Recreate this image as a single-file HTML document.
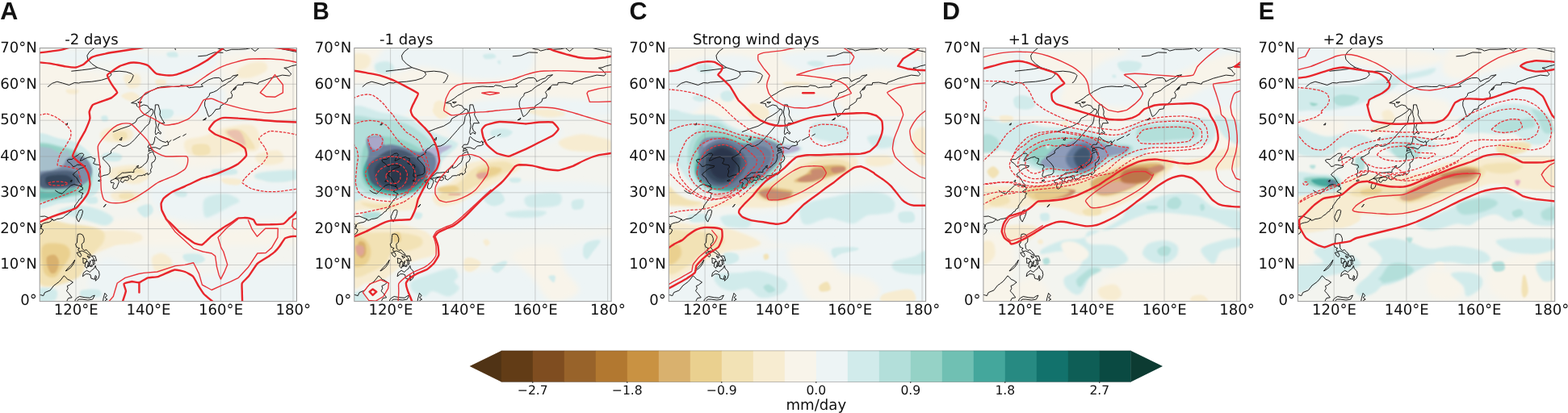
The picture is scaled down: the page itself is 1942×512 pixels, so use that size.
<!DOCTYPE html>
<html lang="en"><head><meta charset="utf-8"><title>Precipitation anomaly composites</title>
<style>html,body{margin:0;padding:0;background:#fff}body{width:1942px;height:512px;overflow:hidden}svg{display:block}text{text-rendering:geometricPrecision}.t{font-family:"DejaVu Sans","Liberation Sans",sans-serif;font-size:18.1px;fill:#111}.c{font-family:"DejaVu Sans","Liberation Sans",sans-serif;font-size:15.6px;fill:#111}.L{font-family:"Liberation Sans",Arial,Helvetica,sans-serif;font-weight:700;font-size:30.5px;fill:#111}.g{stroke:#8f8f8f;stroke-width:.7;stroke-opacity:.55;fill:none}.k{stroke:#111;stroke-width:.95;fill:none;stroke-linejoin:round;stroke-linecap:round}.z{stroke:#e8262c;stroke-width:2.4;fill:none;stroke-linejoin:round;stroke-linecap:round}.p{stroke:#e8343a;stroke-width:1.4;fill:none;stroke-linejoin:round}.n{stroke:#e8343a;stroke-width:1.3;fill:none;stroke-dasharray:3.5 1.6;stroke-linejoin:round}</style></head><body>
<svg width="1942" height="512" viewBox="0 0 1942 512" role="img" aria-label="Composite precipitation anomaly maps">
<defs>
<clipPath id="cp0"><rect x="49.2" y="59.5" width="318.3" height="314.1"/></clipPath>
<clipPath id="cp1"><rect x="438.8" y="59.5" width="318.3" height="314.1"/></clipPath>
<clipPath id="cp2"><rect x="828.3" y="59.5" width="318.3" height="314.1"/></clipPath>
<clipPath id="cp3"><rect x="1217.9" y="59.5" width="318.3" height="314.1"/></clipPath>
<clipPath id="cp4"><rect x="1607.4" y="59.5" width="318.3" height="314.1"/></clipPath>
<filter id="b1" x="-30%" y="-30%" width="160%" height="160%"><feGaussianBlur stdDeviation="0.8"/></filter>
<filter id="b2" x="-30%" y="-30%" width="160%" height="160%"><feGaussianBlur stdDeviation="1.6"/></filter>
<filter id="b3" x="-30%" y="-30%" width="160%" height="160%"><feGaussianBlur stdDeviation="3.2"/></filter>
<filter id="b5" x="-40%" y="-40%" width="180%" height="180%"><feGaussianBlur stdDeviation="5"/></filter>
</defs>
<rect width="1942" height="512" fill="#fff"/>
<g id="panel-A">
<rect x="49.2" y="59.5" width="318.3" height="314.1" fill="#f3f4ef"/>
<g clip-path="url(#cp0)">
<path d="M48,81.1C56.2,71.5 83.2,83.5 97.4,86C111.7,88.5 125.4,91.2 133.7,95.9C141.9,100.6 149.6,108.5 146.9,114C144.1,119.5 123.2,123.9 117.2,128.9C111.2,133.8 122.1,141.2 110.6,143.7C99.1,146.2 58.4,154.1 48,143.7C37.6,133.2 39.8,90.7 48,81.1Z" fill="#f8f4ea" filter="url(#b3)"/>
<path d="M64.5,64.6C74.9,62.4 108.4,60.7 130.4,61.3C152.4,61.8 174.3,67.3 196.3,67.9C218.3,68.4 249.8,62.9 262.2,64.6C274.6,66.2 275.9,72.3 270.4,77.8C264.9,83.3 244.4,95.9 229.2,97.5C214.1,99.2 193.5,91.2 179.8,87.7C166.1,84.1 160.6,77.8 146.9,76.1C133.1,74.5 110.6,78 97.4,77.8C84.2,77.5 73.3,76.7 67.8,74.5C62.3,72.3 54,66.8 64.5,64.6Z" fill="#edf4f5" filter="url(#b3)"/>
<path d="M275.4,71.2C290.3,66 352.6,55.8 368,67.9C383.4,80 380.1,131 368,143.7C355.8,156.3 312.8,147.5 295.2,143.7C277.5,139.8 264.9,128 262.2,120.6C259.5,113.2 276.5,107.4 278.7,99.2C280.9,91 260.5,76.4 275.4,71.2Z" fill="#f8f4ea" filter="url(#b3)"/>
<path d="M179.8,112.4C188.1,106.3 221,107.4 237.5,107.4C254,107.4 274.6,106.3 278.7,112.4C282.8,118.4 277.3,138.5 262.2,143.7C247.1,148.9 201.8,148.9 188.1,143.7C174.3,138.5 171.6,118.4 179.8,112.4Z" fill="#edf4f5" filter="url(#b3)"/>
<path d="M212.8,146.9C225.1,142.5 252.8,150.2 278.7,151.8C304.5,153.5 353.1,147.7 368,156.8C382.9,165.8 380.1,198.5 368,206.2C355.8,213.9 318.3,202.9 295.2,202.9C272,202.9 244.4,210.3 229.2,206.2C214.1,202.1 207.3,188.1 204.5,178.2C201.8,168.3 200.4,151.3 212.8,146.9Z" fill="#f8f4ea" filter="url(#b3)"/>
<path d="M188.1,232.5C199,225.1 248.7,226.4 278.7,225.9C308.7,225.3 353.1,222.6 368,229.2C382.9,235.8 380.1,258.6 368,265.4C355.8,272.3 321,269.6 295.2,270.4C269.3,271.2 230.6,276.7 212.8,270.4C194.9,264.1 177.1,239.9 188.1,232.5Z" fill="#edf4f5" filter="url(#b3)"/>
<path d="M105.7,278.6C120.8,273.4 170.2,269.3 196.3,270.4C222.4,271.5 233.6,283.8 262.2,285.2C290.8,286.6 350.4,275.9 368,278.6C385.6,281.4 411.7,297.8 368,301.7C324.3,305.5 149.4,305.5 105.7,301.7C62,297.8 90.6,283.8 105.7,278.6Z" fill="#f8f4ea" filter="url(#b3)"/>
<path d="M130.4,319.7C144.1,314.8 173.2,343.1 212.8,344.4C252.4,345.8 342.1,323 368,328C393.9,332.9 407.6,366.4 368,374.1C328.4,381.8 170,383.2 130.4,374.1C90.8,365 116.7,324.7 130.4,319.7Z" fill="#edf4f5" filter="url(#b3)"/>
<path d="M127.1,161.7C130.7,159.2 140.8,156.8 146.9,156.8C152.9,156.8 160.9,159 163.3,161.7C165.8,164.5 165.5,170.8 161.7,173.2C157.8,175.7 146.3,176.8 140.3,176.5C134.2,176.3 127.6,174.1 125.4,171.6C123.2,169.1 123.5,164.2 127.1,161.7Z" fill="#f7ecd1" filter="url(#b2)"/>
<path d="M140.3,165C142.2,163.2 152.4,162.3 155.1,163.4C157.8,164.5 158.7,169.8 156.7,171.6C154.8,173.4 146.3,175.2 143.6,174.1C140.8,173 138.3,166.8 140.3,165Z" fill="#f2e2b5" filter="url(#b1)"/>
<path d="M229.2,174.9C232.5,171.1 245.7,171.1 254,168.3C262.2,165.6 269.1,160.6 278.7,158.4C288.3,156.2 304.5,153.2 311.6,155.1C318.8,157 320.4,164.7 321.5,170C322.6,175.2 322.6,183.4 318.2,186.4C313.8,189.5 304.5,186.7 295.2,188.1C285.8,189.5 272.4,194.1 262.2,194.7C252,195.2 239.7,194.7 234.2,191.4C228.7,188.1 226,178.7 229.2,174.9Z" fill="#f7ecd1" filter="url(#b2)"/>
<path d="M240.8,181.5C243,179.8 252.9,179.3 255.6,180.7C258.4,182 259.5,188.1 257.3,189.7C255.1,191.4 245.2,191.9 242.4,190.6C239.7,189.2 238.6,183.1 240.8,181.5Z" fill="#f2e2b5" filter="url(#b1)"/>
<path d="M278.7,161.7C280.9,159.9 293,158.7 298.5,160.9C303.9,163.1 308.9,170.9 311.6,174.9C314.4,178.9 317.1,183.7 314.9,184.8C312.7,185.9 303.4,183.7 298.5,181.5C293.5,179.3 288.6,174.9 285.3,171.6C282,168.3 276.5,163.5 278.7,161.7Z" fill="#f2e2b5" filter="url(#b1)"/>
<path d="M281.2,163.4C282,161.4 293,159.8 296.8,162.5C300.7,165.3 305,177.9 304.2,179.8C303.4,181.8 295.7,176.8 291.9,174.1C288,171.3 280.3,165.3 281.2,163.4Z" fill="#e9b9ad" fill-opacity="0.8" filter="url(#b1)"/>
<path d="M318.2,191.4C322.3,188.9 339.1,185.1 344.6,186.4C350.1,187.8 352.8,196.6 351.2,199.6C349.5,202.6 339.9,204.3 334.7,204.6C329.5,204.8 322.6,203.5 319.9,201.3C317.1,199.1 314.1,193.8 318.2,191.4Z" fill="#f7ecd1" filter="url(#b2)"/>
<path d="M137,209.5C140.8,206.5 156.2,204.6 163.3,204.6C170.5,204.6 176.8,206.5 179.8,209.5C182.8,212.5 188.1,220.5 181.5,222.7C174.9,224.9 147.7,224.9 140.3,222.7C132.9,220.5 133.1,212.5 137,209.5Z" fill="#f7ecd1" filter="url(#b2)"/>
<path d="M146.9,212.8C150.2,210.7 168,208.4 173.2,209.5C178.4,210.6 181.5,217.3 178.2,219.4C174.9,221.4 158.7,223 153.5,221.9C148.2,220.8 143.6,214.9 146.9,212.8Z" fill="#f2e2b5" filter="url(#b2)"/>
<path d="M137,240.7C138.6,238.4 150.7,236.6 156.7,236.6C162.8,236.6 171.3,238.7 173.2,240.7C175.1,242.8 172.7,247.3 168.3,249C163.9,250.6 152.1,252 146.9,250.6C141.6,249.2 135.3,243.1 137,240.7Z" fill="#f7ecd1" filter="url(#b2)"/>
<path d="M148.5,240.7C150.7,239.6 160.6,239.1 163.3,239.9C166.1,240.7 167.2,244.6 165,245.7C162.8,246.8 152.9,247.3 150.2,246.5C147.4,245.7 146.3,241.8 148.5,240.7Z" fill="#f2e2b5" filter="url(#b1)"/>
<path d="M150.2,216C154.3,214.4 176,214.1 179.8,216C183.7,217.9 177.3,225.9 173.2,227.5C169.1,229.2 158.9,227.8 155.1,225.9C151.3,224 146,217.6 150.2,216Z" fill="#f7ecd1" filter="url(#b2)"/>
<path d="M113.9,288.5C118.9,286 137,284.9 146.9,285.2C156.7,285.5 169.4,287.7 173.2,290.1C177.1,292.6 179.3,298.4 169.9,300C160.6,301.7 126.5,302 117.2,300C107.9,298.1 109,291 113.9,288.5Z" fill="#f7ecd1" filter="url(#b2)"/>
<path d="M275.4,220.9C278.7,220.1 295.2,221.2 298.5,222.6C301.7,224 298.5,228.4 295.2,229.2C291.9,230 282,228.9 278.7,227.5C275.4,226.2 272.1,221.8 275.4,220.9Z" fill="#f7ecd1" filter="url(#b1)"/>
<path d="M153.5,94.2C155.4,91.5 168.3,90.7 171.6,92.6C174.9,94.5 175.1,103 173.2,105.8C171.3,108.5 163.3,111 160,109.1C156.7,107.2 151.5,97 153.5,94.2Z" fill="#f7ecd1" filter="url(#b2)"/>
<path d="M295.2,86C297.9,83 306.1,79.1 311.6,77.8C317.1,76.4 325.1,76.1 328.1,77.8C331.1,79.4 332.5,84.6 329.8,87.7C327,90.7 317.4,94.5 311.6,95.9C305.9,97.3 297.9,97.5 295.2,95.9C292.4,94.2 292.4,89 295.2,86Z" fill="#f7ecd1" filter="url(#b2)"/>
<path d="M150.2,119C150.2,117 159.5,113.7 163.3,114C167.2,114.3 173.2,118.7 173.2,120.6C173.2,122.5 167.2,125.8 163.3,125.6C159.5,125.3 150.2,120.9 150.2,119Z" fill="#f7ecd1" filter="url(#b1)"/>
<path d="M193,99.2C194.6,98.1 202.6,98.1 204.5,99.2C206.5,100.3 206.2,104.7 204.5,105.8C202.9,106.9 196.6,106.9 194.6,105.8C192.7,104.7 191.4,100.3 193,99.2Z" fill="#f7ecd1" filter="url(#b1)"/>
<path d="M82.6,110.7C84.8,110 95.5,110.6 97.4,111.6C99.4,112.5 96.3,115.8 94.1,116.5C91.9,117.2 86.2,116.6 84.2,115.7C82.3,114.7 80.4,111.4 82.6,110.7Z" fill="#f7ecd1" filter="url(#b1)"/>
<path d="M188.1,319.7C189.4,316 197.1,313.4 201.2,313.9C205.4,314.5 211.4,319.3 212.8,323C214.1,326.7 212.8,334 209.5,336.2C206.2,338.4 196.6,338.9 193,336.2C189.4,333.4 186.7,323.4 188.1,319.7Z" fill="#f7ecd1" filter="url(#b2)"/>
<path d="M48,281.9C52.1,278.3 63.7,279.7 72.7,280.3C81.8,280.8 92.8,283 102.4,285.2C112,287.4 120.2,290.7 130.4,293.4C140.5,296.2 177.1,300.3 163.3,301.7C149.6,303.1 67.2,305 48,301.7C28.8,298.4 43.9,285.5 48,281.9Z" fill="#f7ecd1" filter="url(#b2)"/>
<path d="M48,291.7C61.7,281.8 111.2,291.2 130.4,291.7C149.6,292.3 161.7,292.8 163.3,295C165,297.2 148,301.6 140.3,304.9C132.6,308.2 124.9,310.9 117.2,314.8C109.5,318.6 99.6,323.3 94.1,328C88.6,332.6 88.6,338.7 84.2,342.8C79.9,346.9 73.8,351.3 67.8,352.7C61.7,354 51.3,361.2 48,351C44.7,340.9 34.3,301.6 48,291.7Z" fill="#f7ecd1" filter="url(#b2)"/>
<path d="M48,295C55.1,286.2 83.8,290.6 90.8,293.4C97.8,296.1 90.8,306 90,311.5C89.2,317 88,321.6 85.9,326.3C83.8,331 81.2,335.9 77.7,339.5C74.1,343.1 69.4,346.6 64.5,347.7C59.5,348.8 50.7,354.9 48,346.1C45.3,337.3 40.9,303.8 48,295Z" fill="#f2e2b5" filter="url(#b2)"/>
<path d="M48,288.5C51.3,285.8 60.6,284.9 67.8,285.2C74.9,285.5 85.1,287.4 90.8,290.1C96.6,292.9 109.5,299.8 102.4,301.7C95.2,303.6 57.1,303.9 48,301.7C38.9,299.5 44.7,291.2 48,288.5Z" fill="#f2e2b5" filter="url(#b2)"/>
<path d="M52.9,304.9C55.6,301 62.8,301.6 67.8,301.6C72.7,301.6 79.4,302.4 82.6,304.9C85.8,307.4 87.8,311.6 86.7,316.4C85.6,321.2 79.2,329.2 76,333.7C72.9,338.3 71.1,342.5 67.8,343.6C64.5,344.7 58.8,343.5 56.2,340.3C53.6,337.2 52.7,330.6 52.1,324.7C51.6,318.8 50.3,308.7 52.9,304.9Z" fill="#ead08f" filter="url(#b2)"/>
<path d="M58.7,318.1C60.3,316.1 65.4,315 67.8,316.1C70.2,317.2 72.8,321.2 73,324.7C73.3,328.1 71.1,334.8 69.4,337C67.7,339.3 64.7,339.7 62.8,338.2C61,336.7 58.9,331.3 58.2,328C57.5,324.6 57.1,320 58.7,318.1Z" fill="#d9b16e" filter="url(#b1)"/>
<path d="M64.5,331.6C65.3,330.8 69.5,330.7 70.2,331.6C71,332.5 69.9,336.2 69.1,337C68.3,337.8 66.1,337.4 65.3,336.5C64.5,335.6 63.7,332.4 64.5,331.6Z" fill="#d99a8c" fill-opacity="0.8" filter="url(#b1)"/>
<path d="M127.1,191.4C128.7,189.7 136.3,188.6 140.3,188.9C144.3,189.2 149.9,191.2 151,193C152.1,194.8 150.3,198.7 146.9,199.6C143.4,200.6 133.7,200.2 130.4,198.8C127.1,197.4 125.4,193 127.1,191.4Z" fill="#d1ebeb" filter="url(#b1)"/>
<path d="M72.7,260.5C75.5,258.6 89.2,254.9 97.4,254.7C105.7,254.6 115,257.1 122.1,259.7C129.3,262.3 138.9,267.1 140.3,270.4C141.6,273.7 136.2,279 130.4,279.4C124.6,279.8 113.9,275 105.7,272.8C97.4,270.6 86.4,268.3 81,266.3C75.5,264.2 70,262.4 72.7,260.5Z" fill="#d1ebeb" filter="url(#b2)"/>
<path d="M105.7,245.7C107.3,244.3 116.4,243.1 118.9,244C121.3,245 122.1,250.1 120.5,251.4C118.9,252.8 111.4,253.2 109,252.2C106.5,251.3 104,247 105.7,245.7Z" fill="#d1ebeb" filter="url(#b1)"/>
<path d="M169.9,258.8C170.8,256.1 181.5,252.5 184.8,253.1C188.1,253.6 190.5,259.4 189.7,262.1C188.9,264.9 183.1,270.1 179.8,269.6C176.5,269 169.1,261.6 169.9,258.8Z" fill="#d1ebeb" filter="url(#b1)"/>
<path d="M252.3,249C253.7,244.6 257.3,243.7 262.2,242.4C267.1,241 276.2,239.6 282,240.7C287.7,241.8 296.3,246.5 296.8,249C297.4,251.4 290.2,252.8 285.3,255.5C280.3,258.3 272.4,263.2 267.1,265.4C261.9,267.6 256.4,271.5 254,268.7C251.5,266 250.9,253.3 252.3,249Z" fill="#d1ebeb" filter="url(#b2)"/>
<path d="M216.1,237.4C218,236.6 228.7,237.1 230.9,238.2C233.1,239.3 231.2,243.2 229.2,244C227.3,244.8 221.6,244.3 219.4,243.2C217.2,242.1 214.1,238.2 216.1,237.4Z" fill="#d1ebeb" filter="url(#b1)"/>
<path d="M324.8,216C329.8,214.5 355.6,214.6 361.1,216C366.6,217.4 362.7,222.7 357.8,224.2C352.8,225.7 336.9,226.4 331.4,225.1C325.9,223.7 319.9,217.5 324.8,216Z" fill="#d1ebeb" filter="url(#b2)"/>
<path d="M227.6,315.6C230.3,314.2 241.3,313.7 245.7,314.8C250.1,315.9 254.5,320.1 254,322.2C253.4,324.2 246.6,327 242.4,327.1C238.3,327.3 231.7,324.9 229.2,323C226.8,321.1 224.9,317 227.6,315.6Z" fill="#d1ebeb" filter="url(#b1)"/>
<path d="M100.7,360.1C104,358.6 118.3,358 122.1,359.3C126,360.5 127.1,366 123.8,367.5C120.5,369 106.2,369.6 102.4,368.3C98.5,367.1 97.4,361.6 100.7,360.1Z" fill="#d1ebeb" filter="url(#b1)"/>
<path d="M48,357.6C51.6,355.3 66.1,356.8 69.4,359.3C72.7,361.7 71.3,370.1 67.8,372.4C64.2,374.8 51.3,375.7 48,373.3C44.7,370.8 44.4,359.9 48,357.6Z" fill="#d1ebeb" filter="url(#b2)"/>
<path d="M263.9,210.3C268,209.1 285.5,208.5 290.2,209.5C294.9,210.5 296,214.9 291.9,216.1C287.7,217.3 270.2,217.9 265.5,216.9C260.8,216 259.7,211.6 263.9,210.3Z" fill="#d1ebeb" filter="url(#b1)"/>
<path d="M319.9,214.4C327.6,212.5 360,209.8 368,211.1C376,212.5 375.7,220.8 368,222.7C360.2,224.6 329.5,224.1 321.5,222.7C313.5,221.3 312.1,216.4 319.9,214.4Z" fill="#d1ebeb" filter="url(#b2)"/>
<path d="M196.3,137C198.5,135.4 210.3,135.5 212.8,137C215.2,138.5 213.3,144.4 211.1,146.1C208.9,147.7 202.1,148.4 199.6,146.9C197.1,145.4 194.1,138.6 196.3,137Z" fill="#d1ebeb" filter="url(#b1)"/>
<path d="M207,65.4C208.5,64.5 215.5,63.8 217.7,64.6C219.9,65.4 221.7,69.4 220.2,70.4C218.7,71.3 210.8,71.2 208.7,70.4C206.5,69.5 205.5,66.4 207,65.4Z" fill="#d1ebeb" filter="url(#b1)"/>
<path d="M199.6,136.8C201.6,135.7 210.4,135.3 212.8,136.3C215.1,137.3 215.7,141.8 213.6,142.9C211.5,144 202.7,143.9 200.4,142.9C198.1,141.8 197.5,137.9 199.6,136.8Z" fill="#d1ebeb" filter="url(#b1)"/>
<path d="M125.4,144.4C126.3,143.3 130.7,142.8 132,143.6C133.4,144.4 134.5,148.3 133.7,149.4C132.9,150.5 128.5,151 127.1,150.2C125.7,149.4 124.6,145.5 125.4,144.4Z" fill="#d1ebeb" filter="url(#b1)"/>
<path d="M40,171C45.8,157.5 65,170.5 75,172C85,173.5 92.8,175.3 100,180C107.2,184.7 114,192.5 118,200C122,207.5 123.8,218.3 124,225C124.2,231.7 123,236 119,240C115,244 107.3,247 100,249C92.7,251 85,251.3 75,252C65,252.7 45.8,266.5 40,253C34.2,239.5 34.2,184.5 40,171Z" fill="#d1ebeb" filter="url(#b1)"/>
<path d="M40,182C46.7,171.5 69.5,181 80,183C90.5,185 97.3,188.8 103,194C108.7,199.2 113,207 114,214C115,221 114,231 109,236C104,241 95.5,242.3 84,244C72.5,245.7 47.3,256.3 40,246C32.7,235.7 33.3,192.5 40,182Z" fill="#95d2c6" filter="url(#b2)"/>
<path d="M40,236C43.3,234.7 53.3,238 60,238C66.7,238 74.2,237.3 80,236C85.8,234.7 94.2,229 95,230C95.8,231 90.8,239.3 85,242C79.2,244.7 67.5,245.3 60,246C52.5,246.7 43.3,247.7 40,246C36.7,244.3 36.7,237.3 40,236Z" fill="#44a79c" fill-opacity="0.6" filter="url(#b2)"/>
<path d="M40,185C43.3,179.5 54.2,182.2 60,183C65.8,183.8 71,189.5 75,190C79,190.5 82.2,184.3 84,186C85.8,187.7 86.7,195.7 86,200C85.3,204.3 84.3,209.3 80,212C75.7,214.7 66.7,215.3 60,216C53.3,216.7 43.3,221.2 40,216C36.7,210.8 36.7,190.5 40,185Z" fill="#b4aed0" fill-opacity="0.55" filter="url(#b1)"/>
<path d="M83,197C85.8,194.8 90.8,191.8 95,192C99.2,192.2 104.8,195 108,198C111.2,201 113.5,206 114,210C114.5,214 113.3,218.7 111,222C108.7,225.3 104.3,228.2 100,230C95.7,231.8 90,232.5 85,233C80,233.5 75,233.3 70,233C65,232.7 59.2,232 55,231C50.8,230 46.7,229.8 45,227C43.3,224.2 41.7,216.7 45,214C48.3,211.3 59.5,212.5 65,211C70.5,209.5 75,207.3 78,205C81,202.7 80.2,199.2 83,197Z" fill="#7d8fa8" filter="url(#b1)"/>
<path d="M50,217C53.3,213.7 63.7,212.8 70,212C76.3,211.2 83.2,210.8 88,212C92.8,213.2 97.7,216.3 99,219C100.3,221.7 98.3,225.8 96,228C93.7,230.2 89.7,231 85,232C80.3,233 73.8,234 68,234C62.2,234 53,234.8 50,232C47,229.2 46.7,220.3 50,217Z" fill="#4d6078" filter="url(#b2)"/>
<path d="M57,220C59,218 65.5,217.3 70,217C74.5,216.7 80.7,216.8 84,218C87.3,219.2 90,222.2 90,224C90,225.8 87.7,227.8 84,229C80.3,230.2 72.3,231 68,231C63.7,231 59.8,230.8 58,229C56.2,227.2 55,222 57,220Z" fill="#34465c" filter="url(#b1)"/>
<path d="M49,279C55.8,267 77.3,277 90,278C102.7,279 118.7,281.3 125,285C131.3,288.7 130.5,294.2 128,300C125.5,305.8 115.5,312.5 110,320C104.5,327.5 105.2,340 95,345C84.8,350 56.7,361 49,350C41.3,339 42.2,291 49,279Z" fill="#f2e2b5" filter="url(#b2)"/>
<path d="M52.9,304.9C55.6,301 62.8,301.6 67.8,301.6C72.7,301.6 79.4,302.4 82.6,304.9C85.8,307.4 87.8,311.6 86.7,316.4C85.6,321.2 79.2,329.2 76,333.7C72.9,338.3 71.1,342.5 67.8,343.6C64.5,344.7 58.8,343.5 56.2,340.3C53.6,337.2 52.7,330.6 52.1,324.7C51.6,318.8 50.3,308.7 52.9,304.9Z" fill="#ead08f" filter="url(#b2)"/>
<path d="M58.7,318.1C60.3,316.1 65.4,315 67.8,316.1C70.2,317.2 72.8,321.2 73,324.7C73.3,328.1 71.1,334.8 69.4,337C67.7,339.3 64.7,339.7 62.8,338.2C61,336.7 58.9,331.3 58.2,328C57.5,324.6 57.1,320 58.7,318.1Z" fill="#d9b16e" filter="url(#b1)"/>
<path d="M239.1,180.2C241.9,178.2 254,177.8 257.3,179.5C260.6,181.2 261.7,188.6 258.9,190.6C256.2,192.5 244.1,193.1 240.8,191.4C237.5,189.6 236.4,182.1 239.1,180.2Z" fill="#f2e2b5" filter="url(#b1)"/>
<path class="g" d="M94,59.5 V373.6M183.7,59.5 V373.6M273.3,59.5 V373.6M363,59.5 V373.6M49.2,328.5 H367.5M49.2,283.6 H367.5M49.2,238.8 H367.5M49.2,194 H367.5M49.2,149.2 H367.5M49.2,104.3 H367.5"/>
<path class="k" transform="translate(0 0)" d="M47,276.9 49.6,277.4 51,279.2 50.1,282.3 51.4,281.9 51.9,278.3 54.1,276.9 57.3,276 60.4,275.6 63.1,274.2 64.9,271.5 65.8,273.3 68,272.9 70.7,271.5 74.3,271.1 78.3,269.8 80.6,267.5 84.2,265.3 86,263 88.7,261.7 89.5,259.4 92.2,258.1 92.7,255 94.5,252.7 96.7,249.6 98.5,246.9 101.2,245.1 101.2,242.4 103,239.7 100.8,238.8 97.6,237.5 99.9,235.7 102.5,234.8 102.1,232.1 99.4,230.8 101.7,229.9 98.5,226.7 96.7,223.6 94.5,220 91.3,217.7 90.4,216 93.1,213.7 95.4,211.9 97.6,209.7 100.8,208.3 104.8,207.4 105.7,205.6 102.1,205.2 98.5,204.3 95.4,204.3 93.1,206.1 90.4,206.5 89.1,204.7 87.3,202.5 84.2,200.7 83.3,198.5 85.1,197.6 89.1,197.6 91.3,195.8 93.6,194 96.7,192.2 98.5,190.4 102.1,190 103.9,191.7 101.7,194.9 99.9,197.6 99.4,199.4 102.1,198.5 105.2,196.7 108.8,195.3 112.9,194.4 114.7,195.8 117.8,196.7 117.3,199.8 115.5,202.5 118.7,203.9 121.4,204.3 123.6,204.7 124.5,207.4 122.3,209.2 123.6,211.9 123.2,214.2 122.3,216.4 122.3,218.6 124.1,219.5 126.8,218.2 129,217.3 131.7,216.9 134.4,216 136.2,213.7 136.2,211 136.2,207.4 134.8,204.7 132.6,202.1 129.9,199.4 127.7,197.1 127.7,194.9 130.8,194 134.4,191.7 137.5,190 137.5,187.3 140.2,184.1 142,183.7 143.3,181.9 146.9,179.2 149.2,179.6 151.9,181.4 155.9,181 160.4,178.7 163.5,176.1 167.1,172.5 170.2,168.9 173.8,164.9 177,161.3 180.6,156.8 184.6,153.6 185.9,149.2 186.4,144.7 189.1,141.1 190,138.8 189.1,135.7 185,134.8 182.8,131.2 177.9,129.9 173.8,131.7 171.6,133 169.3,131.2 169.3,128.5 162.6,127.6 166.7,125.8 172.5,122.3 177,118.7 182.8,115.5 185.9,113.3 190.4,111.1 194.9,108.8 201.6,107.5 208.3,107 215.1,107.5 221.8,107.5 224,105.7 230.8,106.6 234.3,108.8 237.5,108.4 242,107.9 247.8,107.9 251.4,107 249.1,104.8 258.1,99 264.4,96.7 271.1,96.3 274.2,98.5 275.1,101.2 280.1,98.5 285.9,96.7 288.1,94 294.9,92.7 289.5,96.7 286.8,99.8 282.3,102.1 280.1,104.3 275.6,106.6 272.5,108.8 268.9,112 264.4,114.2 259.9,115.5 259,118.7 255.4,122.3 253.6,126.7 253.6,131.2 255.4,135.7 256.8,140.2 258.6,144.7 262.1,142.4 265.7,138 267.1,135.7 272.5,134.8 273.3,131.2 277.8,128.5 281.4,125.8 282.3,122.3 286.8,121.4 287.7,117.8 285.9,114.2 288.1,112 290.4,108.8 294.9,105.2 301.1,105.2 301.6,102.5 309.2,102.1 319.5,104.3 320.4,102.1 327.1,99.8 333.9,97.2 340.6,95.4 349.6,93.1 358.5,94 360.8,91.8 358.5,89.5 356.3,86.4 351.8,84.2 356.3,83.7 360.8,81.9 368.4,80.1M266.6,58.6 272.5,60.8 276.9,61.3 280.1,63.1 286.8,61.3 295.8,61.3 304.7,60.8 310.6,59.5 315.9,63.5 320.4,59.9 322.7,58.6M342.8,59.1 349.6,60.8 358.5,62.6 365.3,64 368.8,64.9M47,284.1 51,283.2 53.7,285 51.9,289 49.2,290.8 47,291.7M98.5,260.8 101.2,259.9 102.5,261.2 102.1,264.4 100.8,268.4 98.5,272.9 97.6,275.1 95.4,272 94.5,268.9 96.3,264.8ZM121.8,224 123.6,222.9 125.2,223.4 123.6,224.5ZM139.8,222.7 142.9,221.3 146.5,222.7 147.4,225.4 145.6,229.9 144.7,232.5 142,234.3 139.8,233 140.2,229.4 141.5,227.2 139.8,226.3 137.5,226.7 137.1,224.5ZM149.6,223.1 151,220.9 155,219.5 159.5,220 159.9,221.8 157.7,224 154.6,223.1 152.3,226.3 150.1,225.4ZM142.9,220.9 145.1,219.1 148.7,216.4 151.4,214.2 154.6,214.2 159,213.7 162.6,213.3 165.8,213.7 165.8,210.6 168.9,208.3 169.3,206.1 171.6,205.2 170.2,207.9 172.5,208.3 176.1,206.5 178.3,203.9 181.4,201.6 182.8,198.5 183.7,194.9 183.2,191.7 185,189.5 187.7,188.6 189.5,187.7 190.4,191.3 192.2,194 192.7,196.7 190.9,200.3 188.2,201.6 187.7,203.9 188.2,207.4 186.8,209.7 186.4,211.9 187.3,213.3 185,215.5 183.2,216.9 182.8,214.6 181.9,215.1 180.1,215.5 179.2,217.7 178.3,216.4 176.1,217.7 173.4,217.7 170.2,218.2 169.8,219.5 167.1,221.3 164.9,223.1 162.2,221.8 161.7,219.5 162.6,218.2 159.5,217.7 156.3,219.1 152.3,219.5 148.7,220.9 146.9,220.9ZM184.1,187.3 185,183.7 182.8,182.3 185,179.2 189.5,179.2 191.3,174.7 191.8,170.2 192.7,169.3 196.7,172.9 200.7,175.2 205.2,176.5 207.4,174.7 208.8,179.2 206.1,180.5 201.6,181 198.5,184.1 198,185 192.7,182.8 188.2,182.8 185.5,183.7 189.1,185.9 186.4,186.4ZM192.7,129.9 196.2,129.9 197.1,133.5 198.5,138 198,142.4 200.7,147.8 203.9,152.7 197.1,152.7 195.3,158.1 197.1,162.6 199.4,164 198.9,166.2 195.8,164 193.1,167.1 192.2,164.4 192.7,160.4 193.6,155.9 192.7,151.4 193.1,146.9 191.8,142.4 191.3,138.8 192.2,134.4ZM208.3,177 211.9,173.8M214.6,173.8 219.6,171.1 223.1,169.3M226.7,168.4 230.3,166.2M251.8,148.7 255.4,146 254.5,148.3 251.8,148.7M289,111.1 292.6,107.9 291.3,110.6ZM171.1,126.7 175.6,126.3 173.8,128.1ZM128.5,256.3 131.2,253.2 129.9,255.4ZM96.7,290.4 99.4,289.9 102.5,291.3 104.3,295.8 103.9,300.2 101.2,302.5 101.7,307.9 104.3,310.5 107,309.7 108.8,311.4 112,315 112.4,316.8 108.8,315 105.7,312.8 101.7,311 98.1,311.9 96.7,309.2 98.5,307.9 96.7,307 94.9,306.5 93.6,302.5 95.4,301.1 95.8,294.9ZM95.4,313.2 99,312.8 100.8,316.4 99.4,318.6 97.6,317.3ZM81.5,335.7 84.6,332.1 88.2,328.5 90.9,324.9 92.7,322.2 91.3,326.7 87.8,331.6 83.7,334.8ZM103,320 107,321.3 107.9,323.1 105.7,326.2 103,326.2 103,323.1ZM107,324 109.7,324.9 108.8,328.9 107.5,332.5 105.2,330.3 105.7,326.7ZM109.3,330.7 111.1,327.1 112,323.1 110.6,327.6ZM111.1,329.4 114.2,328.5 114.2,330.3 112,330.3ZM113.8,322.2 116.4,322.7 117.3,327.1 115.5,328.5 115.1,324.4ZM113.3,317.3 117.8,317.3 119.6,323.1 116.4,323.1 116,320.4ZM108.4,317.3 112,318.6 110.2,320ZM102.5,342.4 103.4,338.3 107.5,335.2 111.1,337.4 113.8,334.8 116.4,333 118.2,329.4 119.1,333 122.3,336.1 123.2,340.6 121.8,345.1 118.2,348.2 119.6,342.8 118.2,341.5 117.3,346.4 112.9,345.1 112,340.6 109.3,339.7 106.6,339.7ZM47,364.8 50.5,365.7 53.7,366.6 55.5,362.6 62.2,359.9 66.7,354 69.8,351.8 73.4,349.1 76.1,346 79.2,341.9 81.5,343.7 83.7,346.4 86.4,347.3 90.4,350 86.4,353.1 83.3,354.5 84.2,357.6 82.4,360.8 85.1,363.4 89.1,368.8 84.6,369.7 82.8,373.3 82.4,376M92.7,375.6 93.1,371.5 95.4,369.3 98.5,367.5 105.2,368.8 111.5,369.3 114.7,367 117.3,366.1 114.7,371.1 108.8,372 102.1,371.1 97.2,371.1 94.5,374.7 94,376M127.2,375.6 128.1,369.7 129.4,365.2 129.9,363.4 132.6,366.6 129.9,368.8 133,371.1 130.8,372 129.4,375.6M118.2,58.2 116.4,59.9 111.1,64 107.9,68.9 108.8,73.8 113.8,79.2 120.5,83.7 130.3,86.8 136.6,89.1 138,92.7 133.9,96.7 125.4,99.4 113.8,101.2 100.3,102.1 97.6,103 92.2,102.5 85.5,105.5 77.4,103 70.7,101.2 64.4,103.4 59.5,107.5M136.6,89.1 147.8,88.2 156.3,89.1 163.1,91.3 165.3,93.6 163.5,98.1 161.3,101.6 159.5,102.5M88.7,88.2 101.7,86.8 112,85.5 120.5,83.7M245.6,69.8 255.4,68.9 260.8,66.7 265.7,64.9 276,65.3M216.4,58.2 217.3,61.7M140.2,163.5 150.1,159.5 159.9,156.3 168,151.4 170.2,146.9 177,143.3 183.7,138.8 187.3,135.3M47,268 50.5,268.4 55.5,268 60,269.8 64.4,271.5M68.5,236.1 72.5,238.8 77,240.2 80.6,236.6 84.2,233.4 87.8,229.9 91.8,228.5 96.3,229.9 99.4,230.8M148.3,172.9 151,170.2 150.5,173.4ZM81.5,154.5 83.7,152.7 83.3,154.5ZM87.3,224.5 89.1,223.1 88.7,224.9Z"/>
<path class="z" d="M48,65.6C49.2,65.4 62.3,63.8 64.5,63.4C66.7,63.1 75.8,61.7 77.7,61.3C79.5,60.9 88.3,58.2 89.2,58"/>
<path class="z" d="M48,77.3C49.2,77.4 62.1,78.7 64.5,79.1C66.9,79.5 78.8,82.1 81,82.4C83.1,82.7 92.4,83.8 94.1,83.5C95.8,83.3 102.6,80.4 104,79.4C105.5,78.5 112,71.8 113.9,70.9C115.8,69.9 127.7,67.1 130.4,66.6C133,66 147.3,63.7 150.2,63.3C153.1,62.8 167.6,60.7 169.9,60.3C172.2,59.9 180.6,58.2 181.5,58"/>
<path class="z" d="M278.7,58C278,58.5 270.5,64.1 268.8,65.4C267.1,66.7 258,73.8 255.6,75.3C253.2,76.8 238.6,84.7 235.8,86C233.1,87.3 219.9,92.1 217.7,92.6C215.5,93.1 207.9,93.5 206.2,93.4C204.4,93.3 195.2,92 193.8,91.4C192.5,90.9 188.8,86.8 188.1,86C187.3,85.2 184.2,81.6 183.1,81.1C182,80.5 174.8,78.3 173.2,78.1C171.7,77.9 163.5,77.5 161.7,77.8C159.9,78.1 150.3,81.1 148.5,81.9C146.8,82.7 138.9,88.2 137.8,89C136.7,89.8 133,92.2 132.9,92.9C132.7,93.7 134.8,98.1 135.3,99.2C135.9,100.3 139.5,106.3 140.3,107.4C141,108.6 145.4,113.8 145.2,114.8C145,115.9 139.3,120.6 137.8,121.4C136.4,122.2 127.1,125.2 125.4,125.9C123.8,126.5 115.8,129.2 114.7,130.2C113.6,131.1 110.9,137.5 110.6,138.7C110.4,140 111.8,145.2 111.4,146.9C111.1,148.6 106.7,159.5 105.7,161.7C104.6,163.9 98.6,174.2 97.4,176.5C96.3,178.8 90.1,191.3 90,193C89.9,194.7 94.8,198.6 95.8,199.6C96.8,200.6 103.1,205.1 104,206.2C105,207.3 108.5,213.4 109,214.4C109.4,215.5 110.4,219.9 110.6,220.9C110.8,222 111.6,227.9 111.4,229.2C111.3,230.5 109.6,237.6 109,239.1C108.3,240.5 103.5,247.6 102.4,249C101.3,250.3 95.7,257 94.1,258C92.6,259 83.1,262.2 81,263C78.8,263.7 66.9,267.8 64.5,268.7C62.1,269.7 49.2,275.1 48,275.6"/>
<path class="z" d="M331.4,58C333,58.2 350,60.1 352.8,60.5C355.6,60.8 368.1,62.8 369.3,62.9"/>
<path class="z" d="M369.3,151.5C367.5,151.4 348.2,150.7 344.6,150.5C341,150.3 323.5,148.8 319.9,148.5C316.2,148.2 298.4,146.7 295.2,146.6C291.9,146.4 277.6,145.7 275.4,146.1C273.2,146.4 266.7,150 265.5,151C264.3,152 258.8,158.9 258.9,160.1C259,161.2 265.5,165.8 267.1,166.7C268.8,167.6 279.9,171.6 282,172.4C284,173.3 293.6,177.3 295.2,178.2C296.7,179 302.7,182.9 303.4,184C304.1,185 305.6,191.6 305,193C304.4,194.4 297.1,201.6 295.2,202.9C293.2,204.2 281.1,210.1 278.7,211.1C276.3,212.2 264.3,217 262.2,217.7C260.1,218.5 253.1,220 250.7,220.9C248.3,221.9 232,229.6 229.2,230.8C226.5,232.1 214.7,237.2 212.8,238.2C210.8,239.3 203.9,244.6 202.9,245.7C201.9,246.7 199.8,251.2 199.6,252.2C199.4,253.3 199.9,259 200.4,260.5C200.9,261.9 205.5,270.9 206.2,272C206.9,273.1 209.1,274.7 210.3,275.8C211.5,277 220.5,286.2 222,287.6C223.5,288.9 229.5,293.4 230.8,294.4C232.2,295.4 239.2,300.6 240.6,301.3C242.1,301.9 248.9,304 250.4,303.4C251.9,302.8 259.3,295 261.2,293.4C263,291.9 274.1,283.9 275.8,282.7C277.6,281.5 284.2,277.7 285.6,276.8C287.1,275.9 293.8,270.9 295.4,270.4C297,270 305.8,270 307.2,270.2C308.5,270.3 313.2,271.8 314,272.4C314.8,273 316.4,277.8 317.9,278.3C319.4,278.7 332.1,278.3 334.6,278.3C337,278.2 349.4,277.9 351.2,277.3C353,276.7 358.2,270.6 359,270C359.8,269.3 361.2,268.7 362,268C362.7,267.3 368.8,260.7 369.3,260.2"/>
<path class="z" d="M369.8,293C369.2,293 363.2,292.8 362,293C360.7,293.1 354.3,294.5 353.1,295.4C352,296.3 347.2,304 346.3,305.2C345.4,306.4 341.4,311.1 340.4,312C339.4,313 334.2,316.8 332.6,317.9C331,318.9 320.7,324.9 318.9,326.7C317.1,328.5 309.5,340.5 308.1,342.3C306.7,344.1 300.4,349.7 299.8,351.1C299.2,352.6 299.8,360.2 299.8,361.9C299.8,363.6 300.1,373.2 300.1,374.1"/>
<path class="z" d="M151.8,374.1C152.1,373.1 155.8,362.5 155.9,360.9C156,359.3 152.9,352.7 153.5,351.8C154,351 162,349.2 163.3,349C164.7,348.9 171,350.5 172.4,350.2C173.9,349.9 181.4,345 183.1,344.4C184.9,343.9 193.9,343.5 196.3,342.8C198.7,342.1 213.7,335 216.1,334.5C218.5,334.1 227.6,336.4 229.2,337C230.9,337.6 237.9,341.5 239.1,342.8C240.3,344.1 244.8,352.7 245.7,354.3C246.7,355.9 251,362.8 252.3,364.2C253.6,365.7 263,373.4 263.9,374.1"/>
<path class="z" d="M172.4,350.2 172.4,362.6"/>
<path class="p" d="M369.3,77.8C368.1,77.5 355.8,74.8 352.8,74.5C349.8,74.1 331.6,72.9 328.1,72.8C324.6,72.8 308.7,73 305,73.7C301.4,74.3 281.8,79.9 278.7,81.1C275.5,82.2 264.6,87.9 262.2,89.3C259.8,90.8 247.5,99.6 245.7,100.8C243.9,102 239.9,105.3 237.5,105.8C235.1,106.3 215.8,107.2 212.8,107.4C209.8,107.7 198.7,108.5 196.3,109.1C193.9,109.7 181.5,114.5 179.8,115.7C178.1,116.9 173.7,124.1 173.2,125.6C172.7,127 172.9,134.3 173.2,135.4C173.6,136.6 177,140.4 178.2,141.2C179.4,142 187.8,145.9 189.7,146.9C191.6,147.9 202.2,154.7 204.5,155.1C206.8,155.5 218.8,153.3 221,152.7C223.2,152 232.5,148 234.2,146.9C235.9,145.8 243.1,138.9 244.1,137.8C245,136.7 246.8,133.2 247.4,132.1C248,131.1 251.2,124.6 252.3,123.9C253.4,123.2 260.3,121.9 262.2,122.3C264.1,122.6 275.7,127.9 278.7,128.9C281.7,129.8 299.8,134.7 303.4,135.4C307,136.2 325.1,139.3 328.1,139.6C331.1,139.8 341.6,139.2 344.6,138.7C347.6,138.3 367.5,134.2 369.3,133.8"/>
<path class="p" d="M340.5,92.6 350.4,105 350.4,114.8 340.5,120.3 329.8,119.8 322.3,114.8 331.4,104.1Z"/>
<path class="p" d="M150.2,153.5C152.3,153 159.4,152.4 161.7,153.5C164,154.5 171.1,162 173.2,164.2C175.4,166.3 181.5,172.7 183.1,174.9C184.8,177.1 187.6,184.5 189.7,186.4C191.8,188.3 200.4,193.1 204.5,193.8C208.7,194.6 228.1,193.1 230.9,193.8C233.7,194.6 232.7,199.7 232.5,201.3C232.4,202.8 230.9,207.9 229.2,209.5C227.6,211.1 219.4,216.1 216.1,217.7C212.8,219.4 199.9,223.9 196.3,225.9C192.7,227.9 183.1,235.3 179.8,237.4C176.5,239.6 166.3,245.9 163.3,247.3C160.4,248.7 152.8,251 150.2,251.4C147.5,251.8 139.1,251.8 137,251.4C134.8,251 129.9,248.9 128.7,247.3C127.6,245.7 125.9,238.6 125.4,235.8C125,233 124.8,222.3 124.6,219.3C124.5,216.3 124.1,210 123.8,206.2C123.5,202.4 120.7,185.3 121.3,181.5C122,177.7 128.5,170.6 130.4,168.3C132.3,166 138.3,159.9 140.3,158.4C142.2,156.9 148,154 150.2,153.5Z"/>
<path class="p" d="M204.4,270 217.1,287.6 239.6,308.1 251.4,312 262.1,314 266.6,317.4 268.5,330.6 271,340.4 273.4,346.1 277.8,337.4 281.7,328.1 276.8,312 273.9,307.1 270,294.4 280.7,282.7 294.4,271.9"/>
<path class="p" d="M307.2,272.4 312.1,284.1 318.4,293.2 328.7,283.2 344.3,283.2 343.9,294.4 336.5,307.1 329.2,313.5 318.9,314 307.2,331.6 295.4,344.3 285.6,349.2 273.9,354.1 262.1,359.5 250.4,353.1 246.5,339.4 239.6,325.7 228.9,328.4 217.1,329.6 194.6,337 178,338.4 171.6,339.5 155.1,344.4 145.2,351 140.3,367.5 134.5,374.1"/>
<path class="p" d="M369.3,270.4 362.7,272 361.9,280.3 364.4,283.6 369.3,285.2"/>
<path class="n" d="M48,142.8C48.7,142.6 56.4,141 57.9,141.1C59.3,141.2 66.1,143.5 67.8,144.4C69.5,145.3 79.5,152.2 81,153.5C82.4,154.7 87.1,160.5 87.5,161.7C88,162.9 88,168.5 87.5,170C87.1,171.4 81.9,179.9 81,181.5C80,183.1 75.1,189.7 74.4,191.4C73.6,193.1 70.6,203.5 71.1,204.6C71.6,205.6 79.1,205.8 81,206.2C82.8,206.6 94.5,208.7 95.8,209.5C97.1,210.3 97.9,215.6 98.3,216.8C98.6,218 101,224.5 100.7,225.9C100.4,227.3 95.8,234.6 94.1,235.8C92.4,237 79.8,241.5 77.7,242.4C75.5,243.2 66.7,246.5 64.5,247.3C62.3,248.1 49.2,253.1 48,253.6"/>
<ellipse class="n" cx="71.6" cy="227.5" rx="12" ry="2.4"/>
<path class="n" d="M369.3,167.5C368.1,167.2 355.4,164.5 352.8,164.2C350.3,163.8 336.8,162.3 334.7,162.5C332.6,162.8 325.8,166.8 324.8,167.5C323.8,168.2 320.5,171.3 320.7,172.4C320.9,173.6 327.3,181.6 328.1,183.1C328.9,184.6 331.6,191.6 331.4,193C331.2,194.5 326.3,201.5 324.8,202.9C323.4,204.4 313.2,211.5 311.6,212.8C310.1,214.1 304.2,220 303.4,221C302.6,222.1 299.5,225.8 300.1,226.7C300.7,227.7 309.6,233.3 311.6,234.1C313.7,234.9 325.7,237.2 328.1,237.4C330.5,237.7 341.6,237.7 344.6,237.4C347.6,237.2 367.5,234.4 369.3,234.1"/>
</g>
<rect x="49.2" y="59.5" width="318.3" height="314.1" fill="none" stroke="#9a9a9a" stroke-width="1"/>
<text class="L" transform="translate(0.2 24.4) scale(1 1)">A</text>
<text class="t" x="80.2" y="55.4">-2 days</text>
<text class="t" text-anchor="end" x="45.8" y="378">0°</text>
<text class="t" text-anchor="end" x="45.8" y="333.2">10°N</text>
<text class="t" text-anchor="end" x="45.8" y="288.5">20°N</text>
<text class="t" text-anchor="end" x="45.8" y="243.8">30°N</text>
<text class="t" text-anchor="end" x="45.8" y="199">40°N</text>
<text class="t" text-anchor="end" x="45.8" y="154.3">50°N</text>
<text class="t" text-anchor="end" x="45.8" y="109.5">60°N</text>
<text class="t" text-anchor="end" x="45.8" y="64.8">70°N</text>
<text class="t" text-anchor="middle" x="94.3" y="390.2">120°E</text>
<text class="t" text-anchor="middle" x="184" y="390.2">140°E</text>
<text class="t" text-anchor="middle" x="273.6" y="390.2">160°E</text>
<text class="t" text-anchor="middle" x="363.3" y="390.2">180°</text>
</g>
<g id="panel-B">
<rect x="438.8" y="59.5" width="318.3" height="314.1" fill="#f3f4ef"/>
<g clip-path="url(#cp1)">
<path d="M437,54.7 757,54.7 757,143.7 437,143.7Z" fill="#f8f4ea"/>
<path d="M486.4,58C502.9,56.4 541.4,57.7 568.8,58C596.3,58.3 636.1,55.5 651.2,59.6C666.3,63.8 662.2,76.7 659.4,82.7C656.7,88.8 647.1,93.4 634.7,95.9C622.4,98.4 599,98.9 585.3,97.5C571.6,96.2 563.3,90.1 552.3,87.7C541.4,85.2 530.4,82.2 519.4,82.7C508.4,83.3 496,91 486.4,91C476.8,91 464.5,86.6 461.7,82.7C459,78.9 465.8,72 470,67.9C474.1,63.8 470,59.6 486.4,58Z" fill="#edf4f5" filter="url(#b3)"/>
<path d="M437,107.4C445.2,100.8 474.1,103.6 486.4,104.1C498.8,104.7 508.4,104.1 511.1,110.7C513.9,117.3 515.3,138.2 502.9,143.7C490.6,149.2 448,149.7 437,143.7C426,137.6 428.8,114 437,107.4Z" fill="#edf4f5" filter="url(#b3)"/>
<path d="M585.3,127.2C596.3,123.4 622.6,120.6 651.2,120.6C679.8,120.6 739.4,123.4 757,127.2C774.6,131 785.6,140.9 757,143.7C728.4,146.4 613.9,146.4 585.3,143.7C556.7,140.9 574.3,131 585.3,127.2Z" fill="#edf4f5" filter="url(#b3)"/>
<path d="M552.3,146.9C557.8,141.1 579.8,142.5 601.8,143.6C623.7,144.7 669.1,149.1 684.2,153.5C699.3,157.9 697.9,164.5 692.4,170C686.9,175.4 666.3,183.1 651.2,186.4C636.1,189.7 615.5,191.1 601.8,189.7C588,188.4 577.1,185.3 568.8,178.2C560.6,171.1 546.8,152.7 552.3,146.9Z" fill="#edf4f5" filter="url(#b3)"/>
<path d="M585.3,235.8C599,227 622.6,226.4 651.2,225.9C679.8,225.3 739.4,223.7 757,232.5C774.6,241.3 769.1,270.4 757,278.6C744.8,286.9 707.3,280.8 684.2,281.9C661,283 637.5,285.8 618.2,285.2C599,284.7 574.3,286.9 568.8,278.6C563.3,270.4 571.6,244.6 585.3,235.8Z" fill="#edf4f5" filter="url(#b3)"/>
<path d="M511.1,328C523.5,321.9 559.2,339.2 585.3,337.8C611.4,336.5 639.1,326.9 667.7,319.7C696.3,312.6 742.1,285.9 757,295C771.9,304.1 798,360.9 757,374.1C716,387.3 552.1,381.8 511.1,374.1C470.2,366.4 498.8,334 511.1,328Z" fill="#edf4f5" filter="url(#b3)"/>
<path d="M634.7,314.8C638.8,308.2 673.2,301.3 684.2,304.9C695.1,308.5 695.1,326.9 700.6,336.2C706.1,345.5 719.9,354.6 717.1,360.9C714.4,367.2 693.8,376.8 684.2,374.1C674.5,371.3 667.7,354.3 659.4,344.4C651.2,334.5 630.6,321.4 634.7,314.8Z" fill="#f8f4ea" filter="url(#b3)"/>
<path d="M437,67.9C439.7,64.7 449.8,66 453.5,67.1C457.2,68.2 459.2,71.6 459.2,74.5C459.2,77.4 457.2,82.4 453.5,84.4C449.8,86.3 439.7,88.8 437,86C434.3,83.3 434.3,71 437,67.9Z" fill="#f7ecd1" filter="url(#b2)"/>
<path d="M465,79.4C467.2,77.2 476,75.3 479.8,76.1C483.7,76.9 488.1,81.8 488.1,84.4C488.1,87 483.4,91 479.8,91.8C476.3,92.6 469.1,91.4 466.7,89.3C464.2,87.2 462.8,81.6 465,79.4Z" fill="#d1ebeb" filter="url(#b2)"/>
<path d="M598.5,67.9C599.8,66.8 607.4,66 610,66.6C612.6,67.1 615.5,70.1 614.1,71.2C612.8,72.3 604.4,73.7 601.8,73.2C599.2,72.6 597.1,69 598.5,67.9Z" fill="#d1ebeb" filter="url(#b1)"/>
<path d="M615.8,76.1C615.9,75.3 619.3,74.6 619.9,75.3C620.4,76 619.8,80.1 619.1,80.2C618.4,80.4 615.6,76.9 615.8,76.1Z" fill="#d1ebeb" filter="url(#b1)"/>
<path d="M537.5,128.9C538.6,126 543,124.2 545.7,124.7C548.5,125.3 552.9,129.3 554,132.1C555.1,135 554.8,140.4 552.3,142C549.9,143.7 541.6,144.2 539.2,142C536.7,139.8 536.4,131.7 537.5,128.9Z" fill="#f7ecd1" filter="url(#b1)"/>
<path d="M437,135.4C439.2,133.8 447.4,132.4 450.2,133.8C452.9,135.2 455.7,142 453.5,143.7C451.3,145.3 439.7,145.1 437,143.7C434.3,142.3 434.8,137.1 437,135.4Z" fill="#d1ebeb" filter="url(#b2)"/>
<path d="M535.9,135.4C537.2,133.4 549,134 552.3,135.4C555.6,136.7 557,141.7 555.6,143.6C554.3,145.5 547.4,148.3 544.1,146.9C540.8,145.5 534.5,137.3 535.9,135.4Z" fill="#f7ecd1" filter="url(#b1)"/>
<path d="M608.4,161.7C610.6,160.1 618.8,159 623.2,159.2C627.6,159.5 634.2,161.6 634.7,163.4C635.3,165.1 630.6,169 626.5,170C622.4,170.9 613,170.5 610,169.1C607,167.8 606.2,163.4 608.4,161.7Z" fill="#d1ebeb" filter="url(#b1)"/>
<path d="M692.4,174.9C695.1,171.9 708.9,167.5 717.1,166.7C725.4,165.8 735.2,168.6 741.8,170C748.5,171.3 754.5,172.2 757,174.9C759.5,177.6 762.3,184.2 757,186.4C751.7,188.6 734.7,188.4 725.4,188.1C716,187.8 706.1,187 700.6,184.8C695.1,182.6 689.7,177.9 692.4,174.9Z" fill="#f7ecd1" filter="url(#b2)"/>
<path d="M651.2,137C652.6,135.4 675.9,134.5 684.2,135.4C692.4,136.2 702,140.3 700.6,141.9C699.3,143.6 684.2,146.1 675.9,145.2C667.7,144.4 649.8,138.6 651.2,137Z" fill="#f7ecd1" filter="url(#b2)"/>
<path d="M573.8,206.2C579,202.4 584.7,201.5 593.5,199.6C602.3,197.7 618,194.7 626.5,194.7C635,194.7 641.9,197.1 644.6,199.6C647.4,202.1 646,206.2 643,209.5C639.9,212.8 632,216.1 626.5,219.4C621,222.7 616.9,225.4 610,229.3C603.1,233.1 592.7,238.6 585.3,242.5C577.9,246.3 572.4,250.1 565.5,252.3C558.7,254.5 549,256.7 544.1,255.6C539.2,254.5 536.1,249 535.9,245.7C535.6,242.5 538.1,239.7 542.5,235.9C546.8,232 557,227.6 562.2,222.7C567.4,217.7 568.5,210 573.8,206.2Z" fill="#f7ecd1" filter="url(#b2)"/>
<path d="M583.6,211.1C589.1,207.3 594.6,204.7 601.8,202.9C608.9,201.1 620.7,199.6 626.5,200.4C632.3,201.3 637.5,205.1 636.4,207.9C635.3,210.6 625.7,214.2 619.9,216.9C614.1,219.7 607.5,221.7 601.8,224.3C596,226.9 591.3,229.3 585.3,232.6C579.3,235.9 571.6,241.4 565.5,244.1C559.5,246.8 552.9,249 549,249C545.2,249 541.9,246.3 542.5,244.1C543,241.9 547.9,238.9 552.3,235.9C556.7,232.8 563.6,230.1 568.8,226C574,221.9 578.2,215 583.6,211.1Z" fill="#f2e2b5" filter="url(#b2)"/>
<path d="M593.5,211.1C596.6,209.4 605.3,207.3 610,207C614.7,206.8 620.7,208 621.5,209.5C622.4,211 618.2,214.4 615,216.1C611.7,217.7 605.6,219.1 601.8,219.4C597.9,219.7 593.3,219.1 591.9,217.7C590.5,216.4 590.5,212.9 593.5,211.1Z" fill="#ead08f" filter="url(#b2)"/>
<path d="M590.2,216.1C591.6,214.7 599.6,213.1 601.8,213.6C604,214.2 604.8,218 603.4,219.4C602,220.8 595.7,222.4 593.5,221.9C591.3,221.3 588.9,217.5 590.2,216.1Z" fill="#dfa596" filter="url(#b1)"/>
<path d="M555.6,239.9 570.5,239.9 570.5,242 555.6,242Z" fill="#dfa596" filter="url(#b1)"/>
<path d="M542.5,232.5C545.5,231.2 557.8,229.5 562.2,230C566.6,230.6 569.9,234.3 568.8,235.8C567.7,237.3 559.8,238.8 555.6,239.1C551.5,239.3 546.3,238.5 544.1,237.4C541.9,236.3 539.4,233.7 542.5,232.5Z" fill="#ead08f" filter="url(#b2)"/>
<path d="M437,244C441.1,242.1 453.5,247.7 461.7,249C470,250.2 479,252.2 486.4,251.4C493.8,250.6 500.7,245 506.2,244C511.7,243.1 518,243.2 519.4,245.7C520.8,248.1 519.9,256.2 514.4,258.8C509,261.4 496.6,261.2 486.4,261.3C476.3,261.4 461.7,259.8 453.5,259.7C445.2,259.5 439.7,263.1 437,260.5C434.3,257.9 432.9,245.9 437,244Z" fill="#f7ecd1" filter="url(#b2)"/>
<path d="M446.9,251.4C448.3,250.6 462.5,253.1 470,253.1C477.4,253.1 488.6,250.7 491.4,251.4C494.1,252.1 491.4,256.1 486.4,257.2C481.5,258.3 468.3,259 461.7,258C455.1,257.1 445.5,252.2 446.9,251.4Z" fill="#f2e2b5" filter="url(#b2)"/>
<path d="M437,278.6C439.7,266.8 445.2,282 453.5,281.9C461.7,281.8 476.8,277.8 486.4,277.8C496,277.8 504,280.1 511.1,281.9C518.3,283.7 524.6,285.2 529.3,288.5C533.9,291.8 537.5,297.3 539.2,301.7C540.8,306.1 542.5,311.6 539.2,314.9C535.9,318.2 526,319.3 519.4,321.5C512.8,323.7 505.1,325.3 499.6,328C494.1,330.8 490.8,334.6 486.4,337.9C482,341.2 478.7,345.6 473.2,347.8C467.8,350 459.5,350.3 453.5,351.1C447.4,351.9 439.7,364.8 437,352.8C434.3,340.7 434.3,290.4 437,278.6Z" fill="#f7ecd1" filter="url(#b2)"/>
<path d="M437,292.6C441.1,283.8 452.1,289.2 461.7,288.5C471.3,287.8 485.1,287.7 494.7,288.5C504.3,289.3 514.7,291 519.4,293.4C524.1,295.9 524.3,300.6 522.7,303.3C521,306.1 515.5,308.3 509.5,309.9C503.5,311.6 491.6,310.7 486.4,313.2C481.2,315.7 482.3,320.9 478.2,324.7C474.1,328.6 468.6,333.5 461.7,336.3C454.9,339 441.1,348.5 437,341.2C432.9,333.9 432.9,301.4 437,292.6Z" fill="#f2e2b5" filter="url(#b2)"/>
<path d="M437,296.6C439.5,291.3 448.1,294.2 451.8,296.6C455.5,299.1 459,306.4 459.2,311.5C459.5,316.6 457.2,324.2 453.5,327.1C449.8,330 439.7,333.9 437,328.8C434.3,323.7 434.5,302 437,296.6Z" fill="#ead08f" filter="url(#b2)"/>
<path d="M444.4,299.9C445.8,298.3 450.4,299.1 451.8,301.6C453.3,304.1 453.9,311.7 453.1,314.8C452.4,317.8 448.9,320.6 447.2,320C445.6,319.5 443.7,314.8 443.3,311.5C442.8,308.1 443,301.6 444.4,299.9Z" fill="#d9b16e" filter="url(#b1)"/>
<path d="M440.3,304.9C441.4,303 448.5,304.1 450.2,305.7C451.8,307.4 451.3,312.9 450.2,314.8C449.1,316.6 445.2,318.4 443.6,316.7C441.9,315.1 439.2,306.7 440.3,304.9Z" fill="#dfa596" filter="url(#b1)"/>
<path d="M486.4,290.1C487.5,288.2 493,287.1 494.7,288.5C496.3,289.9 497.4,296.5 496.3,298.4C495.2,300.3 489.7,301.4 488.1,300C486.4,298.7 485.3,292.1 486.4,290.1Z" fill="#ead08f" filter="url(#b1)"/>
<path d="M575.4,321.4C577,318.9 581.9,318.9 585.3,319.7C588.6,320.5 595.5,323.6 595.5,326.3C595.5,329.1 588.6,334.8 585.3,336.2C582,337.6 577.4,337 575.7,334.5C574.1,332.1 573.8,323.8 575.4,321.4Z" fill="#f7ecd1" filter="url(#b1)"/>
<path d="M598.5,298.3C598.8,296.9 602,296.1 603.4,296.6C604.8,297.2 607,300.2 606.7,301.6C606.4,303 603.1,305.4 601.8,304.9C600.4,304.3 598.2,299.7 598.5,298.3Z" fill="#f7ecd1" filter="url(#b1)"/>
<path d="M601.8,238.2C604.8,236.3 614.4,235.6 618.2,237.4C622.1,239.2 625.9,245.9 624.8,249C623.7,252 615.8,255.5 611.7,255.5C607.5,255.5 601.8,251.8 600.1,249C598.5,246.1 598.8,240.2 601.8,238.2Z" fill="#d1ebeb" filter="url(#b1)"/>
<path d="M651.2,244C655,241.3 668.8,239.6 675.9,239.1C683.1,238.5 691.3,238.2 694,240.7C696.8,243.2 696.8,251.2 692.4,253.9C688,256.6 674.3,256.9 667.7,257.2C661.1,257.5 655.6,257.7 652.9,255.5C650.1,253.3 647.4,246.8 651.2,244Z" fill="#d1ebeb" filter="url(#b2)"/>
<path d="M708.9,249C710.9,247 720,245.8 722.1,247.3C724.1,248.8 723.3,256 721.2,258C719.2,260 711.8,260.7 709.7,259.2C707.6,257.7 706.8,250.9 708.9,249Z" fill="#d1ebeb" filter="url(#b1)"/>
<path d="M626.5,263.8C629.2,262.3 643,260.8 651.2,260.5C659.4,260.2 673.2,260.8 675.9,262.1C678.7,263.5 674.5,267.5 667.7,268.7C660.8,270 641.6,270.4 634.7,269.6C627.9,268.7 623.7,265.3 626.5,263.8Z" fill="#d1ebeb" filter="url(#b2)"/>
<path d="M631.4,220.9C633.4,220.1 642.7,220.1 644.6,220.9C646.5,221.8 644.9,225.1 643,225.9C641,226.7 635,226.7 633.1,225.9C631.2,225.1 629.5,221.8 631.4,220.9Z" fill="#d1ebeb" filter="url(#b1)"/>
<path d="M512.8,263.8C514.3,262.8 521.3,263.4 522.7,264.6C524.1,265.8 522.5,270.2 521,271.2C519.5,272.2 515,271.6 513.6,270.4C512.2,269.1 511.3,264.7 512.8,263.8Z" fill="#d1ebeb" filter="url(#b1)"/>
<path d="M450.2,263.8C453.2,262.4 466.9,261.9 470,263C473,264.1 471.3,269 468.3,270.4C465.3,271.7 454.9,272.3 451.8,271.2C448.8,270.1 447.2,265.2 450.2,263.8Z" fill="#b3dfda" filter="url(#b2)"/>
<path d="M529.3,341.1C535.9,338.7 543.6,335.9 549,334.5C554.5,333.2 559.2,331.5 562.2,332.9C565.3,334.3 567.4,340 567.5,342.8C567.6,345.5 562.3,346.9 562.6,349.4C562.8,351.8 570,354.6 568.8,357.6C567.7,360.6 561.1,367 555.6,367.5C550.1,368 540.8,360.9 535.9,360.9C530.9,360.9 530.1,367.5 526,367.5C521.9,367.5 513.9,363.9 511.1,360.9C508.4,357.9 506.5,352.7 509.5,349.4C512.5,346.1 522.7,343.6 529.3,341.1Z" fill="#d1ebeb" filter="url(#b2)"/>
<path d="M608.4,331.2C609.5,328.9 619.9,324.7 623.2,323.8C626.5,323 629.2,323.9 628.1,326.3C627,328.7 619.9,337.3 616.6,338.2C613.3,339 607.3,333.6 608.4,331.2Z" fill="#d1ebeb" filter="url(#b1)"/>
<path d="M679.2,342.8C679.5,341.4 686.4,340.7 687.5,342C688.6,343.2 687.2,350.1 685.8,350.2C684.4,350.3 678.9,344.2 679.2,342.8Z" fill="#d1ebeb" filter="url(#b1)"/>
<path d="M725.4,301.6C728.9,298.8 742.1,296.4 743.5,298.3C744.8,300.2 736.3,309.3 733.6,313.1C730.8,317 728.9,321.1 727,321.4C725.1,321.6 722.3,318.1 722.1,314.8C721.8,311.5 721.8,304.3 725.4,301.6Z" fill="#d1ebeb" filter="url(#b1)"/>
<path d="M437,364.2C439.2,362 447.4,359.3 450.2,360.9C452.9,362.6 455.7,371.9 453.5,374.1C451.3,376.3 439.7,375.7 437,374.1C434.3,372.4 434.8,366.4 437,364.2Z" fill="#d1ebeb" filter="url(#b2)"/>
<path d="M429.2,138.3C437,121.4 463.4,138.9 476.1,140.2C488.8,141.5 496.2,142.5 505.4,146.1C514.5,149.7 521.3,157 530.8,161.7C540.2,166.4 556.1,171.2 562,174.4C567.9,177.7 568.6,177.2 566.3,181.2C564,185.3 552.8,193 548.3,198.8C543.9,204.7 542.8,210.9 539.5,216.4C536.3,221.9 532.9,227.8 528.8,232C524.7,236.3 520.7,239.5 515.1,241.8C509.6,244.1 505.4,245.6 495.6,246.1C485.8,246.6 467.6,245.4 456.5,244.7C445.5,244 433.7,259.5 429.2,241.8C424.6,224.1 421.4,155.2 429.2,138.3Z" fill="#d1ebeb" filter="url(#b2)"/>
<path d="M429.2,150C435.7,136.6 456.5,147.3 468.2,147.7C480,148 490.6,149.5 499.5,152.3C508.4,155.2 514.6,159.7 521.4,164.6C528.1,169.6 536.2,176.2 540.1,182.2C544,188.2 544.8,194.8 544.8,200.8C544.8,206.7 543.4,212.6 540.1,218C536.8,223.3 529.5,229.3 524.9,233C520.2,236.7 517.7,238.4 512.2,240.2C506.7,242.1 500.3,243.9 491.7,244.1C483.1,244.3 468.2,243.3 460.4,241.4C452.6,239.6 450,235.2 444.8,233C439.6,230.8 431.8,242 429.2,228.1C426.6,214.3 422.7,163.4 429.2,150Z" fill="#b3dfda" filter="url(#b2)"/>
<path d="M448.7,189.1C450,182.9 450.7,180.6 454.6,177.3C458.5,174.1 466,170.5 472.2,169.5C478.3,168.6 485.2,169.9 491.7,171.5C498.2,173.1 505.4,176.4 511.2,179.3C517.1,182.2 522.9,185.5 526.8,189.1C530.8,192.6 533.7,195.9 534.7,200.8C535.6,205.7 534.5,213.4 532.7,218.4C530.9,223.3 527.4,227.1 523.9,230.5C520.4,233.8 517,236.3 511.6,238.3C506.2,240.2 498.9,242 491.7,242.2C484.5,242.4 474.8,241.4 468.2,239.5C461.7,237.5 456.2,234.6 452.6,230.5C449,226.3 447.4,221.4 446.8,214.5C446.1,207.6 447.4,195.2 448.7,189.1Z" fill="#95d2c6" filter="url(#b2)"/>
<path d="M450.3,208.6C451.2,204.7 452.9,200.5 456.5,196.9C460.2,193.3 466.9,189.4 472.2,187.1C477.4,184.8 482.6,183.5 487.8,183.2C493,182.9 498.2,183.5 503.4,185.2C508.6,186.8 514.7,189.7 519,193C523.3,196.2 527,200.8 529.2,204.7C531.3,208.6 532.5,212.4 531.9,216.4C531.4,220.4 528.9,225.1 525.9,228.5C522.8,231.9 518.6,234.7 513.6,236.7C508.5,238.7 502.2,240.3 495.6,240.6C489,241 480.4,240.3 474.1,238.7C467.9,237 461.9,233.9 458.1,230.9C454.3,227.8 452.4,224 451.1,220.3C449.8,216.6 449.4,212.5 450.3,208.6Z" fill="#44a79c" filter="url(#b1)"/>
<path d="M524.9,185.2C531.1,182.7 553.2,180.2 558.1,180.3C563,180.3 556.3,183.7 554.2,185.5C552.1,187.4 547.3,188.1 545.4,191.4C543.5,194.8 544.5,201.3 542.9,205.7C541.2,210 537.7,214.6 535.6,217.4C533.6,220.1 532.5,223.7 530.8,222.3C529,220.8 526.5,213.2 524.9,208.6C523.3,204 521,198.8 521,194.9C521,191 518.7,187.6 524.9,185.2Z" fill="#b4aed0" fill-opacity="0.9" filter="url(#b1)"/>
<path d="M454.6,171.5C457.2,168.2 468.7,168.2 472.2,169.5C475.6,170.8 472.8,177.7 475.1,179.3C477.4,180.9 481.4,178.6 485.8,179.3C490.2,179.9 495.9,181.6 501.5,183.2C507,184.8 514.5,188.4 519,189.1C523.6,189.7 525.5,186.3 528.8,187.1C532.1,187.9 536.8,190.7 538.6,193.9C540.4,197.2 540.4,202.9 539.5,206.6C538.7,210.4 536.4,216.4 533.7,216.4C530.9,216.4 526.7,209.9 522.9,206.6C519.2,203.4 515.8,199.5 511.2,196.9C506.7,194.3 500.8,191.8 495.6,191C490.4,190.2 484.9,190.5 480,192C475.1,193.5 469.9,197 466.3,199.8C462.7,202.6 460.5,208.1 458.5,208.6C456.5,209.1 454.5,206 454.2,202.7C453.9,199.5 456.5,194.3 456.5,189.1C456.6,183.9 452,174.7 454.6,171.5Z" fill="#6d819d" filter="url(#b1)"/>
<path d="M455.6,171.1C457.8,169.1 469.1,168.2 472.2,169.5C475.2,170.9 475.1,176.5 474.1,179.3C473.1,182.1 468.9,185.8 466.3,186.1C463.7,186.5 460.3,183.8 458.5,181.2C456.7,178.7 453.3,173 455.6,171.1Z" fill="#b4aed0" fill-opacity="0.85" filter="url(#b1)"/>
<path d="M455.6,206.6C456.5,203.4 459,201.8 462.4,198.8C465.8,195.9 471.8,191.3 476.1,189.1C480.3,186.8 483.5,185.5 487.8,185.2C492,184.8 496.9,185.5 501.5,187.1C506,188.7 511.2,192 515.1,194.9C519,197.9 522.6,201.4 524.9,204.7C527.2,207.9 529.1,211.1 528.8,214.5C528.5,217.8 525.9,221.6 522.9,224.6C520,227.6 515.8,230.5 511.2,232.4C506.7,234.4 501.5,236 495.6,236.3C489.7,236.7 481.6,235.7 476.1,234.4C470.5,233.1 465.6,231.2 462.4,228.5C459.1,225.8 457.7,222 456.5,218.4C455.4,214.7 454.6,209.9 455.6,206.6Z" fill="#46586f" filter="url(#b1)"/>
<path d="M464.3,208.6C465.6,204.7 470.2,200.5 474.1,197.9C478,195.2 482.9,193 487.8,192.6C492.7,192.2 498.7,193.3 503.4,195.3C508.1,197.3 513.2,201.3 516.1,204.7C519,208 521.1,212 521,215.4C520.8,218.8 518.1,222.6 515.1,225.2C512.2,227.8 507.6,229.8 503.4,231.1C499.2,232.4 494.5,233.2 489.7,233C485,232.8 479,232 475.1,230.1C471.2,228.1 468.1,224.9 466.3,221.3C464.5,217.7 463,212.5 464.3,208.6Z" fill="#33445a" filter="url(#b2)"/>
<path d="M478,210.5C479.6,207.6 485.8,205 489.7,204.7C493.6,204.4 498.5,206.6 501.5,208.6C504.4,210.5 507.3,213.8 507.3,216.4C507.3,219 504.4,222.4 501.5,224.2C498.5,226 493.3,227.5 489.7,227.1C486.2,226.8 481.9,225 480,222.3C478,219.5 476.4,213.5 478,210.5Z" fill="#2a384c" filter="url(#b2)"/>
<path class="g" d="M483.6,59.5 V373.6M573.2,59.5 V373.6M662.9,59.5 V373.6M752.6,59.5 V373.6M438.8,328.5 H757M438.8,283.6 H757M438.8,238.8 H757M438.8,194 H757M438.8,149.2 H757M438.8,104.3 H757"/>
<path class="k" transform="translate(389.6 0)" d="M47,276.9 49.6,277.4 51,279.2 50.1,282.3 51.4,281.9 51.9,278.3 54.1,276.9 57.3,276 60.4,275.6 63.1,274.2 64.9,271.5 65.8,273.3 68,272.9 70.7,271.5 74.3,271.1 78.3,269.8 80.6,267.5 84.2,265.3 86,263 88.7,261.7 89.5,259.4 92.2,258.1 92.7,255 94.5,252.7 96.7,249.6 98.5,246.9 101.2,245.1 101.2,242.4 103,239.7 100.8,238.8 97.6,237.5 99.9,235.7 102.5,234.8 102.1,232.1 99.4,230.8 101.7,229.9 98.5,226.7 96.7,223.6 94.5,220 91.3,217.7 90.4,216 93.1,213.7 95.4,211.9 97.6,209.7 100.8,208.3 104.8,207.4 105.7,205.6 102.1,205.2 98.5,204.3 95.4,204.3 93.1,206.1 90.4,206.5 89.1,204.7 87.3,202.5 84.2,200.7 83.3,198.5 85.1,197.6 89.1,197.6 91.3,195.8 93.6,194 96.7,192.2 98.5,190.4 102.1,190 103.9,191.7 101.7,194.9 99.9,197.6 99.4,199.4 102.1,198.5 105.2,196.7 108.8,195.3 112.9,194.4 114.7,195.8 117.8,196.7 117.3,199.8 115.5,202.5 118.7,203.9 121.4,204.3 123.6,204.7 124.5,207.4 122.3,209.2 123.6,211.9 123.2,214.2 122.3,216.4 122.3,218.6 124.1,219.5 126.8,218.2 129,217.3 131.7,216.9 134.4,216 136.2,213.7 136.2,211 136.2,207.4 134.8,204.7 132.6,202.1 129.9,199.4 127.7,197.1 127.7,194.9 130.8,194 134.4,191.7 137.5,190 137.5,187.3 140.2,184.1 142,183.7 143.3,181.9 146.9,179.2 149.2,179.6 151.9,181.4 155.9,181 160.4,178.7 163.5,176.1 167.1,172.5 170.2,168.9 173.8,164.9 177,161.3 180.6,156.8 184.6,153.6 185.9,149.2 186.4,144.7 189.1,141.1 190,138.8 189.1,135.7 185,134.8 182.8,131.2 177.9,129.9 173.8,131.7 171.6,133 169.3,131.2 169.3,128.5 162.6,127.6 166.7,125.8 172.5,122.3 177,118.7 182.8,115.5 185.9,113.3 190.4,111.1 194.9,108.8 201.6,107.5 208.3,107 215.1,107.5 221.8,107.5 224,105.7 230.8,106.6 234.3,108.8 237.5,108.4 242,107.9 247.8,107.9 251.4,107 249.1,104.8 258.1,99 264.4,96.7 271.1,96.3 274.2,98.5 275.1,101.2 280.1,98.5 285.9,96.7 288.1,94 294.9,92.7 289.5,96.7 286.8,99.8 282.3,102.1 280.1,104.3 275.6,106.6 272.5,108.8 268.9,112 264.4,114.2 259.9,115.5 259,118.7 255.4,122.3 253.6,126.7 253.6,131.2 255.4,135.7 256.8,140.2 258.6,144.7 262.1,142.4 265.7,138 267.1,135.7 272.5,134.8 273.3,131.2 277.8,128.5 281.4,125.8 282.3,122.3 286.8,121.4 287.7,117.8 285.9,114.2 288.1,112 290.4,108.8 294.9,105.2 301.1,105.2 301.6,102.5 309.2,102.1 319.5,104.3 320.4,102.1 327.1,99.8 333.9,97.2 340.6,95.4 349.6,93.1 358.5,94 360.8,91.8 358.5,89.5 356.3,86.4 351.8,84.2 356.3,83.7 360.8,81.9 368.4,80.1M266.6,58.6 272.5,60.8 276.9,61.3 280.1,63.1 286.8,61.3 295.8,61.3 304.7,60.8 310.6,59.5 315.9,63.5 320.4,59.9 322.7,58.6M342.8,59.1 349.6,60.8 358.5,62.6 365.3,64 368.8,64.9M47,284.1 51,283.2 53.7,285 51.9,289 49.2,290.8 47,291.7M98.5,260.8 101.2,259.9 102.5,261.2 102.1,264.4 100.8,268.4 98.5,272.9 97.6,275.1 95.4,272 94.5,268.9 96.3,264.8ZM121.8,224 123.6,222.9 125.2,223.4 123.6,224.5ZM139.8,222.7 142.9,221.3 146.5,222.7 147.4,225.4 145.6,229.9 144.7,232.5 142,234.3 139.8,233 140.2,229.4 141.5,227.2 139.8,226.3 137.5,226.7 137.1,224.5ZM149.6,223.1 151,220.9 155,219.5 159.5,220 159.9,221.8 157.7,224 154.6,223.1 152.3,226.3 150.1,225.4ZM142.9,220.9 145.1,219.1 148.7,216.4 151.4,214.2 154.6,214.2 159,213.7 162.6,213.3 165.8,213.7 165.8,210.6 168.9,208.3 169.3,206.1 171.6,205.2 170.2,207.9 172.5,208.3 176.1,206.5 178.3,203.9 181.4,201.6 182.8,198.5 183.7,194.9 183.2,191.7 185,189.5 187.7,188.6 189.5,187.7 190.4,191.3 192.2,194 192.7,196.7 190.9,200.3 188.2,201.6 187.7,203.9 188.2,207.4 186.8,209.7 186.4,211.9 187.3,213.3 185,215.5 183.2,216.9 182.8,214.6 181.9,215.1 180.1,215.5 179.2,217.7 178.3,216.4 176.1,217.7 173.4,217.7 170.2,218.2 169.8,219.5 167.1,221.3 164.9,223.1 162.2,221.8 161.7,219.5 162.6,218.2 159.5,217.7 156.3,219.1 152.3,219.5 148.7,220.9 146.9,220.9ZM184.1,187.3 185,183.7 182.8,182.3 185,179.2 189.5,179.2 191.3,174.7 191.8,170.2 192.7,169.3 196.7,172.9 200.7,175.2 205.2,176.5 207.4,174.7 208.8,179.2 206.1,180.5 201.6,181 198.5,184.1 198,185 192.7,182.8 188.2,182.8 185.5,183.7 189.1,185.9 186.4,186.4ZM192.7,129.9 196.2,129.9 197.1,133.5 198.5,138 198,142.4 200.7,147.8 203.9,152.7 197.1,152.7 195.3,158.1 197.1,162.6 199.4,164 198.9,166.2 195.8,164 193.1,167.1 192.2,164.4 192.7,160.4 193.6,155.9 192.7,151.4 193.1,146.9 191.8,142.4 191.3,138.8 192.2,134.4ZM208.3,177 211.9,173.8M214.6,173.8 219.6,171.1 223.1,169.3M226.7,168.4 230.3,166.2M251.8,148.7 255.4,146 254.5,148.3 251.8,148.7M289,111.1 292.6,107.9 291.3,110.6ZM171.1,126.7 175.6,126.3 173.8,128.1ZM128.5,256.3 131.2,253.2 129.9,255.4ZM96.7,290.4 99.4,289.9 102.5,291.3 104.3,295.8 103.9,300.2 101.2,302.5 101.7,307.9 104.3,310.5 107,309.7 108.8,311.4 112,315 112.4,316.8 108.8,315 105.7,312.8 101.7,311 98.1,311.9 96.7,309.2 98.5,307.9 96.7,307 94.9,306.5 93.6,302.5 95.4,301.1 95.8,294.9ZM95.4,313.2 99,312.8 100.8,316.4 99.4,318.6 97.6,317.3ZM81.5,335.7 84.6,332.1 88.2,328.5 90.9,324.9 92.7,322.2 91.3,326.7 87.8,331.6 83.7,334.8ZM103,320 107,321.3 107.9,323.1 105.7,326.2 103,326.2 103,323.1ZM107,324 109.7,324.9 108.8,328.9 107.5,332.5 105.2,330.3 105.7,326.7ZM109.3,330.7 111.1,327.1 112,323.1 110.6,327.6ZM111.1,329.4 114.2,328.5 114.2,330.3 112,330.3ZM113.8,322.2 116.4,322.7 117.3,327.1 115.5,328.5 115.1,324.4ZM113.3,317.3 117.8,317.3 119.6,323.1 116.4,323.1 116,320.4ZM108.4,317.3 112,318.6 110.2,320ZM102.5,342.4 103.4,338.3 107.5,335.2 111.1,337.4 113.8,334.8 116.4,333 118.2,329.4 119.1,333 122.3,336.1 123.2,340.6 121.8,345.1 118.2,348.2 119.6,342.8 118.2,341.5 117.3,346.4 112.9,345.1 112,340.6 109.3,339.7 106.6,339.7ZM47,364.8 50.5,365.7 53.7,366.6 55.5,362.6 62.2,359.9 66.7,354 69.8,351.8 73.4,349.1 76.1,346 79.2,341.9 81.5,343.7 83.7,346.4 86.4,347.3 90.4,350 86.4,353.1 83.3,354.5 84.2,357.6 82.4,360.8 85.1,363.4 89.1,368.8 84.6,369.7 82.8,373.3 82.4,376M92.7,375.6 93.1,371.5 95.4,369.3 98.5,367.5 105.2,368.8 111.5,369.3 114.7,367 117.3,366.1 114.7,371.1 108.8,372 102.1,371.1 97.2,371.1 94.5,374.7 94,376M127.2,375.6 128.1,369.7 129.4,365.2 129.9,363.4 132.6,366.6 129.9,368.8 133,371.1 130.8,372 129.4,375.6M118.2,58.2 116.4,59.9 111.1,64 107.9,68.9 108.8,73.8 113.8,79.2 120.5,83.7 130.3,86.8 136.6,89.1 138,92.7 133.9,96.7 125.4,99.4 113.8,101.2 100.3,102.1 97.6,103 92.2,102.5 85.5,105.5 77.4,103 70.7,101.2 64.4,103.4 59.5,107.5M136.6,89.1 147.8,88.2 156.3,89.1 163.1,91.3 165.3,93.6 163.5,98.1 161.3,101.6 159.5,102.5M88.7,88.2 101.7,86.8 112,85.5 120.5,83.7M245.6,69.8 255.4,68.9 260.8,66.7 265.7,64.9 276,65.3M216.4,58.2 217.3,61.7M140.2,163.5 150.1,159.5 159.9,156.3 168,151.4 170.2,146.9 177,143.3 183.7,138.8 187.3,135.3M47,268 50.5,268.4 55.5,268 60,269.8 64.4,271.5M68.5,236.1 72.5,238.8 77,240.2 80.6,236.6 84.2,233.4 87.8,229.9 91.8,228.5 96.3,229.9 99.4,230.8M148.3,172.9 151,170.2 150.5,173.4ZM81.5,154.5 83.7,152.7 83.3,154.5ZM87.3,224.5 89.1,223.1 88.7,224.9Z"/>
<path class="z" d="M437,87.7C438.2,87.8 451.1,89.7 453.5,90.1C455.9,90.6 467.5,92.8 470,93.4C472.4,94.1 484,98.2 486.4,99.2C488.8,100.2 500.6,106.2 502.9,107.4C505.2,108.6 516.9,114.5 517.7,115.7C518.6,116.9 514.9,122.8 514.4,123.9C514,125 511.6,129.5 511.1,130.5C510.7,131.5 508.7,136.1 508.7,137.1C508.7,138.1 510.5,142.6 511.1,143.6C511.8,144.6 516.7,149.1 517.7,150.2C518.8,151.3 524.8,157.1 526,158.4C527.2,159.7 533.2,166.9 534.2,168.3C535.2,169.8 538.6,176.7 539.2,178.2C539.8,179.6 542.1,186.5 542.5,188.1C542.8,189.7 544.2,198 544.1,199.6C544,201.2 541.5,208.2 540.8,209.5C540.1,210.8 534.9,216.8 534.2,217.7C533.5,218.7 531.6,221.4 530.9,222.6C530.2,223.8 525.3,232.3 524.3,234.1C523.4,235.9 518.4,245.6 517.7,247.3C517.1,249 515.7,255.7 515.3,257.2C514.8,258.6 511.7,266 511.1,267.1C510.6,268.2 509.1,271.6 507.9,272C506.6,272.4 496.5,272.7 494.7,272.8C492.9,273 484.9,273.2 483.1,273.7C481.3,274.1 472.1,277.6 470,278.6C467.8,279.6 455.9,285.7 453.5,286.9C451.1,288 438.2,293.6 437,294.1"/>
<path class="z" d="M675.9,58C676.5,58.3 682.3,61.5 684.2,62.1C686,62.8 698.2,66.4 700.6,67.1C703.1,67.7 714.7,70.8 717.1,71.2C719.5,71.6 731.2,72.5 733.6,72.5C736,72.5 748.1,71.4 750.1,71.2C752,70.9 759.2,69.3 760,69.2"/>
<path class="z" d="M596.8,160.9C597.1,159.8 600.2,155.8 601.8,155.1C603.3,154.4 615.8,151.2 618.2,151C620.7,150.8 632.3,151.6 634.7,151.8C637.1,152 648.8,153.5 651.2,153.5C653.6,153.5 665.3,151.6 667.7,151.5C670.1,151.4 682.4,150.9 684.2,151.5C685.9,152.1 691.6,158.8 691.6,160.1C691.6,161.3 685.9,167.1 684.2,168.3C682.4,169.5 670.1,175.3 667.7,176.5C665.3,177.8 653.4,183.8 651.2,184.8C649,185.8 639.6,189.9 638,190.6C636.5,191.2 631.5,193.9 629.8,193.8C628.1,193.8 616.9,190.8 615,189.7C613,188.7 604.6,181.3 603.4,179.8C602.2,178.4 599,171.3 598.5,170C598,168.6 596.6,162 596.8,160.9Z"/>
<path class="z" d="M760,189.4C758.6,189.6 744.4,191.6 741.8,192.2C739.3,192.8 727.8,196.9 725.4,198C722.9,199 711.3,205.2 708.9,206.2C706.5,207.2 694.8,210.9 692.4,211.1C690,211.4 678.3,209.9 675.9,209.5C673.5,209.1 661.9,205.8 659.4,205.4C657,205 644.5,204.2 643,204.2C641.4,204.3 638.9,205.5 638,206.2C637.2,207 632.6,213 631.4,214.4C630.2,215.9 623.1,224.3 621.5,225.9C620,227.5 611.7,234.3 610,235.8C608.3,237.2 600.3,244 598.5,245.7C596.7,247.4 587.1,257 585.3,258.8C583.5,260.7 575.5,268.9 573.8,270.4C572.1,271.9 563.8,278.5 562.2,279.4C560.7,280.4 553.8,282.9 552.3,283.6C550.9,284.2 543.5,287.8 542.5,288.5C541.4,289.2 538.6,293 538.3,293.4C538.1,293.9 538.9,294.2 539.2,295C539.5,295.8 542.2,303.3 542.5,304.9C542.8,306.5 543.6,314.8 543.3,316.4C542.9,318 538.5,325 537.5,326.3C536.5,327.6 530.8,332.8 529.3,333.7C527.7,334.7 517.8,338.6 516.1,339.5C514.4,340.4 507.2,345.2 506.2,346.1C505.2,346.9 503,350.1 502.9,351C502.8,352 504.2,358.1 504.6,359.3C504.9,360.5 507.4,366.4 507.9,367.5C508.3,368.6 510.6,374.4 510.8,374.9"/>
<path class="p" d="M608.4,234.9C606.7,236.5 588,253.9 585.3,256.4C582.6,258.8 573.9,267.2 572.1,268.7C570.3,270.3 562.1,276.8 560.6,277.8C559,278.8 552.1,281.2 550.7,281.9C549.2,282.6 541.8,286 540.8,286.9C539.8,287.7 536.9,292.8 536.7,293.4C536.4,294 537.3,294.2 537.5,295C537.8,295.8 539.8,303.3 540,304.9C540.2,306.5 540.4,315 540,316.4C539.6,317.9 535.2,323.6 534.2,324.7C533.2,325.7 527.5,330.3 526,331.2C524.4,332.2 514.6,336.1 512.8,337C511,338 502.7,343.3 501.3,344.4C499.9,345.5 494.4,350.6 493.8,351.8C493.3,353.1 493.9,359.2 493.8,360.9C493.8,362.6 493.1,373.9 493,374.9"/>
<path class="z" d="M457.6,361.7 461.7,358.4 466.3,361.7 461.7,365.9Z"/>
<path class="p" d="M760,89.3C758,89.3 737.3,89.4 733.6,89.3C729.8,89.2 712.5,88.3 708.9,88.2C705.2,88 687.2,87.6 684.2,87.7C681.1,87.7 670.1,88.1 667.7,88.5C665.3,88.8 653.6,91.9 651.2,92.6C648.8,93.3 637.1,97.7 634.7,98.4C632.3,99 621.3,101.3 618.2,101.7C615.2,102 596.6,102.7 593.5,102.8C590.5,102.9 579.1,103.1 577.1,103.3C575,103.5 567,105.1 565.5,105.8C564.1,106.4 558.3,111.2 557.3,112.4C556.3,113.6 552.8,120.9 552.3,122.3C551.9,123.6 550.9,129.4 550.7,130.5C550.5,131.6 549.3,136.2 549.9,137.1C550.5,138 557.5,142.4 558.9,142.8C560.3,143.1 566.9,142.2 568.8,141.9C570.8,141.7 582.9,139.7 585.3,139.5C587.7,139.2 599.4,138.8 601.8,138.6C604.2,138.4 615.8,137 618.2,136.8C620.7,136.5 632.3,135.6 634.7,135.4C637.1,135.2 648.8,134.3 651.2,134.1C653.6,133.9 665.3,133 667.7,133C670.1,132.9 681.7,133.5 684.2,133.8C686.6,134.1 698.2,136.5 700.6,137.1C703.1,137.7 714.7,141.2 717.1,141.9C719.5,142.7 731.2,146.2 733.6,146.9C736,147.6 748.1,151.2 750.1,151.8C752,152.4 759.2,154.6 760,154.8"/>
<path class="p" d="M596.8,115.3 606.7,114 618.2,115.3 606.7,117.6Z"/>
<path class="p" d="M760,107.1 741.8,109.9 728.6,113.2 727,115.7 730.3,126.4 741.8,126.4 760,125.6"/>
<path class="p" d="M552.3,212.8C553.7,211.4 561,204.3 562.2,202.9C563.4,201.5 567.4,194.7 568.8,193.8C570.3,193 580.2,191.3 582,191.4C583.8,191.4 592.1,193.9 593.5,194.7C595,195.4 600.9,200.3 601.8,201.3C602.6,202.2 604.9,206.8 605.1,207.9C605.2,208.9 604,214.8 603.4,216.1C602.8,217.4 597.9,224.4 596.8,225.9C595.7,227.3 589.9,234.6 588.6,235.8C587.3,237 580.4,241.5 578.7,242.4C577,243.3 567.5,247.5 565.5,248.1C563.6,248.7 553.9,250.6 552.3,250.6C550.8,250.6 545.1,248.9 544.1,248.1C543.1,247.4 539.5,241.9 539.2,240.7C538.8,239.6 538.8,233.8 539.2,232.5C539.5,231.1 543.1,224 544.1,222.6C545.1,221.1 551,214.2 552.3,212.8Z"/>
<path class="p" d="M449.4,362.6 458.4,351.8 471.6,346.9 481.5,351 480.7,357.6 474.9,367.5 465,373.3 456.8,372.4Z"/>
<path class="n" d="M437,121.8C437.7,121.5 445.6,118.5 446.9,118.1C448.2,117.8 454,117 455.1,117C456.2,117 460.6,117.6 461.7,118.1C462.8,118.6 468.9,123 470,123.9C471,124.8 475.7,129.5 476.5,130.5C477.4,131.5 480.8,136.2 481.5,137.1C482.2,137.9 485.6,141 486.4,142.1C487.3,143.2 491.8,150.3 493,151.8C494.2,153.4 501.5,162 502.9,163.4C504.4,164.7 511.6,169 512.8,170C514,170.9 518.5,174.5 519.4,175.7C520.2,176.9 523.7,184.9 524.3,186.4C525,187.9 528,194.9 528.4,196.3C528.9,197.8 530.7,204.9 530.9,206.2C531.2,207.5 532.3,212.8 531.7,214.4C531.1,216.1 523.8,227.5 522.7,229.2C521.5,230.9 517.1,236.3 516.1,237.4C515.1,238.5 510.7,243 509.5,244C508.3,245 501.3,249.8 499.6,250.6C497.9,251.4 488.6,254.9 486.4,255.5C484.3,256.2 472.4,258.6 470,259.2C467.5,259.7 455.9,262.5 453.5,263C451.1,263.4 438.2,265.6 437,265.8"/>
<path class="n" d="M437,154.3C437.7,154.1 445.3,151.4 446.9,151C448.5,150.6 456.7,149.4 458.4,149.4C460.1,149.4 468.5,150.6 470,151C471.4,151.4 477.1,154.2 478.2,155.1C479.3,156 483.8,162.1 484.8,163.4C485.8,164.6 490.3,171.2 491.4,172.4C492.5,173.7 498.4,179.6 499.6,180.7C500.8,181.7 506.8,185.6 507.9,186.4C508.9,187.2 513.4,190.8 514.4,191.4C515.5,192 521.7,193.8 522.7,194.7C523.6,195.5 527.1,201.7 527.6,202.9C528.1,204.1 529.3,209.9 529.3,211.1C529.2,212.4 527.5,218.5 526.8,219.4C526.1,220.2 520.5,221.6 519.4,222.6C518.2,223.6 512.4,231.1 511.1,232.5C509.9,233.8 504.2,239.7 502.9,240.7C501.6,241.7 494.5,245.8 493,246.5C491.6,247.1 485.1,249.7 483.1,249.8C481.2,249.9 469,248.6 466.7,248.1C464.4,247.7 453.5,244.8 451.8,244C450.1,243.2 444.4,238.7 443.6,237.4C442.7,236.1 440.4,228.2 440.3,225.9C440.2,223.6 441.7,208.5 441.9,206.2C442.2,203.9 443.6,196.2 443.6,194.7C443.6,193.1 442.4,186 441.9,184.8C441.5,183.6 437.4,178.4 437,177.9"/>
<path class="n" d="M455.6,170.5C455.9,169.6 461.3,166.8 462.4,166.6C463.5,166.4 469.3,167.1 470.2,167.6C471.1,168.1 474,172.4 474.1,173.4C474.3,174.4 472.7,180.3 472.2,181.2C471.6,182.2 467.1,185.7 466.3,186.1C465.5,186.6 462.1,187.6 461.4,187.1C460.8,186.6 457.9,180.5 457.5,179.3C457.1,178.1 455.2,171.4 455.6,170.5Z"/>
<path class="n" d="M452.6,214.5C452.8,212.7 457.2,204 458.5,202.7C459.8,201.4 468.3,197.5 470.2,196.9C472.1,196.2 481.9,194 483.9,193.9C485.9,193.9 495.8,195.3 497.5,195.9C499.3,196.5 506.2,200.7 507.3,201.8C508.5,202.8 512.6,209.2 513.2,210.5C513.7,211.9 515.3,218.9 515.1,220.3C515,221.7 512.1,228.8 511.2,230.1C510.4,231.4 504.8,237 503.4,237.9C502,238.8 493.5,241.6 491.7,241.8C489.8,242 480,241.2 478,240.8C476,240.4 466,237 464.3,235.9C462.7,234.9 456.4,227.7 455.6,226.2C454.7,224.6 452.4,216.2 452.6,214.5Z"/>
<path class="n" d="M465.3,218.4C465.5,217.1 469.1,211.5 470.2,210.5C471.3,209.5 478.4,205.3 480,204.7C481.5,204.1 490.3,202.6 491.7,202.7C493.1,202.9 498.6,205.8 499.5,206.6C500.4,207.5 504.1,213.2 504.4,214.5C504.7,215.7 503.9,222.9 503.4,224.2C502.9,225.5 498.7,231.2 497.5,232C496.4,232.9 489.4,235.8 487.8,235.9C486.2,236.1 477.5,234.6 476.1,234C474.6,233.4 469,229.3 468.2,228.1C467.5,227 465.2,219.6 465.3,218.4Z"/>
<path class="n" d="M478,217.4C478.2,216.6 481.1,212.9 481.9,212.5C482.8,212.1 488.7,211.4 489.7,211.5C490.7,211.7 495.2,213.7 495.6,214.5C496,215.2 495.9,221.3 495.6,222.3C495.3,223.2 492.5,226.8 491.7,227.1C490.8,227.5 484.8,227.4 483.9,227.1C482.9,226.9 479.4,224 479,223.2C478.6,222.5 477.8,218.2 478,217.4Z"/>
</g>
<rect x="438.8" y="59.5" width="318.3" height="314.1" fill="none" stroke="#9a9a9a" stroke-width="1"/>
<text class="L" transform="translate(387.2 24.4) scale(0.935 1)">B</text>
<text class="t" x="469.9" y="55.4">-1 days</text>
<text class="t" text-anchor="end" x="435.4" y="378">0°</text>
<text class="t" text-anchor="end" x="435.4" y="333.2">10°N</text>
<text class="t" text-anchor="end" x="435.4" y="288.5">20°N</text>
<text class="t" text-anchor="end" x="435.4" y="243.8">30°N</text>
<text class="t" text-anchor="end" x="435.4" y="199">40°N</text>
<text class="t" text-anchor="end" x="435.4" y="154.3">50°N</text>
<text class="t" text-anchor="end" x="435.4" y="109.5">60°N</text>
<text class="t" text-anchor="end" x="435.4" y="64.8">70°N</text>
<text class="t" text-anchor="middle" x="483.9" y="390.2">120°E</text>
<text class="t" text-anchor="middle" x="573.5" y="390.2">140°E</text>
<text class="t" text-anchor="middle" x="663.2" y="390.2">160°E</text>
<text class="t" text-anchor="middle" x="752.9" y="390.2">180°</text>
</g>
<g id="panel-C">
<rect x="828.3" y="59.5" width="318.3" height="314.1" fill="#f3f4ef"/>
<g clip-path="url(#cp2)">
<path d="M827,54.7 1147,54.7 1147,143.7 827,143.7Z" fill="#f8f4ea"/>
<path d="M827,87.7C832.5,76.1 846.2,77.8 860,74.5C873.7,71.2 895.7,67.3 909.4,67.9C923.1,68.4 938.2,72.6 942.3,77.8C946.5,83 939.6,93.4 934.1,99.2C928.6,105 919,107.7 909.4,112.4C899.8,117 886,122 876.4,127.2C866.8,132.4 860,140.9 851.7,143.7C843.5,146.4 831.1,153 827,143.7C822.9,134.3 821.5,99.2 827,87.7Z" fill="#edf4f5" filter="url(#b3)"/>
<path d="M967.1,67.9C975.3,63.8 1017.9,62.9 1041.2,62.9C1064.5,62.9 1089.5,66 1107.1,67.9C1124.7,69.8 1140.3,70.6 1147,74.5C1153.6,78.3 1156.4,89.3 1147,91C1137.6,92.6 1108.3,84.4 1090.6,84.4C1073,84.4 1057.7,90.4 1041.2,91C1024.7,91.5 1004.1,91.5 991.8,87.7C979.4,83.8 958.8,72 967.1,67.9Z" fill="#edf4f5" filter="url(#b3)"/>
<path d="M958.8,123.9C969.8,120.1 1011,117.3 1024.7,120.6C1038.5,123.9 1052.2,139.8 1041.2,143.7C1030.2,147.5 972.5,147 958.8,143.7C945.1,140.4 947.8,127.8 958.8,123.9Z" fill="#edf4f5" filter="url(#b3)"/>
<path d="M942.3,156.8C946.5,152.1 969.8,151.8 991.8,150.2C1013.7,148.5 1054.9,145 1074.2,146.9C1093.4,148.8 1103,155.1 1107.1,161.7C1111.2,168.3 1109.9,181.8 1098.9,186.4C1087.9,191.1 1059.1,188.9 1041.2,189.7C1023.4,190.6 1004.1,193.3 991.8,191.4C979.4,189.5 975.3,184 967.1,178.2C958.8,172.4 938.2,161.4 942.3,156.8Z" fill="#edf4f5" filter="url(#b3)"/>
<path d="M975.3,258.8C994.5,253.9 1019.2,240.7 1041.2,235.8C1063.2,230.8 1089.5,225.3 1107.1,229.2C1124.7,233 1140.3,246.8 1147,258.8C1153.6,270.9 1175.6,294.5 1147,301.7C1118.4,308.8 1009.4,303.9 975.3,301.7C941.2,299.5 956.1,291.8 942.3,288.5C928.6,285.2 903.9,285.2 892.9,281.9C881.9,278.6 870.9,271.5 876.4,268.7C881.9,266 909.4,267.1 925.9,265.4C942.3,263.8 956.1,263.8 975.3,258.8Z" fill="#edf4f5" filter="url(#b3)"/>
<path d="M827,344.4C835.2,336.7 857.2,333.4 876.4,328C895.7,322.5 920.4,315.3 942.3,311.5C964.3,307.6 974.1,307.6 1008.2,304.9C1042.4,302.1 1123.9,283.5 1147,295C1170.1,306.5 1200.3,360.9 1147,374.1C1093.7,387.3 880.3,379 827,374.1C773.7,369.1 818.8,352.1 827,344.4Z" fill="#edf4f5" filter="url(#b3)"/>
<path d="M975.3,311.5C979.4,304.1 1005.5,304.1 1016.5,308.2C1027.5,312.3 1031.6,330.2 1041.2,336.2C1050.8,342.2 1065.9,340.3 1074.2,344.4C1082.4,348.6 1090.6,356 1090.6,360.9C1090.6,365.9 1087.9,371.9 1074.2,374.1C1060.4,376.3 1022,377.7 1008.2,374.1C994.5,370.5 997.3,363.1 991.8,352.7C986.3,342.2 971.2,318.9 975.3,311.5Z" fill="#f8f4ea" filter="url(#b3)"/>
<path d="M863.2,81.1C865.2,79.6 873,78.7 876.4,79.4C879.9,80.1 883.8,83.4 883.8,85.2C883.8,87 879.6,89.6 876.4,90.1C873.3,90.7 867.1,90 864.9,88.5C862.7,87 861.3,82.6 863.2,81.1Z" fill="#d1ebeb" filter="url(#b1)"/>
<path d="M892.9,115.7C894.3,113.7 899.9,111.8 902.8,112.4C905.7,112.9 909.9,116.8 910.2,119C910.5,121.2 907.1,124.7 904.4,125.6C901.8,126.4 896.5,125.6 894.6,123.9C892.6,122.3 891.5,117.6 892.9,115.7Z" fill="#d1ebeb" filter="url(#b1)"/>
<path d="M858.3,119.8C860,118.8 866.8,117.7 869.8,118.1C872.9,118.6 876.7,121 876.4,122.3C876.2,123.6 870.9,125.6 868.2,125.9C865.4,126.2 861.6,124.9 860,123.9C858.3,122.9 856.7,120.8 858.3,119.8Z" fill="#d1ebeb" filter="url(#b1)"/>
<path d="M1000,76.9C1001.4,76 1008,75 1011.5,75.3C1015.1,75.6 1021.2,77.4 1021.4,78.6C1021.7,79.8 1016.2,82.3 1013.2,82.7C1010.2,83.1 1005.5,82 1003.3,81.1C1001.1,80.1 998.6,77.9 1000,76.9Z" fill="#d1ebeb" filter="url(#b1)"/>
<path d="M927.5,130.5C929.2,128 935.2,128 939,128.9C942.9,129.7 948.9,133 950.6,135.4C952.2,137.9 952.5,142.3 948.9,143.7C945.4,145.1 932.7,145.9 929.2,143.7C925.6,141.5 925.9,133 927.5,130.5Z" fill="#f7ecd1" filter="url(#b1)"/>
<path d="M972,101.7C976.4,101.1 995.6,101.5 1000,102.2C1004.4,102.8 1002.8,105.2 998.4,105.8C994,106.3 978,106.1 973.6,105.5C969.3,104.8 967.6,102.2 972,101.7Z" fill="#f7ecd1" filter="url(#b1)"/>
<path d="M827,137.1C829.2,136.1 838,136.8 840.2,137.9C842.4,139 842.4,142.7 840.2,143.7C838,144.6 829.2,144.8 827,143.7C824.8,142.6 824.8,138.1 827,137.1Z" fill="#d1ebeb" filter="url(#b1)"/>
<path d="M925.9,135.4C928.3,133.2 944.8,133.7 948.9,135.4C953.1,137 953.1,143 950.6,145.2C948.1,147.4 938.2,150.2 934.1,148.5C930,146.9 923.4,137.5 925.9,135.4Z" fill="#f7ecd1" filter="url(#b1)"/>
<path d="M1006.6,153.5C1010.7,150.5 1025.8,151 1033,151.8C1040.1,152.7 1046.4,155.4 1049.4,158.4C1052.5,161.4 1052.5,166.7 1051.1,170C1049.7,173.2 1045.6,177.4 1041.2,178.2C1036.8,179 1030.2,176.3 1024.7,174.9C1019.2,173.5 1011.3,173.5 1008.2,170C1005.2,166.4 1002.5,156.5 1006.6,153.5Z" fill="#d1ebeb" filter="url(#b2)"/>
<path d="M1074.2,170C1075.3,167.3 1085.1,167.2 1090.6,167.5C1096.1,167.8 1104.6,169.3 1107.1,171.6C1109.6,173.9 1109.3,179.6 1105.5,181.5C1101.6,183.4 1089.3,185.1 1084,183.1C1078.8,181.2 1073.1,172.6 1074.2,170Z" fill="#d1ebeb" filter="url(#b2)"/>
<path d="M1074.2,194.7C1078.3,192.7 1093.4,191.9 1098.9,193C1104.4,194.1 1108.5,199.1 1107.1,201.3C1105.7,203.5 1096.1,205.7 1090.6,206.2C1085.1,206.8 1076.9,206.5 1074.2,204.6C1071.4,202.6 1070,196.6 1074.2,194.7Z" fill="#f7ecd1" filter="url(#b2)"/>
<path d="M1131.8,163.4C1134.6,160.1 1144.5,153.5 1147,160.1C1149.5,166.7 1149,196.3 1147,202.9C1145,209.5 1137.9,203.5 1135.1,199.6C1132.3,195.8 1130.7,185.9 1130.2,179.8C1129.6,173.8 1129,166.7 1131.8,163.4Z" fill="#f7ecd1" filter="url(#b2)"/>
<path d="M892.9,268.7C895.4,267.2 903.3,265.7 909.4,266.3C915.4,266.8 926.4,269.4 929.2,272C931.9,274.6 930.5,280.4 925.9,281.9C921.2,283.4 906.4,282.2 901.1,281.1C895.9,280 895.9,277.4 894.6,275.3C893.2,273.3 890.4,270.2 892.9,268.7Z" fill="#d1ebeb" filter="url(#b2)"/>
<path d="M853.4,266.3C856.4,264.6 870.9,264.2 874.8,265.4C878.6,266.7 879.5,272 876.4,273.7C873.4,275.3 860.5,276.6 856.7,275.3C852.8,274.1 850.3,267.9 853.4,266.3Z" fill="#d1ebeb" filter="url(#b1)"/>
<path d="M991.8,257.2C994.5,253.3 1001.4,251.2 1008.2,249C1015.1,246.8 1024.7,245.7 1033,244C1041.2,242.4 1048.1,239.9 1057.7,239.1C1067.3,238.2 1082.4,237.4 1090.6,239.1C1098.9,240.7 1104.6,245.1 1107.1,249C1109.6,252.8 1108.2,259.4 1105.5,262.1C1102.7,264.9 1095.9,264.6 1090.6,265.4C1085.4,266.3 1079.7,265.2 1074.2,267.1C1068.7,269 1063.2,275.9 1057.7,277C1052.2,278.1 1046.7,274.8 1041.2,273.7C1035.7,272.6 1031.6,269.6 1024.7,270.4C1017.9,271.2 1005.5,278.3 1000,278.6C994.5,278.9 993.1,275.6 991.8,272C990.4,268.5 989,261 991.8,257.2Z" fill="#d1ebeb" filter="url(#b2)"/>
<path d="M1113.7,263.8C1116.2,261.7 1127.2,261.2 1130.2,263C1133.2,264.7 1134.3,272.4 1131.8,274.5C1129.4,276.6 1118.4,277.1 1115.4,275.3C1112.3,273.5 1111.2,265.8 1113.7,263.8Z" fill="#d1ebeb" filter="url(#b1)"/>
<path d="M886.3,341.1C891.3,338.4 909.9,338.7 919.3,337.8C928.6,337 934.4,335.1 942.3,336.2C950.3,337.3 961.6,341.7 967.1,344.4C972.5,347.2 975.3,349.4 975.3,352.7C975.3,356 972.5,361.5 967.1,364.2C961.6,367 949.2,370.2 942.3,369.1C935.5,368 931.9,359 925.9,357.6C919.8,356.2 912.1,361.5 906.1,360.9C900,360.4 892.9,357.6 889.6,354.3C886.3,351 881.4,343.9 886.3,341.1Z" fill="#d1ebeb" filter="url(#b2)"/>
<path d="M945.6,356C945.6,354.3 949.8,352.1 952.2,352.7C954.7,353.2 960.5,357.6 960.5,359.3C960.5,361 954.7,363.4 952.2,362.9C949.8,362.3 945.6,357.7 945.6,356Z" fill="#b3dfda" filter="url(#b1)"/>
<path d="M897.9,313.1C900.6,312 909.9,313.1 912.7,314.8C915.4,316.4 916.3,320.8 914.3,323C912.4,325.2 904.2,328.2 901.1,328C898.1,327.7 896.8,323.8 896.2,321.4C895.7,318.9 895.1,314.2 897.9,313.1Z" fill="#d1ebeb" filter="url(#b1)"/>
<path d="M1031.3,308.2C1035.4,306 1052.5,306.3 1057.7,306.5C1062.9,306.8 1065.4,308.5 1062.6,309.8C1059.9,311.2 1046.1,313.1 1041.2,314.8C1036.3,316.4 1034.6,320.8 1033,319.7C1031.3,318.6 1027.2,310.4 1031.3,308.2Z" fill="#d1ebeb" filter="url(#b1)"/>
<path d="M1107.1,324.7C1111.2,321.9 1125.2,320.3 1131.8,318.1C1138.5,315.9 1144.5,308.2 1147,311.5C1149.5,314.8 1150.9,333.2 1147,337.8C1143.1,342.5 1130.2,340 1123.6,339.5C1116.9,338.9 1109.9,337 1107.1,334.5C1104.4,332.1 1103,327.4 1107.1,324.7Z" fill="#d1ebeb" filter="url(#b2)"/>
<path d="M1014.8,354.3C1016.2,352.3 1022.5,348.6 1024.7,349.4C1027,350.2 1029.7,357.3 1028.4,359.3C1027,361.2 1018.7,362.1 1016.5,361.2C1014.2,360.4 1013.5,356.3 1014.8,354.3Z" fill="#f2e2b5" filter="url(#b1)"/>
<path d="M1092.3,365.9C1094.5,363.7 1101.1,362 1107.1,360.9C1113.2,359.8 1124.4,357.1 1128.5,359.3C1132.7,361.5 1137.6,371.6 1131.8,374.1C1126.1,376.6 1100.5,375.5 1093.9,374.1C1087.3,372.7 1090.1,368 1092.3,365.9Z" fill="#f7ecd1" filter="url(#b1)"/>
<path d="M945.6,316.4C946.2,315.2 949.5,314.2 950.6,314.8C951.7,315.3 952.8,318.5 952.2,319.7C951.7,321 948.4,322.7 947.3,322.2C946.2,321.6 945.1,317.7 945.6,316.4Z" fill="#f2e2b5" filter="url(#b1)"/>
<path d="M827,230.8C829.7,229.4 836.6,242 843.5,245.7C850.3,249.3 860,252 868.2,252.6C876.4,253.2 884.7,251.2 892.9,249.3C901.1,247.4 909.9,244.3 917.6,241C925.3,237.7 932.2,233.1 939,229.5C945.9,225.9 952.8,222.7 958.8,219.6C964.9,216.5 969.8,215 975.3,211.1C980.8,207.2 983.5,199.5 991.8,196.2C1000,192.9 1013.7,191.6 1024.7,191.3C1035.7,191 1051.6,192.1 1057.7,194.6C1063.7,197.1 1063.7,202.3 1061,206.1C1058.2,210 1047.2,213.8 1041.2,217.6C1035.2,221.5 1031.6,224.8 1024.7,229.2C1017.9,233.6 1008.2,239.9 1000,244C991.8,248.1 983.5,251.7 975.3,253.9C967.1,256.1 958.8,256.6 950.6,257.2C942.3,257.7 932.7,257.7 925.9,257.2C919,256.7 916.3,254.2 909.4,254.2C902.5,254.2 892.9,256.6 884.7,257.2C876.4,257.7 866.8,257.8 860,257.5C853.1,257.2 849,256.1 843.5,255.5C838,255 829.7,258.3 827,254.2C824.3,250.1 824.3,232.3 827,230.8Z" fill="#f7ecd1" filter="url(#b2)"/>
<path d="M932.5,237.4C934.1,233.9 945.1,229.2 952.2,225.9C959.4,222.6 968.7,220.9 975.3,217.6C981.9,214.4 984.9,209.4 991.8,206.1C998.6,202.8 1008.2,199.2 1016.5,197.9C1024.7,196.5 1034.9,196.8 1041.2,197.9C1047.5,199 1053.6,201.7 1054.4,204.5C1055.2,207.2 1052.5,211.1 1046.1,214.4C1039.8,217.6 1025.6,220.4 1016.5,224.2C1007.4,228.1 998.6,233.6 991.8,237.4C984.9,241.3 981.3,245.3 975.3,247.3C969.3,249.3 961,249.3 955.5,249.3C950,249.3 946.2,249.3 942.3,247.3C938.5,245.3 930.8,241 932.5,237.4Z" fill="#f2e2b5" filter="url(#b2)"/>
<path d="M939,237.4C939.9,235.4 945.9,233 950.6,232.5C955.2,231.9 961.8,233.3 967.1,234.1C972.3,234.9 980.5,235.5 981.9,237.4C983.3,239.3 979.1,243.9 975.3,245.7C971.4,247.4 963.8,248.3 958.8,248.1C953.9,248 948.9,246.6 945.6,244.8C942.3,243.1 938.2,239.5 939,237.4Z" fill="#d9b16e" filter="url(#b2)"/>
<path d="M940.7,239.1C940.7,237 947.6,235.2 952.2,234.9C956.9,234.7 964,236.6 968.7,237.4C973.4,238.2 979.7,238.4 980.2,239.9C980.8,241.4 976.7,245.2 972,246.5C967.3,247.7 957.4,248.5 952.2,247.3C947,246.1 940.7,241.1 940.7,239.1Z" fill="#c98b70" filter="url(#b1)"/>
<path d="M983.5,224.2C984.6,222.6 994.2,218.7 998.4,216C1002.5,213.3 1002.5,209.7 1008.2,207.8C1014,205.8 1026.6,204.7 1033,204.5C1039.3,204.2 1044.2,204.7 1046.1,206.1C1048.1,207.5 1048.1,210.5 1044.5,212.7C1040.9,214.9 1030.8,217.4 1024.7,219.3C1018.7,221.2 1013.7,223.1 1008.2,224.2C1002.8,225.3 995.9,225.9 991.8,225.9C987.7,225.9 982.4,225.9 983.5,224.2Z" fill="#d9b16e" filter="url(#b2)"/>
<path d="M988.5,222.6C989.8,221.2 995.9,218.1 1000,216.8C1004.1,215.6 1009.6,215 1013.2,215.2C1016.8,215.3 1022.3,216.1 1021.4,217.6C1020.6,219.2 1013.2,223 1008.2,224.2C1003.3,225.5 995.1,225.3 991.8,225.1C988.5,224.8 987.1,224 988.5,222.6Z" fill="#c98b70" filter="url(#b1)"/>
<path d="M1005,211.1C1006.6,209.5 1015.3,208.7 1018.1,209.5C1020.9,210.3 1023.4,214.4 1021.8,216.1C1020.1,217.7 1011.1,220.2 1008.2,219.4C1005.4,218.6 1003.3,212.8 1005,211.1Z" fill="#c98b70" filter="url(#b1)"/>
<path d="M1029.7,207.9C1031.6,206.6 1041.8,206.4 1044.5,207C1047.2,207.6 1048.1,210.2 1046.1,211.5C1044.2,212.7 1035.7,215 1033,214.4C1030.2,213.8 1027.7,209.1 1029.7,207.9Z" fill="#c98b70" filter="url(#b1)"/>
<path d="M827,230.8C828.6,228.9 832.8,236.3 836.9,239.1C841,241.8 846.2,245.3 851.7,247.3C857.2,249.3 868.5,249.8 869.8,250.9C871.2,252.1 864.9,253.7 860,254.2C855,254.8 845.7,254.8 840.2,254.2C834.7,253.7 829.2,254.8 827,250.9C824.8,247 825.4,232.8 827,230.8Z" fill="#f2e2b5" filter="url(#b2)"/>
<path d="M883,240.7C884.7,239.9 891.8,239.1 896.2,239.1C900.6,239.1 908.6,239.9 909.4,240.7C910.2,241.5 905,243.5 901.1,244C897.3,244.6 889.3,244.6 886.3,244C883.3,243.5 881.4,241.5 883,240.7Z" fill="#dfa596" fill-opacity="0.7" filter="url(#b1)"/>
<path d="M827,281.9C832.5,270.9 848.4,278.6 860,278.6C871.5,278.6 885.2,279.7 896.2,281.9C907.2,284.1 918.2,288.5 925.9,291.8C933.6,295.1 942.3,298.9 942.3,301.7C942.3,304.4 932.7,306.6 925.9,308.3C919,309.9 909.4,309.4 901.1,311.6C892.9,313.8 883.8,317.6 876.4,321.5C869,325.3 864.9,330.8 856.7,334.6C848.4,338.5 831.9,353.3 827,344.5C822.1,335.7 821.5,292.9 827,281.9Z" fill="#f7ecd1" filter="url(#b2)"/>
<path d="M827,288.5C831.1,280 842.7,286.9 851.7,286.9C860.8,286.9 874,287.1 881.4,288.5C888.8,289.9 894.3,292.3 896.2,295.1C898.1,297.8 897.6,301.7 892.9,305C888.2,308.3 875.1,310.7 868.2,314.9C861.3,319 858.6,325.8 851.7,329.7C844.9,333.5 831.1,344.8 827,337.9C822.9,331.1 822.9,297 827,288.5Z" fill="#f2e2b5" filter="url(#b2)"/>
<path d="M827,304.9C829.2,301 837.4,301.6 840.2,303.2C843,304.9 844.4,311.1 843.8,314.8C843.3,318.4 839.7,323 836.9,325C834.1,327 828.6,330 827,326.6C825.4,323.3 824.8,308.8 827,304.9Z" fill="#ead08f" filter="url(#b2)"/>
<path d="M820.4,140.3C827,130.7 849.2,141.4 860,141.9C870.7,142.5 877,141.1 884.7,143.6C892.4,146.1 898.7,153.2 906.1,156.8C913.5,160.3 921.5,163.1 929.2,165C936.8,166.9 945.6,166.7 952.2,168.3C958.8,170 961.8,172.4 968.7,174.9C975.6,177.4 990.7,180.5 993.4,183.1C996.2,185.7 988.8,188.6 985.2,190.6C981.6,192.5 975,191.2 972,194.7C969,198.1 969.3,206.5 967.1,211.1C964.9,215.8 962.9,219.7 958.8,222.7C954.7,225.7 949.2,226.8 942.3,229.3C935.5,231.7 925.9,235.6 917.6,237.5C909.4,239.4 901.1,241.1 892.9,240.8C884.7,240.5 875.1,238.9 868.2,235.9C861.3,232.8 856.9,228.2 851.7,222.7C846.5,217.2 842.1,206.8 836.9,202.9C831.7,199.1 823.2,210 820.4,199.6C817.7,189.2 813.8,149.9 820.4,140.3Z" fill="#d1ebeb" filter="url(#b2)"/>
<path d="M851.7,186.4C852.3,180.7 854.5,176 856.7,171.6C858.9,167.2 861.6,163.1 864.9,160.1C868.2,157 872.3,154.9 876.4,153.5C880.6,152.1 885.5,151 889.6,151.8C893.7,152.7 897.3,156.2 901.1,158.4C905,160.6 908,163.5 912.7,165C917.3,166.5 923.7,166.8 929.2,167.5C934.7,168.2 940.7,168.2 945.6,169.1C950.6,170.1 954.7,171.3 958.8,173.2C962.9,175.2 968.2,177.6 970.4,180.7C972.5,183.7 972.5,187.7 972,191.4C971.4,195.1 969.3,199.1 967.1,202.9C964.9,206.8 962.1,210.9 958.8,214.4C955.5,218 951.7,221.6 947.3,224.3C942.9,227.1 938.2,229 932.5,230.9C926.7,232.8 919.3,234.7 912.7,235.9C906.1,237 899.2,238.1 892.9,237.8C886.6,237.6 880,236.7 874.8,234.2C869.6,231.7 865.2,227.3 861.6,222.7C858,218 855,212.2 853.4,206.2C851.7,200.2 851.2,192.2 851.7,186.4Z" fill="#b3dfda" filter="url(#b2)"/>
<path d="M858.3,189.7C858.7,184.8 859.7,180.4 861.6,176.5C863.5,172.7 866.5,169 869.8,166.7C873.1,164.3 877,163 881.4,162.5C885.8,162.1 891.5,163.2 896.2,164.2C900.9,165.1 904.4,167.3 909.4,168.3C914.3,169.3 920.4,169.5 925.9,170C931.4,170.4 937.1,170 942.3,170.8C947.6,171.6 953.1,172.8 957.2,174.9C961.3,177 965.1,180.1 967.1,183.1C969,186.2 969.5,189.2 968.7,193C967.9,196.9 964.9,202.1 962.1,206.2C959.4,210.3 955.8,214.4 952.2,217.7C948.7,221 945.1,223.6 940.7,226C936.3,228.3 931.1,230.3 925.9,231.7C920.6,233.2 914.9,233.9 909.4,234.5C903.9,235.2 898.4,236.2 892.9,235.9C887.4,235.5 881.1,234.8 876.4,232.6C871.8,230.4 867.8,227.1 864.9,222.7C862,218.3 860.2,211.7 859.1,206.2C858,200.7 857.9,194.7 858.3,189.7Z" fill="#95d2c6" filter="url(#b1)"/>
<path d="M861.2,214.5C860,209.2 862.5,202.2 864.1,196.9C865.7,191.5 867.7,186.2 870.9,182.2C874.2,178.3 879.2,175 883.6,173C888,171.1 892.1,170 897.3,170.5C902.5,171.1 909.7,175 914.9,176.4C920.1,177.8 923.7,178.9 928.6,178.9C933.4,178.9 939.5,175.8 944.2,176.4C948.9,176.9 954.2,179.1 956.9,182.2C959.6,185.3 960.7,190.7 960.2,194.9C959.7,199.2 956.9,203.7 954,207.6C951,211.5 946.5,215.1 942.2,218.4C938,221.6 933.1,224.5 928.6,227.1C924,229.8 919.4,232.7 914.9,234.4C910.3,236 906.3,236.8 901.2,236.9C896.2,237 889.7,236.4 884.6,235C879.6,233.5 874.9,231.5 870.9,228.1C867,224.7 862.3,219.7 861.2,214.5Z" fill="#44a79c" filter="url(#b1)"/>
<path d="M967.6,181.2C971.2,179.9 983.5,180.4 987.2,181.2C990.8,182.1 991.5,184.6 989.5,186.1C987.5,187.6 979.4,189.7 975.4,190.2C971.5,190.7 967,190.6 965.7,189.1C964.4,187.6 964,182.6 967.6,181.2Z" fill="#b4aed0" fill-opacity="0.9" filter="url(#b1)"/>
<path d="M871.5,172.4C874.8,170.2 880.6,170.1 884.7,170C888.8,169.8 892.1,170.5 896.2,171.6C900.3,172.7 904.4,175.4 909.4,176.5C914.3,177.6 920.4,178.9 925.9,178.2C931.4,177.5 936.8,172.7 942.3,172.4C947.8,172.2 954.7,174.8 958.8,176.5C962.9,178.3 965.4,180.4 967.1,183.1C968.7,185.9 969.8,189.5 968.7,193C967.6,196.6 963.5,201 960.5,204.6C957.4,208.1 953.9,212 950.6,214.4C947.3,216.9 944.8,220.2 940.7,219.4C936.6,218.6 931.1,213.3 925.9,209.5C920.6,205.7 914.9,200.2 909.4,196.3C903.9,192.5 898.4,188.1 892.9,186.4C887.4,184.8 880.8,185.6 876.4,186.4C872,187.3 868.5,191.9 866.5,191.4C864.6,190.8 864.1,186.3 864.9,183.1C865.7,180 868.2,174.6 871.5,172.4Z" fill="#7d8fa8" filter="url(#b1)"/>
<path d="M870.9,179.3C871.9,177.5 878.3,174.6 881.7,173.4C885.1,172.3 890.8,171.5 891.5,172.5C892.1,173.4 888.2,177.3 885.6,179.3C883,181.2 878.3,184.2 875.8,184.2C873.4,184.2 870,181.1 870.9,179.3Z" fill="#b4aed0" fill-opacity="0.7" filter="url(#b1)"/>
<path d="M864.1,214.5C863.1,210 864.8,204 866.1,198.8C867.4,193.6 869,187.2 871.9,183.2C874.9,179.2 879.4,176.7 883.6,175C887.9,173.3 892.1,172.4 897.3,173C902.5,173.7 909.7,177.5 914.9,178.9C920.1,180.3 923.7,180.9 928.6,181.2C933.4,181.6 940,180.3 944.2,181.2C948.4,182.2 952.2,184.7 954,187.1C955.7,189.6 955.6,192.8 954.9,195.9C954.3,199 952.5,202.4 950,205.7C947.6,208.9 943.9,212.5 940.3,215.4C936.7,218.4 932.8,220.9 928.6,223.4C924.3,226 919.4,229.3 914.9,230.9C910.3,232.4 906.1,232.8 901.2,232.8C896.3,232.8 890.4,232.1 885.6,230.9C880.8,229.6 875.9,228.1 872.3,225.4C868.7,222.7 865.2,218.9 864.1,214.5Z" fill="#6a7b99" filter="url(#b1)"/>
<path d="M867,212.5C866.7,208.6 867.4,201.6 869,196.9C870.6,192.2 873.4,187.4 876.8,184.2C880.2,181 885.1,178.5 889.5,177.7C893.9,176.9 898.9,177.9 903.2,179.3C907.4,180.7 911.6,183.7 914.9,186.1C918.1,188.6 921.1,191.2 922.7,193.9C924.3,196.7 925,199.6 924.7,202.7C924.3,205.8 922.7,209.2 920.8,212.5C918.8,215.8 915.9,219.6 912.9,222.3C910,224.9 907.1,227.2 903.2,228.5C899.3,229.8 893.7,230.5 889.5,230.1C885.3,229.7 880.9,227.8 877.8,226.2C874.7,224.5 872.7,222.6 870.9,220.3C869.2,218 867.4,216.4 867,212.5Z" fill="#4d6078" filter="url(#b2)"/>
<path d="M872.9,208.6C873,204.9 874,198.1 875.8,193.9C877.6,189.8 880.4,186 883.6,183.6C886.9,181.2 891.6,179.8 895.4,179.7C899.1,179.6 903,181.3 906.1,183.2C909.2,185.1 912.1,188.2 913.9,191C915.8,193.8 916.9,196.7 917.2,199.8C917.6,202.9 917.1,206.4 915.9,209.6C914.7,212.7 912.4,216.1 910,218.8C907.6,221.4 904.5,223.9 901.2,225.2C898,226.5 893.7,227 890.5,226.6C887.2,226.1 884.2,224.3 881.7,222.7C879.2,221 876.9,218.8 875.4,216.4C874,214.1 872.8,212.3 872.9,208.6Z" fill="#34465c" filter="url(#b2)"/>
<path d="M878.8,202.7C879.2,198.8 881.2,192.3 883.6,189.1C886.1,185.9 890.2,184.1 893.4,183.6C896.7,183.1 900.4,184.6 903.2,186.1C905.9,187.7 908.4,190.5 910,193C911.6,195.5 912.5,198.2 912.5,201.2C912.5,204.1 911.4,207.7 910,210.5C908.6,213.4 906.6,216.4 904.1,218.4C901.7,220.3 898.3,222.1 895.4,222.3C892.4,222.4 889,221 886.6,219.3C884.1,217.7 882,215.3 880.7,212.5C879.4,209.7 878.3,206.6 878.8,202.7Z" fill="#2c354b" filter="url(#b2)"/>
<path class="g" d="M873.1,59.5 V373.6M962.8,59.5 V373.6M1052.5,59.5 V373.6M1142.1,59.5 V373.6M828.3,328.5 H1146.6M828.3,283.6 H1146.6M828.3,238.8 H1146.6M828.3,194 H1146.6M828.3,149.2 H1146.6M828.3,104.3 H1146.6"/>
<path class="k" transform="translate(779.1 0)" d="M47,276.9 49.6,277.4 51,279.2 50.1,282.3 51.4,281.9 51.9,278.3 54.1,276.9 57.3,276 60.4,275.6 63.1,274.2 64.9,271.5 65.8,273.3 68,272.9 70.7,271.5 74.3,271.1 78.3,269.8 80.6,267.5 84.2,265.3 86,263 88.7,261.7 89.5,259.4 92.2,258.1 92.7,255 94.5,252.7 96.7,249.6 98.5,246.9 101.2,245.1 101.2,242.4 103,239.7 100.8,238.8 97.6,237.5 99.9,235.7 102.5,234.8 102.1,232.1 99.4,230.8 101.7,229.9 98.5,226.7 96.7,223.6 94.5,220 91.3,217.7 90.4,216 93.1,213.7 95.4,211.9 97.6,209.7 100.8,208.3 104.8,207.4 105.7,205.6 102.1,205.2 98.5,204.3 95.4,204.3 93.1,206.1 90.4,206.5 89.1,204.7 87.3,202.5 84.2,200.7 83.3,198.5 85.1,197.6 89.1,197.6 91.3,195.8 93.6,194 96.7,192.2 98.5,190.4 102.1,190 103.9,191.7 101.7,194.9 99.9,197.6 99.4,199.4 102.1,198.5 105.2,196.7 108.8,195.3 112.9,194.4 114.7,195.8 117.8,196.7 117.3,199.8 115.5,202.5 118.7,203.9 121.4,204.3 123.6,204.7 124.5,207.4 122.3,209.2 123.6,211.9 123.2,214.2 122.3,216.4 122.3,218.6 124.1,219.5 126.8,218.2 129,217.3 131.7,216.9 134.4,216 136.2,213.7 136.2,211 136.2,207.4 134.8,204.7 132.6,202.1 129.9,199.4 127.7,197.1 127.7,194.9 130.8,194 134.4,191.7 137.5,190 137.5,187.3 140.2,184.1 142,183.7 143.3,181.9 146.9,179.2 149.2,179.6 151.9,181.4 155.9,181 160.4,178.7 163.5,176.1 167.1,172.5 170.2,168.9 173.8,164.9 177,161.3 180.6,156.8 184.6,153.6 185.9,149.2 186.4,144.7 189.1,141.1 190,138.8 189.1,135.7 185,134.8 182.8,131.2 177.9,129.9 173.8,131.7 171.6,133 169.3,131.2 169.3,128.5 162.6,127.6 166.7,125.8 172.5,122.3 177,118.7 182.8,115.5 185.9,113.3 190.4,111.1 194.9,108.8 201.6,107.5 208.3,107 215.1,107.5 221.8,107.5 224,105.7 230.8,106.6 234.3,108.8 237.5,108.4 242,107.9 247.8,107.9 251.4,107 249.1,104.8 258.1,99 264.4,96.7 271.1,96.3 274.2,98.5 275.1,101.2 280.1,98.5 285.9,96.7 288.1,94 294.9,92.7 289.5,96.7 286.8,99.8 282.3,102.1 280.1,104.3 275.6,106.6 272.5,108.8 268.9,112 264.4,114.2 259.9,115.5 259,118.7 255.4,122.3 253.6,126.7 253.6,131.2 255.4,135.7 256.8,140.2 258.6,144.7 262.1,142.4 265.7,138 267.1,135.7 272.5,134.8 273.3,131.2 277.8,128.5 281.4,125.8 282.3,122.3 286.8,121.4 287.7,117.8 285.9,114.2 288.1,112 290.4,108.8 294.9,105.2 301.1,105.2 301.6,102.5 309.2,102.1 319.5,104.3 320.4,102.1 327.1,99.8 333.9,97.2 340.6,95.4 349.6,93.1 358.5,94 360.8,91.8 358.5,89.5 356.3,86.4 351.8,84.2 356.3,83.7 360.8,81.9 368.4,80.1M266.6,58.6 272.5,60.8 276.9,61.3 280.1,63.1 286.8,61.3 295.8,61.3 304.7,60.8 310.6,59.5 315.9,63.5 320.4,59.9 322.7,58.6M342.8,59.1 349.6,60.8 358.5,62.6 365.3,64 368.8,64.9M47,284.1 51,283.2 53.7,285 51.9,289 49.2,290.8 47,291.7M98.5,260.8 101.2,259.9 102.5,261.2 102.1,264.4 100.8,268.4 98.5,272.9 97.6,275.1 95.4,272 94.5,268.9 96.3,264.8ZM121.8,224 123.6,222.9 125.2,223.4 123.6,224.5ZM139.8,222.7 142.9,221.3 146.5,222.7 147.4,225.4 145.6,229.9 144.7,232.5 142,234.3 139.8,233 140.2,229.4 141.5,227.2 139.8,226.3 137.5,226.7 137.1,224.5ZM149.6,223.1 151,220.9 155,219.5 159.5,220 159.9,221.8 157.7,224 154.6,223.1 152.3,226.3 150.1,225.4ZM142.9,220.9 145.1,219.1 148.7,216.4 151.4,214.2 154.6,214.2 159,213.7 162.6,213.3 165.8,213.7 165.8,210.6 168.9,208.3 169.3,206.1 171.6,205.2 170.2,207.9 172.5,208.3 176.1,206.5 178.3,203.9 181.4,201.6 182.8,198.5 183.7,194.9 183.2,191.7 185,189.5 187.7,188.6 189.5,187.7 190.4,191.3 192.2,194 192.7,196.7 190.9,200.3 188.2,201.6 187.7,203.9 188.2,207.4 186.8,209.7 186.4,211.9 187.3,213.3 185,215.5 183.2,216.9 182.8,214.6 181.9,215.1 180.1,215.5 179.2,217.7 178.3,216.4 176.1,217.7 173.4,217.7 170.2,218.2 169.8,219.5 167.1,221.3 164.9,223.1 162.2,221.8 161.7,219.5 162.6,218.2 159.5,217.7 156.3,219.1 152.3,219.5 148.7,220.9 146.9,220.9ZM184.1,187.3 185,183.7 182.8,182.3 185,179.2 189.5,179.2 191.3,174.7 191.8,170.2 192.7,169.3 196.7,172.9 200.7,175.2 205.2,176.5 207.4,174.7 208.8,179.2 206.1,180.5 201.6,181 198.5,184.1 198,185 192.7,182.8 188.2,182.8 185.5,183.7 189.1,185.9 186.4,186.4ZM192.7,129.9 196.2,129.9 197.1,133.5 198.5,138 198,142.4 200.7,147.8 203.9,152.7 197.1,152.7 195.3,158.1 197.1,162.6 199.4,164 198.9,166.2 195.8,164 193.1,167.1 192.2,164.4 192.7,160.4 193.6,155.9 192.7,151.4 193.1,146.9 191.8,142.4 191.3,138.8 192.2,134.4ZM208.3,177 211.9,173.8M214.6,173.8 219.6,171.1 223.1,169.3M226.7,168.4 230.3,166.2M251.8,148.7 255.4,146 254.5,148.3 251.8,148.7M289,111.1 292.6,107.9 291.3,110.6ZM171.1,126.7 175.6,126.3 173.8,128.1ZM128.5,256.3 131.2,253.2 129.9,255.4ZM96.7,290.4 99.4,289.9 102.5,291.3 104.3,295.8 103.9,300.2 101.2,302.5 101.7,307.9 104.3,310.5 107,309.7 108.8,311.4 112,315 112.4,316.8 108.8,315 105.7,312.8 101.7,311 98.1,311.9 96.7,309.2 98.5,307.9 96.7,307 94.9,306.5 93.6,302.5 95.4,301.1 95.8,294.9ZM95.4,313.2 99,312.8 100.8,316.4 99.4,318.6 97.6,317.3ZM81.5,335.7 84.6,332.1 88.2,328.5 90.9,324.9 92.7,322.2 91.3,326.7 87.8,331.6 83.7,334.8ZM103,320 107,321.3 107.9,323.1 105.7,326.2 103,326.2 103,323.1ZM107,324 109.7,324.9 108.8,328.9 107.5,332.5 105.2,330.3 105.7,326.7ZM109.3,330.7 111.1,327.1 112,323.1 110.6,327.6ZM111.1,329.4 114.2,328.5 114.2,330.3 112,330.3ZM113.8,322.2 116.4,322.7 117.3,327.1 115.5,328.5 115.1,324.4ZM113.3,317.3 117.8,317.3 119.6,323.1 116.4,323.1 116,320.4ZM108.4,317.3 112,318.6 110.2,320ZM102.5,342.4 103.4,338.3 107.5,335.2 111.1,337.4 113.8,334.8 116.4,333 118.2,329.4 119.1,333 122.3,336.1 123.2,340.6 121.8,345.1 118.2,348.2 119.6,342.8 118.2,341.5 117.3,346.4 112.9,345.1 112,340.6 109.3,339.7 106.6,339.7ZM47,364.8 50.5,365.7 53.7,366.6 55.5,362.6 62.2,359.9 66.7,354 69.8,351.8 73.4,349.1 76.1,346 79.2,341.9 81.5,343.7 83.7,346.4 86.4,347.3 90.4,350 86.4,353.1 83.3,354.5 84.2,357.6 82.4,360.8 85.1,363.4 89.1,368.8 84.6,369.7 82.8,373.3 82.4,376M92.7,375.6 93.1,371.5 95.4,369.3 98.5,367.5 105.2,368.8 111.5,369.3 114.7,367 117.3,366.1 114.7,371.1 108.8,372 102.1,371.1 97.2,371.1 94.5,374.7 94,376M127.2,375.6 128.1,369.7 129.4,365.2 129.9,363.4 132.6,366.6 129.9,368.8 133,371.1 130.8,372 129.4,375.6M118.2,58.2 116.4,59.9 111.1,64 107.9,68.9 108.8,73.8 113.8,79.2 120.5,83.7 130.3,86.8 136.6,89.1 138,92.7 133.9,96.7 125.4,99.4 113.8,101.2 100.3,102.1 97.6,103 92.2,102.5 85.5,105.5 77.4,103 70.7,101.2 64.4,103.4 59.5,107.5M136.6,89.1 147.8,88.2 156.3,89.1 163.1,91.3 165.3,93.6 163.5,98.1 161.3,101.6 159.5,102.5M88.7,88.2 101.7,86.8 112,85.5 120.5,83.7M245.6,69.8 255.4,68.9 260.8,66.7 265.7,64.9 276,65.3M216.4,58.2 217.3,61.7M140.2,163.5 150.1,159.5 159.9,156.3 168,151.4 170.2,146.9 177,143.3 183.7,138.8 187.3,135.3M47,268 50.5,268.4 55.5,268 60,269.8 64.4,271.5M68.5,236.1 72.5,238.8 77,240.2 80.6,236.6 84.2,233.4 87.8,229.9 91.8,228.5 96.3,229.9 99.4,230.8M148.3,172.9 151,170.2 150.5,173.4ZM81.5,154.5 83.7,152.7 83.3,154.5ZM87.3,224.5 89.1,223.1 88.7,224.9Z"/>
<path class="z" d="M827,88.5C828,88.4 838.4,87.3 840.2,86.8C842,86.4 849.9,83.4 851.7,82.7C853.5,82.1 863.1,78.3 864.9,77.8C866.7,77.3 875,76.2 876.4,76.1C877.9,76.1 883.3,76.5 884.7,76.9C886,77.4 894,81.9 894.6,82.7C895.2,83.6 893.3,87.8 892.9,88.5C892.5,89.2 889,91.8 889.3,92.6C889.5,93.4 895.1,98.1 896.2,99.2C897.3,100.3 903.5,106.2 904.4,107.4C905.4,108.6 908.7,114.5 909.4,115.7C910.1,116.9 913.4,122.7 914.3,123.9C915.3,125.1 921.4,130.9 922.6,132.1C923.8,133.4 930,139.5 930.8,140.4C931.7,141.2 933.3,142.9 934.1,143.6C934.9,144.2 941,148.6 942.3,149.4C943.7,150.1 950.7,153 952.2,153.5C953.8,154 962.1,155.8 963.8,155.9C965.5,156.1 973.7,155.4 975.3,155.1C976.9,154.8 983.4,152.4 985.2,151.8C987,151.2 997.7,147.5 1000,146.9C1002.3,146.3 1013.5,144 1016.5,143.6C1019.5,143.2 1037.9,141.4 1041.2,141.1C1044.5,140.9 1058.6,140.4 1061,140.3C1063.4,140.2 1072.3,140.1 1074.2,140.3C1076,140.5 1084.4,142.9 1085.7,143.6C1087,144.3 1091.7,149 1092.3,150.2C1092.8,151.4 1093.2,158.6 1093.1,160.1C1093,161.5 1091.2,168.5 1090.6,170C1090.1,171.4 1086.7,178.6 1085.7,179.8C1084.7,181.1 1078.9,186.5 1077.5,187.3C1076,188 1068,190.3 1065.9,190.6C1063.9,190.8 1051.9,191 1049.4,191C1047,191.1 1035.4,191.3 1033,191.4C1030.5,191.5 1018.9,192.1 1016.5,192.2C1014.1,192.3 1002.2,192 1000,192.2C997.8,192.4 988.4,194 986.8,194.7C985.3,195.3 979.7,200.3 978.6,201.3C977.5,202.2 973.1,206.9 972,207.9C970.9,208.8 965,213.6 963.8,214.4C962.6,215.3 956.6,218.7 955.5,219.4C954.4,220.1 950,223.3 948.9,224.2C947.8,225.2 941.9,231.1 940.7,232.5C939.5,233.8 933.8,240.9 932.5,242.4C931.1,243.8 923.8,251 922.6,252.2C921.4,253.5 916.5,258.8 916,259.7C915.4,260.5 914.9,263.1 915.2,263.8C915.4,264.4 918.2,268.1 919.3,268.7C920.3,269.4 927.2,272.4 929.2,272.8C931.1,273.3 943.2,275 945.6,275.3C948.1,275.7 960.1,277.8 962.1,277.8C964.2,277.8 972.1,276.2 973.6,275.3C975.2,274.4 982,267 983.5,265.4C985.1,263.9 993.3,255.5 995.1,253.9C996.9,252.3 1006.3,245.5 1008.2,244C1010.2,242.6 1019.6,235.5 1021.4,234.1C1023.2,232.8 1031.5,227 1033,225.9C1034.4,224.8 1040.1,220.1 1041.2,219.3C1042.3,218.5 1046.6,215.3 1047.8,214.4C1049,213.6 1056.4,208.5 1057.7,207.9C1059,207.2 1064.7,206.1 1065.9,206.2C1067.1,206.3 1072.9,208.9 1074.2,209.5C1075.4,210.1 1081.7,214 1082.4,214.4C1083.1,214.9 1083.2,215.4 1084,216C1084.9,216.6 1092.5,221.5 1093.9,222.6C1095.4,223.7 1102.6,229.6 1103.8,230.8C1105,232 1109.4,237.9 1110.4,239.1C1111.4,240.3 1116,246.3 1117,247.3C1118,248.3 1122.5,251.7 1123.6,252.2C1124.7,252.8 1129.9,254.5 1131.8,254.7C1133.8,254.9 1148.6,254.7 1150,254.7"/>
<path class="z" d="M1140.1,58 1131.8,64.6 1118.6,72.8 1112.1,81.9 1123.6,85.2 1135.1,86.8 1150,87.3"/>
<path class="z" d="M825.4,309.2C826.1,308.7 833.8,303.3 835.2,302.4C836.7,301.6 843.9,298.3 845.1,297.6C846.3,296.8 850.4,292.8 851.7,291.8C853,290.8 861.7,285.1 863.2,284.4C864.8,283.7 871.6,282.1 873.1,281.9C874.7,281.8 883.2,282.1 884.7,282.2C886.2,282.4 893,283.6 893.7,284.4C894.5,285.2 894.6,292.3 894.6,293.4C894.5,294.6 893.3,299 892.9,299.9C892.5,300.9 890.6,305.6 889.6,306.5C888.6,307.5 881.2,312 879.7,313.1C878.3,314.2 871.1,320.2 869.8,321.4C868.6,322.6 863.1,328.4 862.4,329.6C861.8,330.8 861.6,336.8 860.8,337.8C860,338.9 853.2,343.5 851.7,344.4C850.2,345.4 842,350 840.2,351C838.4,352 828,357.7 827,358.3"/>
<path class="p" d="M881.4,285.2C881.9,285.8 887.7,292.4 888,293.4C888.3,294.5 885.9,299.3 885.5,300C885.1,300.8 883.7,302.5 883,303.2C882.4,304 877.6,308.7 876.4,309.8C875.2,310.9 867.9,316.7 866.5,318.1C865.2,319.4 859,326.6 858.3,328C857.6,329.3 857.4,335.2 856.7,336.2C855.9,337.2 849.9,340.3 848.4,341.1C847,342 838.5,346.9 836.9,347.7C835.3,348.6 827.7,352.6 827,353"/>
<path class="z" d="M994.2,115.3 1008.2,115.3"/>
<path class="p" d="M991.8,58C990.5,58.2 969.4,62.6 967.1,62.9C964.7,63.3 947,65.2 945.6,65.4C944.2,65.7 939.4,67.4 939,67.9C938.7,68.3 938.7,73.7 939,74.5C939.4,75.3 944.9,83.4 945.6,84.4C946.3,85.3 952.8,92.6 953.1,93.4C953.3,94.2 950.7,100.1 950.6,100.8C950.4,101.5 949.7,106.7 949.8,107.4C949.8,108.2 951.8,114.8 952.2,115.7C952.7,116.5 957.9,123.2 958.8,123.9C959.7,124.7 969.1,130 970.4,130.5C971.6,131 982.1,133.3 983.5,133.5C985,133.6 998.4,133.9 1000,133.8C1001.7,133.6 1014.8,131 1016.5,130.5C1018.1,130 1031.5,124.5 1033,123.9C1034.4,123.3 1045.1,119.4 1046.1,119C1047.2,118.6 1054.3,116.3 1054.4,115.7C1054.5,115 1048.5,106.5 1047.8,105.8C1047.1,105 1040.7,101.3 1039.6,100.8C1038.4,100.4 1026.3,97.8 1024.7,97.5C1023.2,97.3 1009.7,95.3 1008.2,95.1C1006.8,94.9 996.1,93.5 995.1,93.4C994,93.3 986.6,93.2 986.8,92.9C987.1,92.7 998.5,88.9 1000,88.5C1001.5,88.1 1014.8,84.7 1016.5,84.4C1018.1,84 1031.2,81.3 1033,81.1C1034.8,80.8 1051.5,80 1052.7,79.4C1054,78.9 1057.7,71.1 1057.7,70.4C1057.7,69.6 1053.5,65.2 1052.7,64.6C1052,64 1043.3,58.3 1042.9,58"/>
<path class="p" d="M1150,102.5C1148.6,102.6 1134.7,103.7 1131.8,104.1C1128.9,104.6 1112.8,108.3 1110.4,109.1C1108,109.9 1099.1,113.8 1098.9,114.8C1098.6,115.9 1105.9,122.6 1107.1,123.9C1108.3,125.2 1114.5,130.8 1115.4,132.1C1116.2,133.5 1118.5,141 1118.6,142C1118.8,143.1 1117.5,145.6 1117,146.9C1116.5,148.2 1112.8,158.1 1112.1,160.1C1111.3,162 1107.6,171.4 1107.1,173.2C1106.6,175.1 1105.3,183.2 1105.5,184.8C1105.6,186.4 1107.9,193.3 1108.8,194.7C1109.6,196 1115.7,201.7 1117,202.9C1118.3,204.1 1125.2,209.9 1126.9,211.1C1128.6,212.4 1138.4,218.6 1140.1,219.4C1141.8,220.2 1149.2,222.1 1150,222.4"/>
<path class="p" d="M1150,134.6C1149.2,135.2 1141.4,140.8 1140.1,142C1138.7,143.3 1132.8,150.4 1131.8,151.8C1130.9,153.3 1127.1,160.1 1126.9,161.7C1126.6,163.3 1127.9,171.7 1128.5,173.2C1129.1,174.8 1134,181.9 1135.1,183.1C1136.2,184.3 1142.3,189.1 1143.4,189.7C1144.4,190.4 1149.5,191.6 1150,191.7"/>
<path class="p" d="M950,241.8C950.3,240.7 954.6,233.5 955.9,232C957.2,230.6 965.8,223.7 967.6,222.3C969.5,220.8 979.4,213.6 981.3,212.5C983.2,211.4 991.2,207.5 993,207C994.9,206.5 1004.8,205.7 1006.7,205.7C1008.5,205.6 1017.2,206 1018.4,206.6C1019.6,207.3 1023.3,213.3 1023.3,214.5C1023.3,215.6 1019.6,221.1 1018.4,222.3C1017.2,223.4 1008.5,228.9 1006.7,230.1C1004.8,231.2 995,236.9 993,237.9C991,238.9 981.5,243 979.3,243.8C977.2,244.5 965.7,247.4 963.7,247.7C961.7,247.9 953,248.1 952,247.7C951,247.2 949.8,242.9 950,241.8Z"/>
<path class="n" d="M827,110.7C828.2,110.8 841.1,112 843.5,112.4C845.9,112.7 857.5,115 860,115.7C862.4,116.3 874.3,120.5 876.4,121.4C878.6,122.4 888,127.8 889.6,128.9C891.2,129.9 896.9,134.6 897.9,135.4C898.8,136.3 902.3,139.9 902.8,140.4C903.3,140.9 903.7,141.3 904.4,141.9C905.2,142.6 911.4,148.3 912.7,149.4C914,150.4 921.1,155.7 922.6,156.8C924,157.8 931,162.6 932.5,163.4C933.9,164.1 940.9,167 942.3,167.5C943.8,168 950.9,169.5 952.2,170C953.6,170.4 959.4,172.6 960.5,173.2C961.6,173.9 966.3,177.3 967.1,178.2C967.8,179 970.2,183.7 970.4,184.8C970.5,185.9 969.8,191.9 969.5,193C969.3,194.1 967.5,198.6 967.1,199.6C966.6,200.6 964.5,205.1 963.8,206.2C963,207.3 958.1,213.4 957.2,214.4C956.2,215.5 951.9,220.9 950.6,221C949.2,221.1 940.4,215.9 939,216C937.7,216.1 933.5,221.5 932.5,222.6C931.4,223.7 925.5,229.6 924.2,230.8C922.9,232 915.8,238 914.3,239.1C912.9,240.2 906,244.7 904.4,245.7C902.9,246.6 894.6,251.4 892.9,252.2C891.2,253.1 883.2,256.6 881.4,257.2C879.6,257.7 870.2,259.4 868.2,259.7C866.1,259.9 855.4,260.3 853.4,260.5C851.3,260.7 842.1,261.8 840.2,262.1C838.2,262.5 828,265.2 827,265.4"/>
<path class="n" d="M825,164.6C826,164.1 836.4,158.6 838.7,157.8C841,157 853.6,154.1 856.3,153.9C859,153.7 873,154.5 875.8,154.9C878.7,155.3 892.5,158.9 895.4,159.8C898.2,160.6 912.3,165.9 914.9,166.6C917.5,167.3 928.4,169.1 930.5,169.5C932.7,170 942.5,171.7 944.2,172.5C945.9,173.2 953,178.1 954,179.3C955,180.5 957.6,187.6 957.9,189.1C958.1,190.5 957.3,197.4 956.9,198.8C956.5,200.3 953.1,207 952,208.6C950.9,210.2 943.8,218.6 942.2,220.3C940.7,222 932.4,230.3 930.5,232C928.7,233.8 918.2,243.6 916.8,243.8C915.5,243.9 913.7,234.3 912.7,234.1C911.7,234 904.4,240.6 902.8,241.5C901.2,242.4 893.1,246 891.3,246.5C889.4,247 880,248.3 878.1,248.1C876.1,247.9 866.8,244.9 864.9,244C863,243.1 853.5,237.1 851.7,235.8C849.9,234.4 841.8,227.3 840.2,225.9C838.6,224.4 831.3,216.6 830.3,216C829.3,215.4 827.4,219.2 827,218.4C826.6,217.5 825.2,205.7 825,204.7"/>
<path class="n" d="M838.7,204.7C838.7,202.4 841.8,191.4 842.6,189.1C843.5,186.8 849,175.2 850.4,173.4C851.9,171.6 860.2,165.4 862.2,164.6C864.2,163.9 875.3,162.7 877.8,162.7C880.2,162.7 892.9,164.1 895.4,164.6C897.8,165.1 908.8,168.7 911,169.5C913.1,170.3 922.8,174.5 924.7,175.4C926.5,176.3 934.9,181.2 936.4,182.2C937.8,183.2 943.4,188.1 944.2,189.1C945,190.1 947.1,194.8 947.1,195.9C947.1,197 945,203.3 944.2,204.7C943.4,206 937.7,212.9 936.4,214.5C935.1,216 928.2,224.5 926.6,226.2C925,227.9 916.8,236.5 914.9,237.9C913,239.3 903.4,244.1 901.2,244.7C899.1,245.4 887.9,246.8 885.6,246.7C883.3,246.6 872.3,244.7 870,243.8C867.7,242.8 856.3,235.7 854.3,234C852.3,232.3 843.8,222.5 842.6,220.3C841.5,218.2 838.7,207 838.7,204.7Z"/>
<path class="n" d="M853.4,208.6C853.7,206.7 857.2,195.1 858.2,193C859.3,190.8 866.3,180.8 868,179.3C869.7,177.8 879.5,173 881.7,172.5C883.8,171.9 895.2,171.3 897.3,171.5C899.5,171.7 909.1,174.5 911,175.4C912.8,176.2 921.1,182 922.7,183.2C924.3,184.4 931.4,190.9 932.5,192C933.5,193.1 937.1,196.9 937.4,197.9C937.6,198.8 937,203.6 936.4,204.7C935.7,205.8 929.7,211.2 928.6,212.5C927.4,213.8 921.9,220.8 920.8,222.3C919.6,223.7 914.4,230.8 912.9,232C911.5,233.2 903.2,238.2 901.2,238.9C899.2,239.5 887.7,241 885.6,240.8C883.4,240.7 873.8,237.8 871.9,236.9C870.1,236 861.5,229.5 860.2,228.1C858.9,226.8 854.8,219.8 854.3,218.4C853.8,216.9 853.1,210.5 853.4,208.6Z"/>
<path class="n" d="M863.1,214.5C863.2,212.9 865.3,202.7 866.1,200.8C866.9,198.8 872.4,189.5 873.9,188.1C875.3,186.7 883.9,181.9 885.6,181.2C887.3,180.6 895.6,179.1 897.3,179.3C899,179.5 907.5,182.7 909,183.6C910.5,184.5 916.7,190.6 917.8,192C919,193.4 924.6,201.4 924.7,202.7C924.7,204.1 919.8,209.4 918.8,210.5C917.8,211.7 912.1,217.1 911,218.4C909.8,219.6 904.5,227 903.2,228.1C901.9,229.3 895,233.6 893.4,234C891.8,234.4 883.3,234.4 881.7,234C880,233.6 872.2,229.1 870.9,228.1C869.7,227.2 865.7,222.3 865.1,221.3C864.5,220.3 863.1,216 863.1,214.5Z"/>
<path class="n" d="M1003.3,158.4C1004.3,157.4 1014.3,154.6 1016.5,154.3C1018.7,154 1030.7,154.5 1033,154.8C1035.3,155.1 1046.5,157.6 1047.8,158.4C1049.1,159.3 1050.3,165.6 1050.3,166.7C1050.3,167.7 1048.8,172.5 1047.8,173.2C1046.8,174 1038.3,176.8 1036.3,177.4C1034.2,177.9 1021.8,181.2 1019.8,181.2C1017.7,181.1 1009.5,177.5 1008.2,176.5C1007,175.6 1002.8,169.6 1002.5,168.3C1002.1,167 1002.3,159.4 1003.3,158.4Z"/>
</g>
<rect x="828.3" y="59.5" width="318.3" height="314.1" fill="none" stroke="#9a9a9a" stroke-width="1"/>
<text class="L" transform="translate(779.5 24.4) scale(1 1)">C</text>
<text class="t" x="858" y="55.4">Strong wind days</text>
<text class="t" text-anchor="end" x="824.9" y="378">0°</text>
<text class="t" text-anchor="end" x="824.9" y="333.2">10°N</text>
<text class="t" text-anchor="end" x="824.9" y="288.5">20°N</text>
<text class="t" text-anchor="end" x="824.9" y="243.8">30°N</text>
<text class="t" text-anchor="end" x="824.9" y="199">40°N</text>
<text class="t" text-anchor="end" x="824.9" y="154.3">50°N</text>
<text class="t" text-anchor="end" x="824.9" y="109.5">60°N</text>
<text class="t" text-anchor="end" x="824.9" y="64.8">70°N</text>
<text class="t" text-anchor="middle" x="873.4" y="390.2">120°E</text>
<text class="t" text-anchor="middle" x="963.1" y="390.2">140°E</text>
<text class="t" text-anchor="middle" x="1052.8" y="390.2">160°E</text>
<text class="t" text-anchor="middle" x="1142.4" y="390.2">180°</text>
</g>
<g id="panel-D">
<rect x="1217.9" y="59.5" width="318.3" height="314.1" fill="#f3f4ef"/>
<g clip-path="url(#cp3)">
<path d="M1216,54.7 1536,54.7 1536,143.7 1216,143.7Z" fill="#edf4f5"/>
<path d="M1265.4,67.9C1270.9,63.5 1309.4,62.1 1331.3,61.3C1353.3,60.5 1391.8,60.2 1397.2,62.9C1402.7,65.7 1372.5,71.7 1364.3,77.8C1356.1,83.8 1347.8,91 1347.8,99.2C1347.8,107.4 1356.1,121.2 1364.3,127.2C1372.5,133.2 1387.6,137.4 1397.2,135.4C1406.9,133.5 1422,122.3 1422,115.7C1422,109.1 1393.1,99.5 1397.2,95.9C1401.4,92.3 1430.2,97.8 1446.7,94.2C1463.2,90.7 1481.2,78.9 1496.1,74.5C1511,70.1 1529.3,63.8 1536,67.9C1542.6,72 1542.6,92.6 1536,99.2C1529.3,105.8 1508.3,103.3 1496.1,107.4C1484,111.6 1476.9,119.8 1463.2,123.9C1449.4,128 1430.2,129.4 1413.7,132.1C1397.2,134.9 1380.8,141.2 1364.3,140.4C1347.8,139.6 1322.6,133.2 1314.9,127.2C1307.2,121.2 1320.9,110.7 1318.2,104.1C1315.4,97.5 1307.2,93.7 1298.4,87.7C1289.6,81.6 1259.9,72.3 1265.4,67.9Z" fill="#f8f4ea" filter="url(#b3)"/>
<path d="M1216,67.9C1220.1,66.4 1233.9,65.4 1240.7,66.2C1247.6,67.1 1258.6,71.2 1257.2,72.8C1255.8,74.5 1239.3,75.7 1232.5,76.1C1225.6,76.5 1218.7,76.7 1216,75.3C1213.3,73.9 1211.9,69.4 1216,67.9Z" fill="#f8f4ea" filter="url(#b3)"/>
<path d="M1314.9,140.3C1323.1,143 1349.2,148.8 1364.3,150.2C1379.4,151.6 1395.9,150.2 1405.5,148.5C1415.1,146.9 1406.9,141.7 1422,140.3C1437.1,138.9 1481.6,136.7 1496.1,140.3C1510.7,143.9 1507.6,154.6 1509.3,161.7C1510.9,168.9 1501.5,180.1 1506,183.1C1510.4,186.2 1531,187.5 1536,179.8C1541,172.2 1572.8,144.7 1536,137C1499.1,129.3 1351.7,133.2 1314.9,133.7C1278,134.3 1306.6,137.5 1314.9,140.3Z" fill="#f8f4ea" filter="url(#b3)"/>
<path d="M1216,295C1221.5,281.8 1242.1,289.5 1249,295C1255.8,300.5 1257.2,318.3 1257.2,328C1257.2,337.6 1244.8,349.9 1249,352.7C1253.1,355.4 1273.7,343.1 1281.9,344.4C1290.1,345.8 1295.6,356 1298.4,360.9C1301.1,365.9 1312.1,371.9 1298.4,374.1C1284.7,376.3 1229.7,387.3 1216,374.1C1202.3,360.9 1210.5,308.2 1216,295Z" fill="#f8f4ea" filter="url(#b3)"/>
<path d="M1380.8,336.2C1395.1,332.1 1420.8,334.3 1446.7,332.9C1472.5,331.5 1521.1,321.1 1536,328C1550.9,334.8 1564.6,366.4 1536,374.1C1507.4,381.8 1393.5,376.8 1364.3,374.1C1335.1,371.3 1358.3,363.9 1361,357.6C1363.7,351.3 1366.5,340.3 1380.8,336.2Z" fill="#f8f4ea" filter="url(#b3)"/>
<path d="M1384.1,78.6C1385.2,76.3 1392.3,75.3 1397.2,75.3C1402.2,75.3 1411.8,76.5 1413.7,78.6C1415.6,80.7 1412.6,85.9 1408.8,87.7C1404.9,89.4 1394.8,90.8 1390.7,89.3C1386.5,87.8 1383,80.9 1384.1,78.6Z" fill="#d1ebeb" filter="url(#b1)"/>
<path d="M1255.5,122.3C1256.6,119.7 1261.6,118.1 1265.4,118.1C1269.3,118.1 1275.9,120.2 1278.6,122.3C1281.4,124.3 1282.7,128.3 1281.9,130.5C1281.1,132.7 1277.5,134.9 1273.7,135.4C1269.8,136 1261.9,136 1258.8,133.8C1255.8,131.6 1254.4,124.9 1255.5,122.3Z" fill="#d1ebeb" filter="url(#b1)"/>
<path d="M1377.5,93.4C1377.9,92.8 1379.9,92.2 1380.8,92.6C1381.6,93 1382.8,95.3 1382.4,95.9C1382,96.5 1379.1,96.6 1378.3,96.2C1377.5,95.8 1377.1,94 1377.5,93.4Z" fill="#d1ebeb" filter="url(#b1)"/>
<path d="M1239.1,143.6C1241.3,142.4 1251.7,143 1253.9,144.4C1256.1,145.8 1254.4,150.6 1252.2,151.8C1250.1,153.1 1242.9,153.2 1240.7,151.8C1238.5,150.5 1236.9,144.8 1239.1,143.6Z" fill="#f7ecd1" filter="url(#b1)"/>
<path d="M1222.6,212.8C1222.6,210.3 1227.5,206.1 1230,206.2C1232.5,206.3 1237.4,211.1 1237.4,213.6C1237.4,216.1 1232.5,221.2 1230,221C1227.5,220.9 1222.6,215.3 1222.6,212.8Z" fill="#f2e2b5" filter="url(#b1)"/>
<path d="M1314.9,151.8C1315.7,150.9 1320.1,149.6 1321.5,150.2C1322.8,150.7 1323.9,154.2 1323.1,155.1C1322.3,156.1 1317.9,156.5 1316.5,155.9C1315.1,155.4 1314,152.8 1314.9,151.8Z" fill="#f7ecd1" filter="url(#b1)"/>
<path d="M1216,146.9C1220.1,141.1 1232.5,151.3 1240.7,151.8C1249,152.4 1257.2,149.4 1265.4,150.2C1273.7,151 1281.9,155.4 1290.1,156.8C1298.4,158.1 1305.3,157.6 1314.9,158.4C1324.5,159.2 1336.8,159.8 1347.8,161.7C1358.8,163.6 1371.2,171.3 1380.8,170C1390.4,168.6 1397.2,156.8 1405.5,153.5C1413.7,150.2 1420.6,151 1430.2,150.2C1439.8,149.4 1452.2,149.1 1463.2,148.5C1474.1,148 1489,144.7 1496.1,146.9C1503.3,149.1 1506,156.5 1506,161.7C1506,166.9 1503.3,175.1 1496.1,178.2C1489,181.3 1474.1,179.6 1463.2,180.2C1452.2,180.8 1438.4,179.4 1430.2,181.8C1422,184.2 1419.2,193.1 1413.7,194.7C1408.2,196.3 1402.7,190 1397.2,191.4C1391.8,192.7 1386.3,199.1 1380.8,202.9C1375.3,206.8 1370.3,211.7 1364.3,214.4C1358.3,217.2 1351.4,218.3 1344.5,219.4C1337.7,220.5 1330.8,221.9 1323.1,221C1315.4,220.2 1306.6,216.9 1298.4,214.4C1290.1,212 1280.5,210 1273.7,206.2C1266.8,202.4 1262.7,194.7 1257.2,191.4C1251.7,188.1 1247.6,187.3 1240.7,186.4C1233.9,185.6 1220.1,193 1216,186.4C1211.9,179.8 1211.9,152.7 1216,146.9Z" fill="#d1ebeb" filter="url(#b2)"/>
<path d="M1410.4,158.4C1415.9,155.1 1435.1,155.5 1446.7,155.1C1458.2,154.7 1473.6,153.5 1479.6,155.9C1485.7,158.4 1487,167.1 1482.9,170C1478.8,172.8 1466.5,172.4 1454.9,173.2C1443.4,174.1 1421.1,177.4 1413.7,174.9C1406.3,172.4 1404.9,161.7 1410.4,158.4Z" fill="#b3dfda" filter="url(#b2)"/>
<path d="M1504.4,143.6C1506,141.1 1515.6,145.2 1520.8,146.9C1526.1,148.5 1533.5,148.3 1536,153.5C1538.5,158.7 1538.5,174.9 1536,178.2C1533.5,181.5 1525,176 1520.8,173.2C1516.7,170.5 1513.7,166.7 1510.9,161.7C1508.2,156.8 1502.7,146.1 1504.4,143.6Z" fill="#d1ebeb" filter="url(#b2)"/>
<path d="M1216,170C1217.6,166.4 1222.3,165.8 1225.9,166.7C1229.5,167.5 1236.3,171.6 1237.4,174.9C1238.5,178.2 1236,184.2 1232.5,186.4C1228.9,188.6 1218.7,190.8 1216,188.1C1213.3,185.3 1214.4,173.5 1216,170Z" fill="#b3dfda" filter="url(#b2)"/>
<path d="M1216,232.5C1221.5,227.8 1238,231.4 1249,230.8C1259.9,230.3 1270.9,230 1281.9,229.2C1292.9,228.4 1303.9,228.1 1314.9,225.9C1325.8,223.7 1339.6,219.3 1347.8,216C1356.1,212.7 1357.4,209.1 1364.3,206.1C1371.2,203.1 1379.4,200.1 1389,197.9C1398.6,195.7 1412.4,193.5 1422,192.9C1431.6,192.4 1440.9,193.2 1446.7,194.6C1452.4,196 1456,198.4 1456.6,201.2C1457.1,203.9 1454.4,206.4 1450,211.1C1445.6,215.7 1437.6,223.4 1430.2,229.2C1422.8,234.9 1413.7,241 1405.5,245.7C1397.2,250.3 1387.6,253.9 1380.8,257.2C1373.9,260.5 1371.2,263.8 1364.3,265.4C1357.4,267.1 1347.8,268.2 1339.6,267.1C1331.3,266 1324.5,261 1314.9,258.8C1305.3,256.7 1291.5,254.2 1281.9,254.2C1272.3,254.2 1265.4,258.3 1257.2,258.8C1249,259.3 1239.3,257.1 1232.5,257.2C1225.6,257.2 1218.7,263.3 1216,259.2C1213.3,255.1 1210.5,237.2 1216,232.5Z" fill="#f7ecd1" filter="url(#b2)"/>
<path d="M1459.9,199.6C1465.4,197.1 1487.9,196.9 1496.1,194.7C1504.4,192.5 1502.6,188.4 1509.3,186.4C1515.9,184.5 1531.5,179.8 1536,183.1C1540.4,186.4 1542.6,201.5 1536,206.2C1529.3,210.9 1508.3,210.6 1496.1,211.1C1484,211.7 1469.2,211.4 1463.2,209.5C1457.1,207.6 1454.4,202.1 1459.9,199.6Z" fill="#f7ecd1" filter="url(#b2)"/>
<path d="M1281.9,232.5C1286.9,230 1303.9,230.8 1314.9,229.2C1325.8,227.5 1338.2,225.3 1347.8,222.6C1357.4,219.8 1364.8,216 1372.5,212.7C1380.2,209.4 1385.7,205.3 1394,202.8C1402.2,200.3 1413.2,198.4 1422,197.9C1430.8,197.3 1441.7,198.1 1446.7,199.5C1451.6,200.9 1454.4,202.5 1451.6,206.1C1448.9,209.7 1435.1,217.6 1430.2,220.9C1425.3,224.2 1427.5,223.1 1422,225.9C1416.5,228.6 1405.5,234.4 1397.2,237.4C1389,240.4 1380.8,243.5 1372.5,244C1364.3,244.6 1356.1,241.3 1347.8,240.7C1339.6,240.2 1331.3,239.9 1323.1,240.7C1314.9,241.5 1304.7,245.1 1298.4,245.7C1292.1,246.2 1288,246.2 1285.2,244C1282.5,241.8 1277,234.9 1281.9,232.5Z" fill="#f2e2b5" filter="url(#b2)"/>
<path d="M1351.1,225.9C1353,221.5 1364.8,217.6 1372.5,214.4C1380.2,211.1 1389,208 1397.2,206.1C1405.5,204.2 1415.1,203.1 1422,202.8C1428.8,202.5 1437.1,202 1438.4,204.5C1439.8,206.9 1434.3,214.1 1430.2,217.6C1426.1,221.2 1419.2,223.1 1413.7,225.9C1408.2,228.6 1403.3,231.7 1397.2,234.1C1391.2,236.6 1383.5,239.6 1377.5,240.7C1371.4,241.8 1365.4,243.2 1361,240.7C1356.6,238.2 1349.2,230.3 1351.1,225.9Z" fill="#d9b16e" filter="url(#b2)"/>
<path d="M1356.1,235.8C1357.4,233.6 1367,229.3 1372.5,227.5C1378,225.7 1383.2,225.1 1389,225.1C1394.8,225.1 1405.8,226 1407.1,227.5C1408.5,229 1401.6,232.2 1397.2,234.1C1392.9,236 1386.3,238 1380.8,239.1C1375.3,240.2 1368.4,241.3 1364.3,240.7C1360.2,240.2 1354.7,238 1356.1,235.8Z" fill="#dcab94" filter="url(#b1)"/>
<path d="M1387.4,219.3C1387.9,216.8 1389.6,213 1394,211.1C1398.3,209.1 1408,207.8 1413.7,207.8C1419.5,207.8 1426.4,209.4 1428.6,211.1C1430.8,212.7 1428,215.5 1426.9,217.6C1425.8,219.8 1425.5,222.6 1422,224.2C1418.4,225.9 1410.7,227.3 1405.5,227.5C1400.3,227.8 1393.7,227.3 1390.7,225.9C1387.6,224.5 1386.8,221.8 1387.4,219.3Z" fill="#bb7047" fill-opacity="0.92" filter="url(#b2)"/>
<path d="M1422,209.5C1423.3,207.9 1435.1,204.6 1438.4,204.6C1441.8,204.6 1443.4,207.9 1442.1,209.5C1440.7,211.1 1433.6,214.4 1430.2,214.4C1426.9,214.4 1420.6,211.1 1422,209.5Z" fill="#c98b70" filter="url(#b1)"/>
<path d="M1281.6,239.9C1283.7,238 1291,235.7 1297.2,234.8C1303.5,233.9 1313.3,234.2 1319.1,234.5C1325,234.7 1331.6,234.8 1332.2,236.4C1332.7,238 1328.1,242.2 1322.3,244C1316.5,245.8 1303.5,246.9 1297.2,247.3C1291,247.7 1287.3,247.4 1284.7,246.2C1282.1,244.9 1279.5,241.8 1281.6,239.9Z" fill="#c98d66" filter="url(#b1)"/>
<path d="M1268.7,237.4C1269.3,234.7 1277.5,232.5 1285.2,231.7C1292.9,230.8 1308.3,231.4 1314.9,232.5C1321.5,233.6 1326.4,235.9 1324.7,238.2C1323.1,240.6 1312.1,244.8 1305,246.5C1297.8,248.1 1288,249.6 1281.9,248.1C1275.9,246.6 1268.2,240.2 1268.7,237.4Z" fill="#ead08f" fill-opacity="0.9" filter="url(#b2)"/>
<path d="M1225.9,245.7C1229.2,243.7 1241.5,241.5 1245.7,242.4C1249.8,243.2 1252,248.4 1250.6,250.6C1249.2,252.8 1241.5,255 1237.4,255.5C1233.3,256.1 1227.8,255.5 1225.9,253.9C1224,252.2 1222.6,247.6 1225.9,245.7Z" fill="#f2e2b5" filter="url(#b2)"/>
<path d="M1242.4,281.9C1246.2,279.2 1258.3,278.6 1265.4,278.6C1272.6,278.6 1283,279.2 1285.2,281.9C1287.4,284.7 1283.3,291.8 1278.6,295.1C1273.9,298.4 1263.2,301.7 1257.2,301.7C1251.2,301.7 1244.8,298.4 1242.4,295.1C1239.9,291.8 1238.5,284.7 1242.4,281.9Z" fill="#f7ecd1" filter="url(#b2)"/>
<path d="M1341.2,260.5C1343.7,258.8 1357.4,256.4 1361,257.2C1364.6,258 1365.1,263.8 1362.6,265.4C1360.2,267.1 1349.7,267.9 1346.2,267.1C1342.6,266.3 1338.8,262.1 1341.2,260.5Z" fill="#f2e2b5" filter="url(#b1)"/>
<path d="M1397.2,257.2C1402.7,253.6 1413.7,251.7 1422,249C1430.2,246.2 1437.1,242.1 1446.7,240.7C1456.3,239.3 1470,238 1479.6,240.7C1489.2,243.5 1495,253.6 1504.4,257.2C1513.7,260.8 1530.7,257.5 1536,262.1C1541.3,266.8 1542.6,283.8 1536,285.2C1529.3,286.6 1508.3,273.7 1496.1,270.4C1484,267.1 1474.1,266.5 1463.2,265.4C1452.2,264.3 1439.8,263 1430.2,263.8C1420.6,264.6 1412.4,267.9 1405.5,270.4C1398.6,272.8 1394.5,276.1 1389,278.6C1383.5,281.1 1379.4,283.8 1372.5,285.2C1365.7,286.6 1351.9,284.1 1347.8,286.9C1343.7,289.6 1342.3,298.7 1347.8,301.7C1353.3,304.7 1372.5,301.7 1380.8,305C1389,308.3 1397.2,317.1 1397.2,321.5C1397.2,325.8 1387.6,329.1 1380.8,331.3C1373.9,333.5 1363.2,329.1 1356.1,334.6C1348.9,340.1 1343.7,360.4 1337.9,364.3C1332.2,368.1 1324.7,361 1321.5,357.7C1318.2,354.4 1316,348.4 1318.2,344.5C1320.4,340.7 1330.8,339.6 1334.6,334.6C1338.5,329.7 1344.5,318.7 1341.2,314.9C1337.9,311 1323.4,311.6 1314.9,311.6C1306.3,311.6 1294,315.4 1290.1,314.9C1286.3,314.3 1287.7,311 1291.8,308.3C1295.9,305.5 1306.6,300.6 1314.9,298.4C1323.1,296.2 1333,297.3 1341.2,295.1C1349.5,292.9 1356.3,289.3 1364.3,285.2C1372.3,281.1 1383.5,275 1389,270.4C1394.5,265.7 1391.8,260.8 1397.2,257.2Z" fill="#d1ebeb" filter="url(#b2)"/>
<path d="M1446.7,249C1448.3,246.8 1453.8,243.7 1456.6,244C1459.3,244.3 1462.9,248.1 1463.2,250.6C1463.4,253.1 1461,257.7 1458.2,258.8C1455.5,259.9 1448.6,258.8 1446.7,257.2C1444.8,255.5 1445,251.2 1446.7,249Z" fill="#b3dfda" filter="url(#b1)"/>
<path d="M1420.3,255.5C1422.2,254.9 1431.6,254.9 1433.5,255.5C1435.4,256.1 1433.8,258.5 1431.9,259.2C1429.9,259.8 1423.9,260.1 1422,259.5C1420,258.9 1418.4,256.2 1420.3,255.5Z" fill="#b3dfda" filter="url(#b1)"/>
<path d="M1486.2,254.7C1486.6,253.3 1489.4,252.4 1490.3,253.1C1491.3,253.8 1492.4,257.5 1492,258.8C1491.6,260.2 1488.8,262 1487.9,261.3C1486.9,260.6 1485.8,256.1 1486.2,254.7Z" fill="#b3dfda" filter="url(#b1)"/>
<path d="M1288.5,265.4C1289.9,263.9 1296.6,263.4 1298.4,264.6C1300.2,265.8 1300.6,271.3 1299.2,272.8C1297.8,274.4 1291.9,274.9 1290.1,273.7C1288.4,272.4 1287.1,266.9 1288.5,265.4Z" fill="#d1ebeb" filter="url(#b1)"/>
<path d="M1333,347.7C1333.5,345 1337.9,342.1 1341.2,339.5C1344.5,336.9 1348.9,332.9 1352.8,332.1C1356.6,331.2 1365.1,332.5 1364.3,334.5C1363.5,336.6 1352.2,340.9 1347.8,344.4C1343.4,348 1340.4,355.4 1337.9,356C1335.5,356.5 1332.4,350.5 1333,347.7Z" fill="#b3dfda" filter="url(#b2)"/>
<path d="M1415.4,311.5C1416.5,308.7 1418.9,303.8 1423.6,301.6C1428.3,299.4 1437.6,297.7 1443.4,298.3C1449.2,298.8 1456,301.6 1458.2,304.9C1460.4,308.2 1459,314.5 1456.6,318.1C1454.1,321.6 1448.3,325.2 1443.4,326.3C1438.4,327.4 1431.3,326 1426.9,324.7C1422.5,323.3 1418.9,320.3 1417,318.1C1415.1,315.9 1414.3,314.2 1415.4,311.5Z" fill="#d1ebeb" filter="url(#b2)"/>
<path d="M1433.5,309.8C1434.3,307.9 1439,305.2 1441.7,304.9C1444.5,304.6 1449.2,306.3 1450,308.2C1450.8,310.1 1448.9,315 1446.7,316.4C1444.5,317.8 1439,317.5 1436.8,316.4C1434.6,315.3 1432.7,311.8 1433.5,309.8Z" fill="#b3dfda" filter="url(#b1)"/>
<path d="M1487.9,308.2C1490.6,304.1 1504.6,300.5 1512.6,298.3C1520.6,296.1 1532.1,293.9 1536,295C1539.9,296.1 1539.9,302.1 1536,304.9C1532.1,307.6 1517.9,307.9 1512.6,311.5C1507.3,315 1507.1,324.4 1504.4,326.3C1501.6,328.2 1498.9,326 1496.1,323C1493.4,320 1485.1,312.3 1487.9,308.2Z" fill="#d1ebeb" filter="url(#b2)"/>
<path d="M1291.8,321.4C1292.6,320 1297,318.9 1298.4,319.7C1299.8,320.5 1300.9,324.9 1300,326.3C1299.2,327.7 1294.8,328.8 1293.4,328C1292.1,327.1 1291,322.7 1291.8,321.4Z" fill="#b3dfda" filter="url(#b1)"/>
<path d="M1216,301.6C1218.2,297.2 1226.4,297.7 1229.2,299.9C1231.9,302.1 1233,310.7 1232.5,314.8C1231.9,318.9 1228.6,322.7 1225.9,324.7C1223.1,326.6 1217.6,330.2 1216,326.3C1214.4,322.5 1213.8,306 1216,301.6Z" fill="#f7ecd1" filter="url(#b2)"/>
<path d="M1314.9,301.6C1317.1,299.1 1325.8,298.3 1331.3,299.9C1336.8,301.6 1345.6,307.9 1347.8,311.5C1350,315 1347.8,319.4 1344.5,321.4C1341.2,323.3 1332.4,324.1 1328,323C1323.7,321.9 1320.4,318.3 1318.2,314.8C1316,311.2 1312.7,304.1 1314.9,301.6Z" fill="#f8f4ea" filter="url(#b2)"/>
<path d="M1361,357.6C1363.7,354.9 1376.1,351.6 1380.8,352.7C1385.4,353.8 1389,360.9 1389,364.2C1389,367.5 1384.9,371.6 1380.8,372.4C1376.7,373.3 1367.6,371.6 1364.3,369.1C1361,366.7 1358.3,360.4 1361,357.6Z" fill="#f7ecd1" filter="url(#b2)"/>
<path d="M1476.3,367.5C1478.5,366.1 1486.2,364.8 1489.5,365.9C1492.8,367 1498.3,372.7 1496.1,374.1C1493.9,375.5 1479.6,375.2 1476.3,374.1C1473,373 1474.1,368.9 1476.3,367.5Z" fill="#f7ecd1" filter="url(#b1)"/>
<path d="M1285.2,298.3C1285.8,297.3 1289,296.1 1290.1,296.6C1291.2,297.2 1292.3,300.6 1291.8,301.6C1291.2,302.6 1288,303 1286.9,302.4C1285.8,301.9 1284.7,299.3 1285.2,298.3Z" fill="#f7ecd1" filter="url(#b1)"/>
<path d="M1265.5,185.2C1266.2,180.6 1270.4,174.7 1275.3,171.5C1280.2,168.2 1286.7,166.3 1294.8,165.6C1303,165 1316,167.1 1324.1,167.6C1332.3,168.1 1337.1,167.7 1343.7,168.6C1350.2,169.4 1356.7,171 1363.2,172.5C1369.7,173.9 1376.2,175.9 1382.7,177.3C1389.2,178.8 1399.6,178.6 1402.2,181.2C1404.9,183.9 1403.2,190 1398.3,193C1393.5,195.9 1379.5,196.2 1373,198.8C1366.4,201.4 1364.2,205.6 1359.3,208.6C1354.4,211.6 1349.5,215.4 1343.7,216.8C1337.8,218.2 1330.6,217.4 1324.1,216.8C1317.6,216.1 1311.1,214.5 1304.6,212.9C1298.1,211.3 1290.6,209.4 1285.1,207C1279.5,204.7 1274.6,202.5 1271.4,198.8C1268.1,195.2 1264.9,189.7 1265.5,185.2Z" fill="#b3dfda" filter="url(#b2)"/>
<path d="M1275.3,189.1C1275.3,185.2 1280.8,181.9 1285.1,179.3C1289.3,176.7 1294.8,174.7 1300.7,173.4C1306.5,172.1 1314.4,172.1 1320.2,171.5C1326.1,170.8 1330.6,169.9 1335.8,169.5C1341.1,169.2 1346.9,168.9 1351.5,169.5C1356,170.2 1359.9,171.8 1363.2,173.4C1366.4,175.1 1370.7,175.7 1371,179.3C1371.3,182.9 1366.8,190.7 1365.1,194.9C1363.5,199.2 1363.5,201.8 1361.2,204.7C1359,207.6 1355.4,210.3 1351.5,212.1C1347.6,213.9 1342.4,215.6 1337.8,215.6C1333.2,215.7 1329.7,213.7 1324.1,212.5C1318.6,211.3 1311.1,210.2 1304.6,208.6C1298.1,207 1289.9,206 1285.1,202.7C1280.2,199.5 1275.3,193 1275.3,189.1Z" fill="#95d2c6" filter="url(#b2)"/>
<path d="M1320.2,208.6C1320.9,209.1 1332.6,213.2 1337.8,213.5C1343,213.7 1347.8,212 1351.5,210.2C1355.1,208.3 1357.7,204.9 1359.7,202.3C1361.6,199.7 1363.3,196.7 1363.2,194.5C1363.1,192.3 1361.9,187 1359.3,189.1C1356.7,191.1 1351.8,203.1 1347.6,206.6C1343.3,210.2 1338.4,210.2 1333.9,210.5C1329.3,210.9 1319.6,208.1 1320.2,208.6Z" fill="#44a79c" filter="url(#b1)"/>
<path d="M1289,200.8C1289.3,198.8 1292.2,197.5 1294.8,194.9C1297.4,192.3 1300.7,187.8 1304.6,185.2C1308.5,182.6 1313.7,181.2 1318.3,179.3C1322.8,177.3 1327.1,174.7 1331.9,173.4C1336.8,172.1 1343,171.2 1347.6,171.5C1352.1,171.8 1355.4,174.1 1359.3,175.4C1363.2,176.7 1367.1,178.3 1371,179.3C1374.9,180.3 1378.2,180.8 1382.7,181.2C1387.3,181.7 1396.4,180.9 1398.3,182.2C1400.3,183.5 1397,187.4 1394.4,189.1C1391.8,190.7 1386.6,191 1382.7,192C1378.8,193 1374.6,193.1 1371,194.9C1367.4,196.7 1364.5,200.3 1361.2,202.7C1358,205.2 1355,208.1 1351.5,209.8C1347.9,211.5 1344.3,212.6 1339.8,212.9C1335.2,213.2 1329.3,212.4 1324.1,211.7C1318.9,211 1313.7,209.4 1308.5,208.6C1303.3,207.7 1296.1,207.9 1292.9,206.6C1289.6,205.3 1288.6,202.7 1289,200.8Z" fill="#8e9cba" filter="url(#b1)"/>
<path d="M1320.2,194.9C1321.2,190.7 1326.1,184.2 1330,181.2C1333.9,178.3 1339.8,177 1343.7,177.3C1347.6,177.7 1351.5,179.9 1353.4,183.2C1355.4,186.5 1356.4,192.8 1355.4,196.9C1354.4,201 1351.1,205.4 1347.6,207.8C1344,210.2 1337.8,211.5 1333.9,211.3C1330,211.1 1326.4,209.4 1324.1,206.6C1321.8,203.9 1319.2,199.2 1320.2,194.9Z" fill="#64799a" filter="url(#b2)"/>
<path d="M1330,193C1330.6,190 1333.6,186.9 1335.8,185.2C1338.1,183.4 1341.4,181.9 1343.7,182.2C1345.9,182.6 1348.4,184.7 1349.5,187.1C1350.7,189.6 1351.1,193.9 1350.5,196.9C1349.8,199.8 1347.7,202.8 1345.6,204.7C1343.5,206.6 1340.1,208.5 1337.8,208.2C1335.5,207.9 1333.2,205.3 1331.9,202.7C1330.6,200.2 1329.3,195.9 1330,193Z" fill="#3f5670" filter="url(#b2)"/>
<path d="M1295.8,179.3C1296.4,178.6 1299.2,178.5 1299.7,179.3C1300.2,180.1 1299.3,183.5 1298.7,184.2C1298.2,184.9 1296.9,184.4 1296.4,183.6C1295.9,182.8 1295.3,180 1295.8,179.3Z" fill="#ffffff" fill-opacity="0.7" filter="url(#b1)"/>
<path class="g" d="M1262.7,59.5 V373.6M1352.3,59.5 V373.6M1442,59.5 V373.6M1531.7,59.5 V373.6M1217.9,328.5 H1536.2M1217.9,283.6 H1536.2M1217.9,238.8 H1536.2M1217.9,194 H1536.2M1217.9,149.2 H1536.2M1217.9,104.3 H1536.2"/>
<path class="k" transform="translate(1168.7 0)" d="M47,276.9 49.6,277.4 51,279.2 50.1,282.3 51.4,281.9 51.9,278.3 54.1,276.9 57.3,276 60.4,275.6 63.1,274.2 64.9,271.5 65.8,273.3 68,272.9 70.7,271.5 74.3,271.1 78.3,269.8 80.6,267.5 84.2,265.3 86,263 88.7,261.7 89.5,259.4 92.2,258.1 92.7,255 94.5,252.7 96.7,249.6 98.5,246.9 101.2,245.1 101.2,242.4 103,239.7 100.8,238.8 97.6,237.5 99.9,235.7 102.5,234.8 102.1,232.1 99.4,230.8 101.7,229.9 98.5,226.7 96.7,223.6 94.5,220 91.3,217.7 90.4,216 93.1,213.7 95.4,211.9 97.6,209.7 100.8,208.3 104.8,207.4 105.7,205.6 102.1,205.2 98.5,204.3 95.4,204.3 93.1,206.1 90.4,206.5 89.1,204.7 87.3,202.5 84.2,200.7 83.3,198.5 85.1,197.6 89.1,197.6 91.3,195.8 93.6,194 96.7,192.2 98.5,190.4 102.1,190 103.9,191.7 101.7,194.9 99.9,197.6 99.4,199.4 102.1,198.5 105.2,196.7 108.8,195.3 112.9,194.4 114.7,195.8 117.8,196.7 117.3,199.8 115.5,202.5 118.7,203.9 121.4,204.3 123.6,204.7 124.5,207.4 122.3,209.2 123.6,211.9 123.2,214.2 122.3,216.4 122.3,218.6 124.1,219.5 126.8,218.2 129,217.3 131.7,216.9 134.4,216 136.2,213.7 136.2,211 136.2,207.4 134.8,204.7 132.6,202.1 129.9,199.4 127.7,197.1 127.7,194.9 130.8,194 134.4,191.7 137.5,190 137.5,187.3 140.2,184.1 142,183.7 143.3,181.9 146.9,179.2 149.2,179.6 151.9,181.4 155.9,181 160.4,178.7 163.5,176.1 167.1,172.5 170.2,168.9 173.8,164.9 177,161.3 180.6,156.8 184.6,153.6 185.9,149.2 186.4,144.7 189.1,141.1 190,138.8 189.1,135.7 185,134.8 182.8,131.2 177.9,129.9 173.8,131.7 171.6,133 169.3,131.2 169.3,128.5 162.6,127.6 166.7,125.8 172.5,122.3 177,118.7 182.8,115.5 185.9,113.3 190.4,111.1 194.9,108.8 201.6,107.5 208.3,107 215.1,107.5 221.8,107.5 224,105.7 230.8,106.6 234.3,108.8 237.5,108.4 242,107.9 247.8,107.9 251.4,107 249.1,104.8 258.1,99 264.4,96.7 271.1,96.3 274.2,98.5 275.1,101.2 280.1,98.5 285.9,96.7 288.1,94 294.9,92.7 289.5,96.7 286.8,99.8 282.3,102.1 280.1,104.3 275.6,106.6 272.5,108.8 268.9,112 264.4,114.2 259.9,115.5 259,118.7 255.4,122.3 253.6,126.7 253.6,131.2 255.4,135.7 256.8,140.2 258.6,144.7 262.1,142.4 265.7,138 267.1,135.7 272.5,134.8 273.3,131.2 277.8,128.5 281.4,125.8 282.3,122.3 286.8,121.4 287.7,117.8 285.9,114.2 288.1,112 290.4,108.8 294.9,105.2 301.1,105.2 301.6,102.5 309.2,102.1 319.5,104.3 320.4,102.1 327.1,99.8 333.9,97.2 340.6,95.4 349.6,93.1 358.5,94 360.8,91.8 358.5,89.5 356.3,86.4 351.8,84.2 356.3,83.7 360.8,81.9 368.4,80.1M266.6,58.6 272.5,60.8 276.9,61.3 280.1,63.1 286.8,61.3 295.8,61.3 304.7,60.8 310.6,59.5 315.9,63.5 320.4,59.9 322.7,58.6M342.8,59.1 349.6,60.8 358.5,62.6 365.3,64 368.8,64.9M47,284.1 51,283.2 53.7,285 51.9,289 49.2,290.8 47,291.7M98.5,260.8 101.2,259.9 102.5,261.2 102.1,264.4 100.8,268.4 98.5,272.9 97.6,275.1 95.4,272 94.5,268.9 96.3,264.8ZM121.8,224 123.6,222.9 125.2,223.4 123.6,224.5ZM139.8,222.7 142.9,221.3 146.5,222.7 147.4,225.4 145.6,229.9 144.7,232.5 142,234.3 139.8,233 140.2,229.4 141.5,227.2 139.8,226.3 137.5,226.7 137.1,224.5ZM149.6,223.1 151,220.9 155,219.5 159.5,220 159.9,221.8 157.7,224 154.6,223.1 152.3,226.3 150.1,225.4ZM142.9,220.9 145.1,219.1 148.7,216.4 151.4,214.2 154.6,214.2 159,213.7 162.6,213.3 165.8,213.7 165.8,210.6 168.9,208.3 169.3,206.1 171.6,205.2 170.2,207.9 172.5,208.3 176.1,206.5 178.3,203.9 181.4,201.6 182.8,198.5 183.7,194.9 183.2,191.7 185,189.5 187.7,188.6 189.5,187.7 190.4,191.3 192.2,194 192.7,196.7 190.9,200.3 188.2,201.6 187.7,203.9 188.2,207.4 186.8,209.7 186.4,211.9 187.3,213.3 185,215.5 183.2,216.9 182.8,214.6 181.9,215.1 180.1,215.5 179.2,217.7 178.3,216.4 176.1,217.7 173.4,217.7 170.2,218.2 169.8,219.5 167.1,221.3 164.9,223.1 162.2,221.8 161.7,219.5 162.6,218.2 159.5,217.7 156.3,219.1 152.3,219.5 148.7,220.9 146.9,220.9ZM184.1,187.3 185,183.7 182.8,182.3 185,179.2 189.5,179.2 191.3,174.7 191.8,170.2 192.7,169.3 196.7,172.9 200.7,175.2 205.2,176.5 207.4,174.7 208.8,179.2 206.1,180.5 201.6,181 198.5,184.1 198,185 192.7,182.8 188.2,182.8 185.5,183.7 189.1,185.9 186.4,186.4ZM192.7,129.9 196.2,129.9 197.1,133.5 198.5,138 198,142.4 200.7,147.8 203.9,152.7 197.1,152.7 195.3,158.1 197.1,162.6 199.4,164 198.9,166.2 195.8,164 193.1,167.1 192.2,164.4 192.7,160.4 193.6,155.9 192.7,151.4 193.1,146.9 191.8,142.4 191.3,138.8 192.2,134.4ZM208.3,177 211.9,173.8M214.6,173.8 219.6,171.1 223.1,169.3M226.7,168.4 230.3,166.2M251.8,148.7 255.4,146 254.5,148.3 251.8,148.7M289,111.1 292.6,107.9 291.3,110.6ZM171.1,126.7 175.6,126.3 173.8,128.1ZM128.5,256.3 131.2,253.2 129.9,255.4ZM96.7,290.4 99.4,289.9 102.5,291.3 104.3,295.8 103.9,300.2 101.2,302.5 101.7,307.9 104.3,310.5 107,309.7 108.8,311.4 112,315 112.4,316.8 108.8,315 105.7,312.8 101.7,311 98.1,311.9 96.7,309.2 98.5,307.9 96.7,307 94.9,306.5 93.6,302.5 95.4,301.1 95.8,294.9ZM95.4,313.2 99,312.8 100.8,316.4 99.4,318.6 97.6,317.3ZM81.5,335.7 84.6,332.1 88.2,328.5 90.9,324.9 92.7,322.2 91.3,326.7 87.8,331.6 83.7,334.8ZM103,320 107,321.3 107.9,323.1 105.7,326.2 103,326.2 103,323.1ZM107,324 109.7,324.9 108.8,328.9 107.5,332.5 105.2,330.3 105.7,326.7ZM109.3,330.7 111.1,327.1 112,323.1 110.6,327.6ZM111.1,329.4 114.2,328.5 114.2,330.3 112,330.3ZM113.8,322.2 116.4,322.7 117.3,327.1 115.5,328.5 115.1,324.4ZM113.3,317.3 117.8,317.3 119.6,323.1 116.4,323.1 116,320.4ZM108.4,317.3 112,318.6 110.2,320ZM102.5,342.4 103.4,338.3 107.5,335.2 111.1,337.4 113.8,334.8 116.4,333 118.2,329.4 119.1,333 122.3,336.1 123.2,340.6 121.8,345.1 118.2,348.2 119.6,342.8 118.2,341.5 117.3,346.4 112.9,345.1 112,340.6 109.3,339.7 106.6,339.7ZM47,364.8 50.5,365.7 53.7,366.6 55.5,362.6 62.2,359.9 66.7,354 69.8,351.8 73.4,349.1 76.1,346 79.2,341.9 81.5,343.7 83.7,346.4 86.4,347.3 90.4,350 86.4,353.1 83.3,354.5 84.2,357.6 82.4,360.8 85.1,363.4 89.1,368.8 84.6,369.7 82.8,373.3 82.4,376M92.7,375.6 93.1,371.5 95.4,369.3 98.5,367.5 105.2,368.8 111.5,369.3 114.7,367 117.3,366.1 114.7,371.1 108.8,372 102.1,371.1 97.2,371.1 94.5,374.7 94,376M127.2,375.6 128.1,369.7 129.4,365.2 129.9,363.4 132.6,366.6 129.9,368.8 133,371.1 130.8,372 129.4,375.6M118.2,58.2 116.4,59.9 111.1,64 107.9,68.9 108.8,73.8 113.8,79.2 120.5,83.7 130.3,86.8 136.6,89.1 138,92.7 133.9,96.7 125.4,99.4 113.8,101.2 100.3,102.1 97.6,103 92.2,102.5 85.5,105.5 77.4,103 70.7,101.2 64.4,103.4 59.5,107.5M136.6,89.1 147.8,88.2 156.3,89.1 163.1,91.3 165.3,93.6 163.5,98.1 161.3,101.6 159.5,102.5M88.7,88.2 101.7,86.8 112,85.5 120.5,83.7M245.6,69.8 255.4,68.9 260.8,66.7 265.7,64.9 276,65.3M216.4,58.2 217.3,61.7M140.2,163.5 150.1,159.5 159.9,156.3 168,151.4 170.2,146.9 177,143.3 183.7,138.8 187.3,135.3M47,268 50.5,268.4 55.5,268 60,269.8 64.4,271.5M68.5,236.1 72.5,238.8 77,240.2 80.6,236.6 84.2,233.4 87.8,229.9 91.8,228.5 96.3,229.9 99.4,230.8M148.3,172.9 151,170.2 150.5,173.4ZM81.5,154.5 83.7,152.7 83.3,154.5ZM87.3,224.5 89.1,223.1 88.7,224.9Z"/>
<path class="z" d="M1216,85.5C1217.2,85.2 1230.1,81.7 1232.5,81.1C1234.9,80.4 1246.8,77.3 1249,76.9C1251.1,76.6 1260.2,75.7 1262.1,75.8C1264.1,75.9 1273.4,78 1275.3,78.6C1277.3,79.2 1286.6,83.6 1288.5,84.4C1290.4,85.1 1300.1,87.9 1301.7,88.5C1303.3,89.1 1309,91.8 1309.9,92.6C1310.9,93.4 1314.3,98.4 1314.9,99.2C1315.5,100 1318.5,102.6 1318.2,103.3C1317.8,104 1311.1,108.2 1309.9,109.1C1308.8,110 1303,114.6 1302.5,115.7C1302,116.8 1302.9,122.9 1303.3,123.9C1303.8,124.9 1306.9,128.2 1308.3,128.9C1309.6,129.5 1319.5,132.4 1321.5,133C1323.4,133.6 1332.7,136.5 1334.6,137.1C1336.6,137.7 1346.2,140.7 1347.8,141.2C1349.4,141.7 1354.2,143.1 1356.1,143.6C1357.9,144.1 1370.1,147.3 1372.5,147.7C1374.9,148.1 1386.8,148.7 1389,148.5C1391.2,148.4 1400.6,146.5 1402.2,146.1C1403.8,145.6 1409.3,142.7 1410.4,141.9C1411.5,141.2 1415.6,136.3 1417,135.4C1418.5,134.6 1428,131 1430.2,130.5C1432.4,130 1444.3,129.3 1446.7,129.2C1449.1,129 1461,128.6 1463.2,128.5C1465.3,128.4 1474.5,127.9 1476.3,128C1478.2,128.2 1486.4,129.9 1487.9,130.5C1489.3,131.1 1495.3,135.3 1496.1,136.3C1497,137.2 1498.8,142.4 1499.4,143.6C1500,144.7 1503.7,150.5 1504.4,151.8C1505,153.2 1507.3,160.1 1507.6,161.7C1507.9,163.3 1508.7,171.6 1508.5,173.2C1508.2,174.9 1505.3,183.2 1504.4,184.8C1503.4,186.4 1497.4,193.5 1496.1,194.7C1494.8,195.8 1487.9,199.8 1486.2,200.4C1484.5,201 1475,202.8 1473,202.9C1471.1,203 1461.8,202.3 1459.9,202.1C1457.9,201.8 1448.6,199.9 1446.7,199.6C1444.7,199.3 1435.3,197.8 1433.5,197.6C1431.7,197.5 1423.7,197.8 1422,198C1420.3,198.2 1412.2,199.8 1410.4,200.4C1408.6,201 1399.1,205.3 1397.2,206.2C1395.4,207.1 1387.3,211.8 1385.7,212.8C1384.1,213.8 1376.9,218.7 1375.8,219.4C1374.7,220.1 1372,221.9 1370.9,222.6C1369.8,223.3 1362.7,228.2 1361,229.2C1359.3,230.1 1350,234.7 1347.8,235.8C1345.6,236.8 1333.8,242.3 1331.3,243.2C1328.9,244 1317.3,246.9 1314.9,247.3C1312.4,247.7 1300.6,248.8 1298.4,249C1296.2,249.1 1286.7,249.3 1285.2,249.8C1283.8,250.3 1279.7,254.7 1278.6,255.5C1277.5,256.4 1271.8,260.6 1270.4,261.3C1268.9,262 1260.4,264.9 1258.8,265.4C1257.3,266 1250.1,267.9 1249,268.7C1247.8,269.6 1243.8,275.6 1243.2,277C1242.6,278.3 1240.7,285.5 1240.7,286.9C1240.8,288.2 1243.3,294.1 1244,295.1C1244.7,296.1 1250,299.5 1250.6,300C1251.2,300.6 1251.6,302.4 1252.2,302.4C1252.9,302.5 1257.5,301.3 1258.8,300.8C1260.2,300.2 1268.7,296 1270.4,295.1C1272.1,294.2 1280.1,289.6 1281.9,288.5C1283.7,287.4 1293.2,281.2 1295.1,280.3C1297,279.3 1306.6,275.7 1308.3,275.3C1310,274.9 1316.5,274.8 1318.2,275C1319.9,275.2 1329.4,277.4 1331.3,277.8C1333.3,278.2 1342.7,280.1 1344.5,280.3C1346.3,280.4 1354.4,279.8 1356.1,279.4C1357.7,279.1 1365.8,276.1 1367.6,275.3C1369.4,274.5 1378.8,269.8 1380.8,268.7C1382.7,267.6 1392,261.8 1394,260.5C1395.9,259.2 1405.2,252.1 1407.1,250.6C1409.1,249.2 1418.4,242.2 1420.3,240.7C1422.3,239.3 1431.6,232.2 1433.5,230.8C1435.4,229.5 1444.9,223.5 1446.7,222.6C1448.5,221.7 1456.8,218.8 1458.2,218.5C1459.7,218.1 1465.1,217.8 1466.5,218C1467.8,218.2 1474.9,220.1 1476.3,220.9C1477.8,221.8 1484.9,227.9 1486.2,229.2C1487.6,230.5 1493.4,237.7 1494.5,239.1C1495.6,240.4 1500,246.3 1501.1,247.3C1502.1,248.3 1507.8,252.5 1509.3,253.1C1510.7,253.7 1518.7,255.3 1520.8,255.5C1523,255.8 1537.6,256.5 1539,256.5"/>
<path class="z" d="M1539,75.3 1529.1,82.7 1539,83"/>
<path class="p" d="M1270.4,263.8C1269.5,264.1 1260.3,267.4 1258.8,267.9C1257.4,268.4 1251.6,270.4 1250.6,271.2C1249.6,272 1246.1,277.5 1245.7,278.6C1245.2,279.8 1244,285.7 1244,286.9C1244.1,288 1245.9,293.4 1246.5,294.3C1247.1,295.1 1250.9,298.4 1252.2,298.4C1253.6,298.4 1263.5,295.1 1265.4,294.3C1267.4,293.5 1276.7,288.8 1278.6,287.7C1280.5,286.6 1290.8,280 1291.8,279.4"/>
<path class="p" d="M1216,71.2C1217.1,70.9 1230.3,67.5 1232.5,67.1C1234.7,66.6 1246.8,64.8 1249,64.6C1251.2,64.4 1263.2,64.2 1265.4,64.3C1267.6,64.3 1279.7,65.1 1281.9,65.4C1284.1,65.8 1296.2,68.8 1298.4,69.5C1300.6,70.2 1312.9,75.2 1314.9,76.1C1316.8,77 1326.5,81.8 1328,82.7C1329.6,83.6 1336.8,89.1 1337.9,90.1C1339,91.1 1343.9,96.5 1344.5,97.5C1345.2,98.6 1347.5,104.6 1347.8,105.8C1348.1,107 1348.9,114.5 1349.5,115.7C1350,116.9 1355.1,122.9 1356.1,123.9C1357,124.9 1363.2,129.7 1364.3,130.5C1365.4,131.3 1371.2,135.7 1372.5,136.3C1373.9,136.8 1382.5,138.7 1384.1,138.7C1385.6,138.7 1394.2,136.9 1395.6,136.3C1397,135.6 1404.4,129.8 1405.5,128.9C1406.6,127.9 1411.4,123.1 1412.1,122.3C1412.7,121.4 1415.5,116.7 1415.4,115.7C1415.3,114.7 1411.3,108.5 1410.4,107.4C1409.6,106.3 1403.4,100.2 1402.2,99.2C1401,98.2 1392.1,93.1 1392.3,92.6C1392.5,92.1 1403.5,91.3 1405.5,91.3C1407.5,91.3 1419.8,92.1 1422,92.3C1424.2,92.4 1436.2,93.3 1438.4,93.4C1440.6,93.6 1453.1,94.5 1454.9,94.6C1456.8,94.7 1464.9,94.7 1466.5,94.6C1468,94.5 1476.9,93.7 1478,92.9C1479.1,92.1 1481.9,84.1 1482.9,82.7C1483.9,81.4 1491.5,74 1492.8,72.8C1494.1,71.6 1501.4,65.6 1502.7,64.6C1504,63.6 1511.9,58.4 1512.6,58"/>
<path class="p" d="M1539,98C1537.6,98.3 1523.5,101.2 1520.8,101.7C1518.2,102.1 1503.8,103.1 1502.7,104.1C1501.6,105.2 1505.4,113.6 1506,115.7C1506.6,117.7 1510.5,130.2 1510.9,132.1C1511.4,134.1 1512.1,141 1512.6,142C1513.1,143.1 1516.9,145.7 1517.5,146.9C1518.1,148.1 1520.5,156.6 1520.8,158.4C1521.2,160.2 1522.5,169.7 1522.5,171.6C1522.5,173.5 1521.3,183.1 1520.8,184.8C1520.3,186.5 1516.7,193.3 1515.9,194.7C1515,196 1510,201.8 1509.3,202.9C1508.6,204 1506.1,208.4 1506,209.5C1505.9,210.6 1507.4,216.8 1507.6,217.7C1507.9,218.7 1508.6,221.6 1509.3,222.6C1510,223.6 1516.1,229.8 1517.5,230.8C1519,231.9 1527.5,236 1529.1,236.6C1530.6,237.2 1538.2,238.4 1539,238.6"/>
<path class="p" d="M1539,111.6C1538.2,111.9 1530,114.8 1529.1,115.7C1528.1,116.6 1526.1,122.7 1525.8,123.9C1525.4,125.1 1524.1,130.8 1524.1,132.1C1524.1,133.5 1525.4,140.8 1525.8,142C1526.1,143.2 1528.6,147.1 1529.1,148.5C1529.5,150 1531.3,159.8 1531.5,161.7C1531.8,163.6 1532.4,173 1532.4,174.9C1532.3,176.8 1531.1,186.3 1530.7,188.1C1530.4,189.9 1527.8,198 1527.4,199.6C1527.1,201.2 1525.7,208.2 1525.8,209.5C1525.9,210.8 1528.7,216.9 1529.1,217.7C1529.4,218.6 1530,220.5 1530.7,220.9C1531.4,221.4 1538.3,223.7 1539,223.9"/>
<path class="p" d="M1344.5,249C1344.6,247.7 1351.3,241.9 1352.8,240.7C1354.2,239.5 1362.5,233.7 1364.3,232.5C1366.1,231.3 1375.8,225.2 1377.5,224.2C1379.2,223.3 1386.2,219.9 1387.4,219.3C1388.6,218.7 1392.6,216.6 1394,216.1C1395.3,215.6 1403.7,213 1405.5,212.8C1407.3,212.6 1417.1,212.4 1418.7,212.8C1420.2,213.2 1426.2,217.5 1426.9,217.7C1427.6,218 1428.7,215.6 1428.6,216C1428.4,216.4 1426.1,221.5 1425.3,222.6C1424.4,223.7 1418.7,229.5 1417,230.8C1415.3,232.2 1404.4,239.4 1402.2,240.7C1400,242 1389.5,247.9 1387.4,249C1385.2,250 1374.5,254.1 1372.5,254.7C1370.6,255.3 1362.6,257 1361,257.2C1359.4,257.4 1352.3,257.8 1351.1,257.2C1349.9,256.6 1344.4,250.2 1344.5,249Z"/>
<path class="n" d="M1216,100.2C1218.3,100.3 1243.6,100.9 1247.2,101.1C1250.9,101.4 1263.9,102.3 1266,103.3C1268.1,104.3 1274.2,112.5 1275.4,114.2C1276.5,116 1280.2,125.1 1281.6,126.8C1283,128.4 1292.1,134.9 1294.1,136.1C1296.2,137.4 1307.2,142.8 1309.8,143.9C1312.3,145.1 1325.8,150.8 1328.5,151.8C1331.2,152.7 1344.5,155.9 1347.2,156.4C1350,157 1363.2,159.2 1366,159.6C1368.8,159.9 1382,161.5 1384.8,161.1C1387.5,160.8 1401,155.8 1403.5,154.9C1406,154 1416.4,149.4 1419.1,148.6C1421.9,147.9 1437.6,145.2 1441,144.9C1444.4,144.5 1462.8,143.8 1466,143.9C1469.2,144.1 1482.7,146 1484.8,147.1C1486.8,148.1 1493.3,156.3 1494.1,158C1494.9,159.7 1496.1,168.7 1495.7,170.5C1495.2,172.3 1490.1,181.9 1487.9,183C1485.7,184.1 1469.4,185.8 1466,186.1C1462.6,186.5 1444.4,187.3 1441,187.7C1437.6,188 1421.9,190.1 1419.1,190.8C1416.4,191.5 1405.6,196 1403.5,197.1C1401.4,198.1 1392.8,203.6 1391,204.9C1389.2,206.1 1380.9,213.3 1378.5,214.2C1376.1,215.2 1360.2,217.7 1357.7,218.5C1355.2,219.2 1346.7,223.5 1344.5,224.2C1342.3,225 1330.7,228.6 1328,229.2C1325.4,229.8 1311.9,232 1308.3,232.5C1304.6,233 1281.8,235.3 1278.6,235.8C1275.5,236.2 1267.4,238.1 1265.4,238.2C1263.5,238.4 1254.1,237.5 1252.2,237.4C1250.4,237.4 1242.4,237.3 1240.7,237.4C1239,237.5 1231,238.7 1229.2,239.1C1227.4,239.5 1217,242.4 1216,242.7"/>
<path class="n" d="M1216,201.1C1217.4,199.8 1232.5,185.6 1234.8,183C1237,180.4 1245.2,167.9 1247.2,165.8C1249.3,163.8 1260.4,156 1262.9,154.9C1265.4,153.8 1278.9,151.4 1281.6,151.1C1284.4,150.9 1297.6,151.4 1300.4,151.8C1303.1,152.1 1316.1,155.8 1319.1,156.4C1322.1,157.1 1337.8,160.4 1341,161.1C1344.2,161.8 1360.1,165.4 1362.9,165.8C1365.6,166.3 1376.4,167.4 1378.5,167.4C1380.6,167.4 1388.9,166.5 1391,165.8C1393.1,165.1 1403.9,159 1406.6,158C1409.4,157 1425.1,152.3 1428.5,151.8C1431.9,151.2 1450.1,150.2 1453.5,150.2C1456.9,150.2 1472.9,150.9 1475.4,151.8C1477.9,152.6 1487,159.5 1487.9,161.1C1488.8,162.7 1488.8,172.1 1487.9,173.6C1487,175.1 1477.9,180.8 1475.4,181.4C1472.9,182.1 1456.9,182.9 1453.5,183C1450.1,183.1 1431.7,182.8 1428.5,183C1425.3,183.2 1412.3,185.4 1409.8,186.1C1407.2,186.8 1396.2,191.2 1394.1,192.4C1392.1,193.5 1383.5,200.3 1381.6,201.8C1379.8,203.2 1371.8,211.3 1369.1,212.7C1366.4,214.1 1347.3,220.1 1344.5,220.9C1341.8,221.8 1333.5,223.8 1331.3,224.2C1329.2,224.7 1317.3,227.1 1314.9,227.5C1312.4,228 1300.8,229.7 1298.4,230C1296,230.3 1284,231.5 1281.9,231.7C1279.9,231.8 1271.8,232.5 1270.4,232.5C1268.9,232.4 1263.5,231.3 1262.1,230.8C1260.8,230.4 1253.8,227.1 1252.2,226.7C1250.7,226.3 1242.4,225.9 1240.7,225.9C1239,225.9 1231,226.5 1229.2,226.7C1227.4,226.9 1217,228.4 1216,228.5"/>
<path class="n" d="M1408.2,170.5C1408.4,169.3 1414.1,162 1416,161.1C1417.9,160.2 1431.5,158.3 1434.8,158C1438,157.7 1456.8,157.3 1459.8,157.4C1462.7,157.5 1474,158.8 1475.4,159.6C1476.8,160.3 1478.7,166.2 1478.5,167.4C1478.3,168.5 1474.1,174.5 1472.2,175.2C1470.4,175.9 1456.7,177.1 1453.5,177.4C1450.3,177.6 1431.5,178.3 1428.5,178.3C1425.5,178.3 1414.4,177.9 1412.9,177.4C1411.4,176.8 1408,171.7 1408.2,170.5Z"/>
<path class="n" d="M1253.5,195.5C1254,194.6 1258.4,184.8 1259.8,183C1261.1,181.2 1270.2,171.9 1272.2,170.5C1274.3,169.1 1285.4,164.8 1287.9,164.2C1290.4,163.7 1303.9,162.6 1306.6,162.7C1309.4,162.8 1322.6,165.4 1325.4,165.8C1328.1,166.3 1341.6,168.5 1344.1,168.9C1346.6,169.4 1357.7,171.5 1359.8,172.1C1361.8,172.6 1370.4,176.1 1372.2,176.8C1374.1,177.4 1382.9,181 1384.8,181.4C1386.6,181.9 1396.4,182.7 1397.2,183C1398.1,183.3 1396.7,184.6 1396.1,185.2C1395.6,185.7 1391,189.7 1389.9,190.4C1388.9,191 1382.8,193.8 1381.6,194.5C1380.4,195.2 1374.6,198.8 1373.3,199.7C1372.1,200.5 1366.4,205 1365.1,205.9C1363.8,206.8 1357.1,211.3 1355.8,212.1C1354.4,212.9 1347.9,216.1 1346.4,216.7C1345,217.4 1337.6,220.4 1336.1,220.9C1334.6,221.4 1327.2,223.1 1325.7,223.5C1324.2,223.8 1316.9,225.2 1315.4,225.5C1313.9,225.9 1306.5,227.3 1305,227.6C1303.5,227.9 1296.2,229.5 1294.7,229.7C1293.2,229.9 1285.8,230.7 1284.3,230.7C1282.8,230.8 1275.3,230.4 1274,230.2C1272.6,230.1 1266.9,228.9 1265.7,228.7C1264.5,228.4 1258.6,226.8 1257.4,226.6C1256.2,226.4 1250.5,225.6 1249.1,225.5C1247.8,225.5 1240.3,225.9 1238.8,226.1C1237.3,226.2 1230.1,227.4 1228.4,227.6C1226.8,227.8 1216.9,228.8 1216,228.9"/>
<path class="n" d="M1268.8,180C1269.8,179.2 1275.6,173.7 1277.1,172.8C1278.5,171.8 1286.5,167.7 1288.5,167.1C1290.4,166.4 1301.7,164.2 1304,164C1306.3,163.7 1317.2,163.3 1319.5,163.4C1321.8,163.6 1332.9,165.1 1335,165.5C1337.2,166 1346.8,169 1348.5,169.6C1350.3,170.3 1357.6,173.9 1358.9,174.8C1360.1,175.7 1365.3,181.2 1366.1,182.1C1366.9,182.9 1368.8,185.5 1369.2,186.2C1369.7,187 1372.2,191.7 1372.3,192.4C1372.4,193.1 1370.9,194.9 1370.2,195.5C1369.6,196.1 1365.1,199.9 1364,200.7C1363,201.5 1357,206.1 1355.8,206.9C1354.5,207.8 1347.9,211.4 1346.4,212.1C1345,212.8 1337.6,215.7 1336.1,216.2C1334.6,216.8 1327.2,219 1325.7,219.3C1324.2,219.7 1316.9,221.1 1315.4,221.4C1313.9,221.7 1306.5,223.2 1305,223.5C1303.5,223.8 1296.2,225.3 1294.7,225.5C1293.2,225.8 1285.8,226.6 1284.3,226.6C1282.8,226.6 1275.4,225.9 1274,225.5C1272.5,225.2 1265.9,223.1 1264.7,222.4C1263.4,221.8 1258.3,218.1 1257.4,217.3C1256.5,216.4 1252.8,212 1252.2,211.1C1251.7,210.1 1250.2,205.8 1250.2,204.8C1250.2,203.9 1251.7,198.7 1252.2,197.6C1252.8,196.5 1256.6,190.4 1257.4,189.3C1258.2,188.3 1262.8,183.8 1263.6,183.1C1264.5,182.4 1267.8,180.8 1268.8,180Z"/>
<path class="n" d="M1280.2,180C1281.4,179.3 1287.1,176.4 1288.5,175.9C1289.8,175.3 1296.9,173.1 1298.8,172.8C1300.7,172.4 1312.1,171.3 1314.3,171.2C1316.6,171.1 1327.8,171.5 1329.9,171.7C1331.9,172 1340.8,174.3 1342.3,174.8C1343.8,175.4 1349.7,178.4 1350.6,179C1351.5,179.5 1354.1,181.5 1354.7,182.1C1355.3,182.6 1358.4,185.5 1358.9,186.2C1359.3,187 1361,191.6 1360.9,192.4C1360.9,193.3 1358.6,196.8 1357.8,197.6C1357.1,198.4 1351.9,201.9 1350.6,202.8C1349.3,203.6 1341.7,208.2 1340.2,209C1338.7,209.7 1331.4,212.6 1329.9,213.1C1328.4,213.7 1321,215.9 1319.5,216.2C1318,216.6 1310.7,218.1 1309.2,218.3C1307.6,218.5 1300.3,219.1 1298.8,219.3C1297.3,219.6 1290,221.3 1288.5,221.4C1286.9,221.6 1279.5,221.6 1278.1,221.4C1276.7,221.2 1270.9,218.9 1269.8,218.3C1268.8,217.7 1264.3,214 1263.6,213.1C1262.9,212.2 1260.7,206.9 1260.5,205.9C1260.4,204.8 1261.2,199.7 1261.5,198.6C1261.9,197.6 1264.9,192.4 1265.7,191.4C1266.4,190.4 1270.8,186 1271.9,185.2C1273,184.3 1279,180.7 1280.2,180Z"/>
<path class="n" d="M1282.3,185.2C1283.4,184.5 1289.3,181.5 1290.5,181C1291.7,180.6 1297.7,179.5 1298.8,179.5C1300,179.5 1304.8,181 1306.1,181C1307.3,181.1 1313.9,180.6 1315.4,180.5C1316.8,180.4 1324.2,179.8 1325.7,179.8C1327.2,179.8 1334.7,179.8 1336.1,180C1337.4,180.2 1343.4,181.6 1344.4,182.1C1345.4,182.5 1349,185.5 1349.5,186.2C1350.1,186.9 1351.6,190.6 1351.6,191.4C1351.6,192.2 1350.1,196.8 1349.5,197.6C1349,198.4 1345.3,202.1 1344.4,202.8C1343.5,203.5 1338.3,206.4 1337.1,206.9C1336,207.4 1330.1,209.7 1328.8,210C1327.5,210.3 1321,211.1 1319.5,211.1C1318.1,211.1 1310.5,210.2 1309.2,210C1307.8,209.9 1301.9,209 1300.9,209C1299.8,209 1295.6,209.7 1294.7,210C1293.8,210.3 1289.4,212.7 1288.5,213.1C1287.6,213.5 1283.1,215.1 1282.3,215.2C1281.4,215.3 1277.8,214.5 1277.1,214.2C1276.3,213.8 1272.4,210.8 1271.9,210C1271.4,209.3 1269.9,204.8 1269.8,203.8C1269.8,202.8 1270.5,197.6 1270.9,196.6C1271.2,195.6 1274.2,191.2 1275,190.4C1275.8,189.5 1281.1,185.9 1282.3,185.2Z"/>
<path class="n" d="M1216,123.1 1221.8,127.2 1220.9,135.4 1216,140.4"/>
<path class="n" d="M1216,254.2C1216.7,253.8 1224.4,249.7 1225.9,249C1227.3,248.2 1234.3,244.6 1235.8,244C1237.2,243.4 1244,241.1 1245.7,240.7C1247.4,240.4 1257.9,239.2 1258.8,239.1"/>
</g>
<rect x="1217.9" y="59.5" width="318.3" height="314.1" fill="none" stroke="#9a9a9a" stroke-width="1"/>
<text class="L" transform="translate(1167.1 24.4) scale(1 1)">D</text>
<text class="t" x="1248.7" y="55.4">+1 days</text>
<text class="t" text-anchor="end" x="1214.5" y="378">0°</text>
<text class="t" text-anchor="end" x="1214.5" y="333.2">10°N</text>
<text class="t" text-anchor="end" x="1214.5" y="288.5">20°N</text>
<text class="t" text-anchor="end" x="1214.5" y="243.8">30°N</text>
<text class="t" text-anchor="end" x="1214.5" y="199">40°N</text>
<text class="t" text-anchor="end" x="1214.5" y="154.3">50°N</text>
<text class="t" text-anchor="end" x="1214.5" y="109.5">60°N</text>
<text class="t" text-anchor="end" x="1214.5" y="64.8">70°N</text>
<text class="t" text-anchor="middle" x="1263" y="390.2">120°E</text>
<text class="t" text-anchor="middle" x="1352.6" y="390.2">140°E</text>
<text class="t" text-anchor="middle" x="1442.3" y="390.2">160°E</text>
<text class="t" text-anchor="middle" x="1532" y="390.2">180°</text>
</g>
<g id="panel-E">
<rect x="1607.4" y="59.5" width="318.3" height="314.1" fill="#f3f4ef"/>
<g clip-path="url(#cp4)">
<path d="M1606,54.7 1926,54.7 1926,143.7 1606,143.7Z" fill="#edf4f5"/>
<path d="M1655.4,61.3C1665,59.1 1699.4,58.5 1721.3,59.6C1743.3,60.7 1779,64.3 1787.2,67.9C1795.5,71.5 1784.5,78.3 1770.8,81.1C1757,83.8 1722.7,85.7 1704.9,84.4C1687,83 1671.9,76.7 1663.7,72.8C1655.4,69 1645.8,63.5 1655.4,61.3Z" fill="#f8f4ea" filter="url(#b3)"/>
<path d="M1695,123.2C1697.7,116.9 1708.7,115.5 1721.3,114.9C1734,114.4 1758.4,117.4 1770.8,119.9C1783.1,122.4 1792.7,124.8 1795.5,129.8C1798.2,134.7 1796.9,145.4 1787.2,149.5C1777.6,153.7 1751.5,153.9 1737.8,154.5C1724.1,155 1712,158.1 1704.9,152.8C1697.7,147.6 1692.2,129.5 1695,123.2Z" fill="#f8f4ea" filter="url(#b3)"/>
<path d="M1795.5,61.3C1806.5,56.4 1831.4,58 1853.2,58C1874.9,58 1913.8,58.8 1926,61.3C1938.1,63.8 1932.6,70.1 1926,72.8C1919.3,75.6 1901,74.8 1886.1,77.8C1871.2,80.8 1850.4,87.7 1836.7,91C1822.9,94.2 1812,98.1 1803.7,97.5C1795.5,97 1788.6,93.7 1787.2,87.7C1785.9,81.6 1784.5,66.2 1795.5,61.3Z" fill="#f8f4ea" filter="url(#b3)"/>
<path d="M1622.5,149.5C1629.3,147.9 1657.4,148.7 1663.7,151.2C1670,153.7 1664.5,161.6 1660.4,164.4C1656.3,167.1 1645.3,168.2 1639,167.7C1632.6,167.1 1625.2,164.1 1622.5,161.1C1619.7,158.1 1615.6,151.2 1622.5,149.5Z" fill="#f8f4ea" filter="url(#b3)"/>
<path d="M1770.8,336.2C1776.3,332.3 1796.9,337 1803.7,341.1C1810.6,345.3 1813.3,355.7 1812,360.9C1810.6,366.1 1802.4,371.9 1795.5,372.4C1788.6,373 1774.9,370.2 1770.8,364.2C1766.7,358.2 1765.3,340 1770.8,336.2Z" fill="#f8f4ea" filter="url(#b3)"/>
<path d="M1853.2,328C1866.7,320.3 1913.8,303.8 1926,311.5C1938.1,319.2 1935.4,363.7 1926,374.1C1916.6,384.5 1883.1,376.8 1869.6,374.1C1856.1,371.3 1847.7,365.3 1844.9,357.6C1842.2,349.9 1839.6,335.6 1853.2,328Z" fill="#f8f4ea" filter="url(#b3)"/>
<path d="M1606,298.3C1608.7,292.3 1618.9,292.3 1622.5,295C1626,297.7 1628,309.3 1627.4,314.8C1626.9,320.3 1622.8,325.2 1619.2,328C1615.6,330.7 1608.2,336.2 1606,331.2C1603.8,326.3 1603.3,304.3 1606,298.3Z" fill="#f8f4ea" filter="url(#b3)"/>
<path d="M1606,112.4C1611.5,107.7 1626.6,108.5 1639,107.4C1651.3,106.3 1667.8,107.4 1680.1,105.8C1692.5,104.1 1700.7,100.3 1713.1,97.5C1725.5,94.8 1743.6,91.5 1754.3,89.3C1765,87.1 1774.6,83.8 1777.4,84.4C1780.1,84.9 1777.4,89.9 1770.8,92.6C1764.2,95.3 1746.1,97.5 1737.8,100.8C1729.6,104.1 1729.6,108 1721.3,112.4C1713.1,116.8 1699.4,123.4 1688.4,127.2C1677.4,131 1666.4,133.8 1655.4,135.4C1644.4,137.1 1630.7,137.1 1622.5,137.1C1614.2,137.1 1608.7,139.6 1606,135.4C1603.3,131.3 1600.5,117 1606,112.4Z" fill="#d1ebeb" filter="url(#b2)"/>
<path d="M1652.1,120.6C1653.8,118.6 1660.1,117.2 1665.3,117.3C1670.5,117.5 1682.3,119.2 1683.4,121.4C1684.5,123.6 1676.6,129.1 1671.9,130.5C1667.2,131.9 1658.7,131.3 1655.4,129.7C1652.1,128 1650.5,122.7 1652.1,120.6Z" fill="#b3dfda" filter="url(#b1)"/>
<path d="M1622.5,127.2C1623.6,126.8 1631.8,128.2 1632.4,128.9C1632.9,129.5 1627.4,131.6 1625.8,131.3C1624.1,131 1621.4,127.6 1622.5,127.2Z" fill="#95d2c6" filter="url(#b1)"/>
<path d="M1606,157.8C1609.3,153.9 1619.2,162.5 1625.8,164.4C1632.4,166.3 1637.9,169.3 1645.5,169.3C1653.2,169.3 1664.2,164.4 1671.9,164.4C1679.6,164.4 1686.2,166.8 1691.7,169.3C1697.2,171.8 1705.4,176.2 1704.9,179.2C1704.3,182.2 1695.3,186.9 1688.4,187.4C1681.5,188 1670.5,181.7 1663.7,182.5C1656.8,183.3 1654.1,190.5 1647.2,192.4C1640.3,194.3 1629.3,194.9 1622.5,194C1615.6,193.2 1608.7,193.5 1606,187.4C1603.3,181.4 1602.7,161.6 1606,157.8Z" fill="#d1ebeb" filter="url(#b2)"/>
<path d="M1708.2,172.6C1709.8,168.8 1723.5,166.8 1731.2,166C1738.9,165.2 1747.7,166.3 1754.3,167.7C1760.9,169 1766.4,172.1 1770.8,174.3C1775.2,176.5 1781.8,178.7 1780.7,180.9C1779.6,183 1771.3,185.5 1764.2,187.4C1757,189.4 1745,192.1 1737.8,192.4C1730.7,192.7 1726.3,192.4 1721.3,189.1C1716.4,185.8 1706.5,176.5 1708.2,172.6Z" fill="#d1ebeb" filter="url(#b2)"/>
<path d="M1731.2,179.2C1732.3,176.5 1743.9,174.8 1747.7,175.9C1751.5,177 1755.4,183 1754.3,185.8C1753.2,188.5 1745,193.5 1741.1,192.4C1737.3,191.3 1730.1,182 1731.2,179.2Z" fill="#b3dfda" filter="url(#b2)"/>
<path d="M1805.3,148.8C1808.6,144.6 1824.8,142.3 1834.6,139.1C1844.4,135.8 1854.1,130.6 1863.9,129.3C1873.7,128 1885,128.6 1893.2,131.2C1901.3,133.9 1908.2,139.4 1912.7,144.9C1917.3,150.5 1920.5,158.9 1920.5,164.5C1920.5,170 1917.3,175.8 1912.7,178.1C1908.2,180.4 1899.7,180.4 1893.2,178.1C1886.7,175.8 1880.2,166.4 1873.7,164.5C1867.1,162.5 1860.6,166.4 1854.1,166.4C1847.6,166.4 1841.1,164.8 1834.6,164.5C1828.1,164.1 1819.9,167.1 1815.1,164.5C1810.2,161.8 1802,153.1 1805.3,148.8Z" fill="#d1ebeb" filter="url(#b2)"/>
<path d="M1850.2,156.6C1851.2,154.5 1858.7,151.1 1863.9,149.8C1869.1,148.5 1875.9,149.3 1881.5,148.8C1887,148.3 1893.8,145.6 1897.1,146.9C1900.3,148.2 1903,154.4 1901,156.6C1899,158.9 1890.6,159.2 1885.4,160.5C1880.2,161.8 1874.3,164.1 1869.8,164.5C1865.2,164.8 1861.3,163.8 1858,162.5C1854.8,161.2 1849.2,158.8 1850.2,156.6Z" fill="#b3dfda" filter="url(#b2)"/>
<path d="M1897.1,135.2C1899,134.2 1912.1,138.4 1916.6,143C1921.2,147.5 1925.1,158.9 1924.4,162.5C1923.8,166.1 1916,166.7 1912.7,164.5C1909.5,162.2 1907.5,153.7 1904.9,148.8C1902.3,143.9 1895.1,136.1 1897.1,135.2Z" fill="#b3dfda" filter="url(#b2)"/>
<path d="M1884.5,79.4C1886.7,78 1895.7,77.2 1902.6,76.9C1909.5,76.7 1922.1,76.3 1926,77.8C1929.9,79.3 1929.9,84.4 1926,86C1922.1,87.7 1908.7,87.8 1902.6,87.7C1896.5,87.5 1892.4,86.6 1889.4,85.2C1886.4,83.8 1882.3,80.8 1884.5,79.4Z" fill="#d1ebeb" filter="url(#b1)"/>
<path d="M1602.7,249.4C1607.4,241.5 1620.6,242 1630.7,237.9C1640.9,233.8 1654.1,228.3 1663.7,224.7C1673.3,221.1 1678.8,217.6 1688.4,216.5C1698,215.4 1710.4,218.4 1721.3,218.1C1732.3,217.9 1743.3,217.3 1754.3,214.8C1765.3,212.4 1776.3,206.3 1787.2,203.3C1798.2,200.3 1806.5,198.1 1820.2,196.7C1833.9,195.3 1852,195.1 1869.6,195.1C1887.3,195.1 1916.6,190.4 1926,196.7C1935.4,203 1932.6,226.6 1926,233C1919.3,239.3 1898.3,235.4 1886.1,234.6C1874,233.8 1862.8,228.3 1853.2,228C1843.5,227.7 1839.4,229.4 1828.4,233C1817.5,236.5 1799.6,244.5 1787.2,249.4C1774.9,254.4 1765.3,259.6 1754.3,262.6C1743.3,265.6 1732.3,267 1721.3,267.6C1710.4,268.1 1696.6,264.8 1688.4,265.9C1680.1,267 1680.1,270.9 1671.9,274.1C1663.7,277.4 1650.5,283.8 1639,285.7C1627.4,287.6 1608.7,291.7 1602.7,285.7C1596.7,279.6 1598,257.4 1602.7,249.4Z" fill="#f7ecd1" filter="url(#b2)"/>
<path d="M1671.9,239.5C1673,237.5 1682.3,233 1688.4,231.3C1694.4,229.7 1701.3,229.4 1708.2,229.7C1715,229.9 1723.3,232.7 1729.6,233C1735.9,233.2 1739.2,233.5 1746.1,231.3C1752.9,229.1 1762.5,223.3 1770.8,219.8C1779,216.2 1787.2,212.4 1795.5,209.9C1803.7,207.4 1812.8,205.1 1820.2,204.9C1827.6,204.8 1837.5,206.5 1840,209.1C1842.4,211.7 1838.3,217.2 1835,220.6C1831.7,224 1826.8,226.6 1820.2,229.7C1813.6,232.7 1803.7,235.8 1795.5,238.7C1787.2,241.6 1779,244.8 1770.8,247C1762.5,249.2 1752.1,251.4 1746.1,251.9C1740,252.5 1738.6,251.6 1734.5,250.3C1730.4,248.9 1727.7,244.8 1721.3,243.7C1715,242.6 1703.2,243.7 1696.6,243.7C1690,243.7 1685.9,244.4 1681.8,243.7C1677.7,243 1670.8,241.6 1671.9,239.5Z" fill="#f2e2b5" filter="url(#b2)"/>
<path d="M1685.1,237.1C1686.7,235.8 1693.9,234.1 1698.3,233.8C1702.7,233.5 1710.4,234.3 1711.5,235.4C1712.6,236.5 1708.7,239.4 1704.9,240.4C1701,241.3 1691.7,241.7 1688.4,241.2C1685.1,240.6 1683.4,238.3 1685.1,237.1Z" fill="#ead08f" filter="url(#b1)"/>
<path d="M1741.1,237.9C1744.4,234.3 1756.2,230.5 1762.5,227.2C1768.8,223.9 1773.5,220.7 1779,218.1C1784.5,215.6 1789.7,213.6 1795.5,211.9C1801.3,210.1 1807.6,207.7 1813.6,207.4C1819.7,207.1 1829,208.1 1831.7,209.9C1834.5,211.7 1832.3,215.7 1830.1,218.1C1827.9,220.6 1823.5,222.9 1818.6,224.7C1813.6,226.5 1806.2,227.2 1800.4,228.8C1794.7,230.5 1789.4,232.5 1784,234.6C1778.5,236.7 1772.4,239.1 1767.5,241.2C1762.5,243.3 1758.4,245.7 1754.3,247C1750.2,248.2 1745,250.1 1742.8,248.6C1740.6,247.1 1737.8,241.5 1741.1,237.9Z" fill="#d9b16e" filter="url(#b2)"/>
<path d="M1734.5,243.2C1736.2,241.2 1741.4,238.1 1746.1,235.4C1750.7,232.8 1757,229.9 1762.5,227.2C1768,224.5 1773.5,221.4 1779,219.3C1784.5,217.1 1790,215.7 1795.5,214.3C1801,213 1806.6,211.6 1812,211C1817.3,210.5 1824.5,210 1827.6,210.9C1830.7,211.7 1831.7,214 1830.4,216.1C1829.2,218.3 1824.7,222 1820.2,223.9C1815.8,225.8 1809.2,226.2 1803.7,227.7C1798.2,229.1 1792.7,230.7 1787.2,232.6C1781.8,234.5 1776.3,237.1 1770.8,239.2C1765.3,241.4 1759.1,243.9 1754.3,245.5C1749.5,247.1 1745,248.4 1741.9,248.8C1738.9,249.1 1737.4,248.4 1736.2,247.5C1734.9,246.5 1732.9,245.2 1734.5,243.2Z" fill="#d6a183" fill-opacity="0.8" filter="url(#b1)"/>
<path d="M1785.6,216.8C1788.2,215.5 1798,213.2 1803.7,212.2C1809.5,211.1 1816.1,210.3 1820.2,210.5C1824.3,210.8 1828.4,212.1 1828.4,213.5C1828.4,214.9 1824.3,217.6 1820.2,218.8C1816.1,220 1809.1,220.5 1803.7,220.8C1798.4,221 1791.1,220.8 1788.1,220.1C1785.1,219.4 1783,218.1 1785.6,216.8Z" fill="#bd7a52" fill-opacity="0.9" filter="url(#b2)"/>
<path d="M1876.2,223.9C1876.8,222.8 1882.3,222.8 1882.8,223.9C1883.4,225 1880.6,230.5 1879.5,230.5C1878.4,230.5 1875.7,225 1876.2,223.9Z" fill="#e6a9c0" filter="url(#b1)"/>
<path d="M1836.7,204.9C1840.8,203 1861.4,201.4 1869.6,201.6C1877.9,201.9 1886.1,204.4 1886.1,206.6C1886.1,208.8 1876.5,213.7 1869.6,214.8C1862.8,215.9 1850.4,214.8 1844.9,213.2C1839.4,211.5 1832.6,206.9 1836.7,204.9Z" fill="#f2e2b5" filter="url(#b2)"/>
<path d="M1665.3,272.5C1666,271.3 1670.5,270 1671.9,270.9C1673.3,271.7 1674.2,276.2 1673.6,277.4C1672.9,278.7 1669.2,279.1 1667.8,278.3C1666.4,277.4 1664.6,273.7 1665.3,272.5Z" fill="#f2e2b5" filter="url(#b1)"/>
<path d="M1853.2,180.9C1855.9,178.1 1870.7,176.2 1877.9,175.9C1885,175.6 1894.6,177 1896,179.2C1897.4,181.4 1891.9,186.9 1886.1,189.1C1880.3,191.3 1866.9,193.8 1861.4,192.4C1855.9,191 1850.4,183.6 1853.2,180.9Z" fill="#f2e2b5" filter="url(#b2)"/>
<path d="M1711.5,139.7C1712.8,137.2 1718.6,135 1721.3,136.4C1724.1,137.7 1727.9,144.1 1727.9,147.9C1727.9,151.7 1725.2,156.7 1721.3,159.4C1717.5,162.2 1708.7,164.4 1704.9,164.4C1701,164.4 1696.9,161.6 1698.3,159.4C1699.6,157.2 1710.9,154.5 1713.1,151.2C1715.3,147.9 1710.1,142.1 1711.5,139.7Z" fill="#f7ecd1" filter="url(#b2)"/>
<path d="M1602.7,214.8C1607.4,210.6 1621.9,215.1 1630.7,215.7C1639.5,216.2 1650.2,216.1 1655.4,218.1C1660.6,220.2 1662,224.7 1662,228C1662,231.3 1660.6,236 1655.4,237.9C1650.2,239.8 1639.5,239 1630.7,239.5C1621.9,240.1 1607.4,245.3 1602.7,241.2C1598,237.1 1598,219.1 1602.7,214.8Z" fill="#d1ebeb" filter="url(#b2)"/>
<path d="M1615.9,220.6C1619.2,219.1 1632.4,218.8 1639,218.9C1645.5,219.1 1652,219.8 1655.4,221.4C1658.9,223.1 1660.6,226.6 1659.6,228.8C1658.5,231 1653.6,234.1 1648.8,234.6C1644,235.2 1635.7,233.2 1630.7,232.1C1625.8,231 1621.7,229.9 1619.2,228C1616.7,226.1 1612.6,222.1 1615.9,220.6Z" fill="#95d2c6" filter="url(#b2)"/>
<path d="M1624.1,223.1C1625.5,221.8 1634,221.3 1639,221.4C1643.9,221.6 1651,222.7 1653.8,223.9C1656.5,225.1 1657.1,227.6 1655.4,228.8C1653.8,230.1 1648,231.3 1643.9,231.3C1639.8,231.3 1634,230.2 1630.7,228.8C1627.4,227.5 1622.8,224.3 1624.1,223.1Z" fill="#44a79c" filter="url(#b1)"/>
<path d="M1643.9,223.1C1645,222.1 1652,222.9 1653.8,223.9C1655.6,224.9 1655.7,227.9 1654.6,228.8C1653.5,229.8 1649,230.6 1647.2,229.7C1645.4,228.7 1642.8,224 1643.9,223.1Z" fill="#5b7f95" filter="url(#b1)"/>
<path d="M1622.5,204.9C1623.4,204.4 1628.2,204.3 1629.1,204.9C1629.9,205.6 1628.4,208.5 1627.4,209.1C1626.5,209.6 1624.1,208.9 1623.3,208.2C1622.5,207.6 1621.5,205.5 1622.5,204.9Z" fill="#b3dfda" filter="url(#b1)"/>
<path d="M1723.2,183.2C1724.8,180.4 1736.9,178.6 1742.7,179.3C1748.6,179.9 1756.4,184.5 1758.3,187.1C1760.3,189.7 1758.7,193.5 1754.4,194.9C1750.2,196.4 1738.2,197.9 1733,195.9C1727.7,193.9 1721.6,186 1723.2,183.2Z" fill="#b3dfda" filter="url(#b2)"/>
<path d="M1678.3,196.9C1679.2,194.3 1686.1,193 1688,194.9C1690,196.9 1691,206 1690,208.6C1689,211.2 1684.1,212.5 1682.2,210.5C1680.2,208.6 1677.3,199.5 1678.3,196.9Z" fill="#b3dfda" filter="url(#b1)"/>
<path d="M1754.3,277.4C1757,273.6 1776.3,267.6 1787.2,262.6C1798.2,257.7 1810.6,251.6 1820.2,247.8C1829.8,243.9 1837.2,241.1 1844.9,239.5C1852.6,238 1859.5,237.3 1866.3,238.7C1873.2,240.1 1876.2,245.4 1886.1,247.8C1896.1,250.1 1919.3,247.8 1926,252.7C1932.6,257.7 1929.9,273 1926,277.4C1922.1,281.8 1909.2,280.2 1902.6,279.1C1895.9,278 1891.6,271.7 1886.1,270.9C1880.6,270 1875.1,275 1869.6,274.1C1864.1,273.3 1858.7,266.7 1853.2,265.9C1847.7,265.1 1842.2,267 1836.7,269.2C1831.2,271.4 1825.7,277.7 1820.2,279.1C1814.7,280.5 1809.2,276.9 1803.7,277.4C1798.2,278 1792.7,281 1787.2,282.4C1781.8,283.8 1776.3,286.5 1770.8,285.7C1765.3,284.9 1751.5,281.3 1754.3,277.4Z" fill="#d1ebeb" filter="url(#b2)"/>
<path d="M1803.7,255.2C1805.1,252.2 1813.3,249.3 1820.2,247.8C1827.1,246.3 1839.2,245.3 1844.9,246.1C1850.7,247 1856.2,250 1854.8,252.7C1853.4,255.5 1843.8,260.4 1836.7,262.6C1829.5,264.8 1817.5,267.1 1812,265.9C1806.5,264.7 1802.4,258.2 1803.7,255.2Z" fill="#b3dfda" filter="url(#b2)"/>
<path d="M1872.9,262.6C1874,261 1880.6,258.8 1882.8,259.3C1885,259.9 1887.2,264.3 1886.1,265.9C1885,267.6 1878.4,269.8 1876.2,269.2C1874,268.7 1871.8,264.3 1872.9,262.6Z" fill="#b3dfda" filter="url(#b1)"/>
<path d="M1909.2,262.6C1911.4,259.9 1923.2,254.6 1926,256C1928.8,257.4 1928.2,268.1 1926,270.9C1923.7,273.6 1915.3,273.9 1912.5,272.5C1909.7,271.1 1906.9,265.4 1909.2,262.6Z" fill="#b3dfda" filter="url(#b2)"/>
<path d="M1695,301.6C1697.7,298.8 1712.8,295.3 1721.3,295C1729.9,294.7 1737.8,297.7 1746.1,299.9C1754.3,302.1 1761.2,307.4 1770.8,308.2C1780.4,309 1792.7,304.3 1803.7,304.9C1814.7,305.4 1829.8,308.5 1836.7,311.5C1843.5,314.5 1847.7,320.3 1844.9,323C1842.2,325.8 1828.4,327.7 1820.2,328C1812,328.2 1803.7,324.7 1795.5,324.7C1787.2,324.7 1777.6,326 1770.8,328C1763.9,329.9 1759.8,333.2 1754.3,336.2C1748.8,339.2 1743.3,343.3 1737.8,346.1C1732.3,348.8 1727.4,351.3 1721.3,352.7C1715.3,354 1707.1,354.6 1701.6,354.3C1696.1,354 1688.9,353.8 1688.4,351C1687.8,348.3 1694.4,342.5 1698.3,337.8C1702.1,333.2 1710.4,327.4 1711.5,323C1712.6,318.6 1707.6,315 1704.9,311.5C1702.1,307.9 1692.2,304.3 1695,301.6Z" fill="#d1ebeb" filter="url(#b2)"/>
<path d="M1721.3,328C1725.7,325.5 1732.9,325.2 1737.8,326.3C1742.8,327.4 1751,331.5 1751,334.5C1751,337.6 1742.8,342 1737.8,344.4C1732.9,346.9 1726.8,348.3 1721.3,349.4C1715.8,350.5 1706.5,352.4 1704.9,351C1703.2,349.6 1708.7,345 1711.5,341.1C1714.2,337.3 1716.9,330.4 1721.3,328Z" fill="#b3dfda" filter="url(#b2)"/>
<path d="M1848.2,326.3C1849.9,324.4 1858.9,323.3 1861.4,324.7C1863.9,326 1864.7,332.6 1863,334.5C1861.4,336.5 1854,337.6 1851.5,336.2C1849,334.8 1846.6,328.2 1848.2,326.3Z" fill="#b3dfda" filter="url(#b1)"/>
<path d="M1797.1,339.5C1798.5,336.7 1813.9,337 1820.2,337.8C1826.5,338.7 1832.8,341.1 1835,344.4C1837.2,347.7 1836.4,353.8 1833.4,357.6C1830.4,361.5 1820.5,368 1816.9,367.5C1813.3,367 1815.3,359 1812,354.3C1808.7,349.6 1795.8,342.2 1797.1,339.5Z" fill="#d1ebeb" filter="url(#b2)"/>
<path d="M1853.2,298.3C1855.9,295.5 1874,295.3 1886.1,295C1898.3,294.7 1919.3,294.5 1926,296.6C1932.6,298.8 1929.9,305.2 1926,308.2C1922.1,311.2 1912,314.2 1902.6,314.8C1893.2,315.3 1877.9,314.2 1869.6,311.5C1861.4,308.7 1850.4,301 1853.2,298.3Z" fill="#d1ebeb" filter="url(#b2)"/>
<path d="M1902.6,328C1905.1,324.1 1922.1,321.9 1926,324.7C1929.9,327.4 1928.5,340.6 1926,344.4C1923.5,348.3 1914.7,350.5 1910.8,347.7C1906.9,345 1900.1,331.8 1902.6,328Z" fill="#d1ebeb" filter="url(#b2)"/>
<path d="M1741.1,295C1741.7,293.9 1748.5,293.9 1749.4,295C1750.2,296.1 1747.4,301.6 1746.1,301.6C1744.7,301.6 1740.6,296.1 1741.1,295Z" fill="#b3dfda" filter="url(#b1)"/>
<path d="M1606,331.2C1608.7,325.8 1617,329.1 1622.5,328C1628,326.9 1638.1,327.4 1639,324.7C1639.8,321.9 1626,314.8 1627.4,311.5C1628.8,308.2 1639.8,304.3 1647.2,304.9C1654.6,305.4 1665.6,310.9 1671.9,314.8C1678.2,318.6 1686.5,324.1 1685.1,328C1683.7,331.8 1671.4,335.1 1663.7,337.8C1656,340.6 1645.8,341.1 1639,344.4C1632.1,347.7 1628,354.9 1622.5,357.6C1617,360.4 1608.7,365.3 1606,360.9C1603.3,356.5 1603.3,336.7 1606,331.2Z" fill="#d1ebeb" filter="url(#b2)"/>
<path d="M1685.1,349.4C1688.4,346.6 1693.9,344.4 1698.3,344.4C1702.7,344.4 1710.4,346.6 1711.5,349.4C1712.6,352.1 1708.7,357.9 1704.9,360.9C1701,363.9 1692.8,367.5 1688.4,367.5C1684,367.5 1679,363.9 1678.5,360.9C1678,357.9 1681.8,352.1 1685.1,349.4Z" fill="#d1ebeb" filter="url(#b2)"/>
<path d="M1770.8,342.8C1773.5,340.3 1782.3,342 1787.2,344.4C1792.2,346.9 1800.4,354 1800.4,357.6C1800.4,361.2 1792.2,365.6 1787.2,365.9C1782.3,366.1 1773.5,363.1 1770.8,359.3C1768,355.4 1768,345.3 1770.8,342.8Z" fill="#f8f4ea" filter="url(#b2)"/>
<path d="M1777.4,326.3C1778.5,324.8 1785.3,324.2 1787.2,325.5C1789.2,326.7 1790,332.2 1788.9,333.7C1787.8,335.2 1782.6,335.8 1780.7,334.5C1778.7,333.3 1776.3,327.8 1777.4,326.3Z" fill="#f8f4ea" filter="url(#b1)"/>
<path d="M1886.1,342.8C1886.9,339.8 1888.3,339.8 1889.4,342.8C1890.5,345.8 1893,356.5 1892.7,360.9C1892.4,365.3 1889.1,369.1 1887.8,369.1C1886.4,369.1 1884.7,365.3 1884.5,360.9C1884.2,356.5 1885.3,345.8 1886.1,342.8Z" fill="#f2e2b5" filter="url(#b1)"/>
<path d="M1647.2,270.9C1652.7,268.4 1674.1,265.4 1680.1,265.9C1686.2,266.5 1686.2,271.4 1683.4,274.1C1680.7,276.9 1669.7,281.3 1663.7,282.4C1657.6,283.5 1649.9,282.7 1647.2,280.7C1644.4,278.8 1641.7,273.3 1647.2,270.9Z" fill="#f7ecd1" filter="url(#b1)"/>
<path class="g" d="M1652.2,59.5 V373.6M1741.9,59.5 V373.6M1831.6,59.5 V373.6M1921.2,59.5 V373.6M1607.4,328.5 H1925.7M1607.4,283.6 H1925.7M1607.4,238.8 H1925.7M1607.4,194 H1925.7M1607.4,149.2 H1925.7M1607.4,104.3 H1925.7"/>
<path class="k" transform="translate(1558.2 0)" d="M47,276.9 49.6,277.4 51,279.2 50.1,282.3 51.4,281.9 51.9,278.3 54.1,276.9 57.3,276 60.4,275.6 63.1,274.2 64.9,271.5 65.8,273.3 68,272.9 70.7,271.5 74.3,271.1 78.3,269.8 80.6,267.5 84.2,265.3 86,263 88.7,261.7 89.5,259.4 92.2,258.1 92.7,255 94.5,252.7 96.7,249.6 98.5,246.9 101.2,245.1 101.2,242.4 103,239.7 100.8,238.8 97.6,237.5 99.9,235.7 102.5,234.8 102.1,232.1 99.4,230.8 101.7,229.9 98.5,226.7 96.7,223.6 94.5,220 91.3,217.7 90.4,216 93.1,213.7 95.4,211.9 97.6,209.7 100.8,208.3 104.8,207.4 105.7,205.6 102.1,205.2 98.5,204.3 95.4,204.3 93.1,206.1 90.4,206.5 89.1,204.7 87.3,202.5 84.2,200.7 83.3,198.5 85.1,197.6 89.1,197.6 91.3,195.8 93.6,194 96.7,192.2 98.5,190.4 102.1,190 103.9,191.7 101.7,194.9 99.9,197.6 99.4,199.4 102.1,198.5 105.2,196.7 108.8,195.3 112.9,194.4 114.7,195.8 117.8,196.7 117.3,199.8 115.5,202.5 118.7,203.9 121.4,204.3 123.6,204.7 124.5,207.4 122.3,209.2 123.6,211.9 123.2,214.2 122.3,216.4 122.3,218.6 124.1,219.5 126.8,218.2 129,217.3 131.7,216.9 134.4,216 136.2,213.7 136.2,211 136.2,207.4 134.8,204.7 132.6,202.1 129.9,199.4 127.7,197.1 127.7,194.9 130.8,194 134.4,191.7 137.5,190 137.5,187.3 140.2,184.1 142,183.7 143.3,181.9 146.9,179.2 149.2,179.6 151.9,181.4 155.9,181 160.4,178.7 163.5,176.1 167.1,172.5 170.2,168.9 173.8,164.9 177,161.3 180.6,156.8 184.6,153.6 185.9,149.2 186.4,144.7 189.1,141.1 190,138.8 189.1,135.7 185,134.8 182.8,131.2 177.9,129.9 173.8,131.7 171.6,133 169.3,131.2 169.3,128.5 162.6,127.6 166.7,125.8 172.5,122.3 177,118.7 182.8,115.5 185.9,113.3 190.4,111.1 194.9,108.8 201.6,107.5 208.3,107 215.1,107.5 221.8,107.5 224,105.7 230.8,106.6 234.3,108.8 237.5,108.4 242,107.9 247.8,107.9 251.4,107 249.1,104.8 258.1,99 264.4,96.7 271.1,96.3 274.2,98.5 275.1,101.2 280.1,98.5 285.9,96.7 288.1,94 294.9,92.7 289.5,96.7 286.8,99.8 282.3,102.1 280.1,104.3 275.6,106.6 272.5,108.8 268.9,112 264.4,114.2 259.9,115.5 259,118.7 255.4,122.3 253.6,126.7 253.6,131.2 255.4,135.7 256.8,140.2 258.6,144.7 262.1,142.4 265.7,138 267.1,135.7 272.5,134.8 273.3,131.2 277.8,128.5 281.4,125.8 282.3,122.3 286.8,121.4 287.7,117.8 285.9,114.2 288.1,112 290.4,108.8 294.9,105.2 301.1,105.2 301.6,102.5 309.2,102.1 319.5,104.3 320.4,102.1 327.1,99.8 333.9,97.2 340.6,95.4 349.6,93.1 358.5,94 360.8,91.8 358.5,89.5 356.3,86.4 351.8,84.2 356.3,83.7 360.8,81.9 368.4,80.1M266.6,58.6 272.5,60.8 276.9,61.3 280.1,63.1 286.8,61.3 295.8,61.3 304.7,60.8 310.6,59.5 315.9,63.5 320.4,59.9 322.7,58.6M342.8,59.1 349.6,60.8 358.5,62.6 365.3,64 368.8,64.9M47,284.1 51,283.2 53.7,285 51.9,289 49.2,290.8 47,291.7M98.5,260.8 101.2,259.9 102.5,261.2 102.1,264.4 100.8,268.4 98.5,272.9 97.6,275.1 95.4,272 94.5,268.9 96.3,264.8ZM121.8,224 123.6,222.9 125.2,223.4 123.6,224.5ZM139.8,222.7 142.9,221.3 146.5,222.7 147.4,225.4 145.6,229.9 144.7,232.5 142,234.3 139.8,233 140.2,229.4 141.5,227.2 139.8,226.3 137.5,226.7 137.1,224.5ZM149.6,223.1 151,220.9 155,219.5 159.5,220 159.9,221.8 157.7,224 154.6,223.1 152.3,226.3 150.1,225.4ZM142.9,220.9 145.1,219.1 148.7,216.4 151.4,214.2 154.6,214.2 159,213.7 162.6,213.3 165.8,213.7 165.8,210.6 168.9,208.3 169.3,206.1 171.6,205.2 170.2,207.9 172.5,208.3 176.1,206.5 178.3,203.9 181.4,201.6 182.8,198.5 183.7,194.9 183.2,191.7 185,189.5 187.7,188.6 189.5,187.7 190.4,191.3 192.2,194 192.7,196.7 190.9,200.3 188.2,201.6 187.7,203.9 188.2,207.4 186.8,209.7 186.4,211.9 187.3,213.3 185,215.5 183.2,216.9 182.8,214.6 181.9,215.1 180.1,215.5 179.2,217.7 178.3,216.4 176.1,217.7 173.4,217.7 170.2,218.2 169.8,219.5 167.1,221.3 164.9,223.1 162.2,221.8 161.7,219.5 162.6,218.2 159.5,217.7 156.3,219.1 152.3,219.5 148.7,220.9 146.9,220.9ZM184.1,187.3 185,183.7 182.8,182.3 185,179.2 189.5,179.2 191.3,174.7 191.8,170.2 192.7,169.3 196.7,172.9 200.7,175.2 205.2,176.5 207.4,174.7 208.8,179.2 206.1,180.5 201.6,181 198.5,184.1 198,185 192.7,182.8 188.2,182.8 185.5,183.7 189.1,185.9 186.4,186.4ZM192.7,129.9 196.2,129.9 197.1,133.5 198.5,138 198,142.4 200.7,147.8 203.9,152.7 197.1,152.7 195.3,158.1 197.1,162.6 199.4,164 198.9,166.2 195.8,164 193.1,167.1 192.2,164.4 192.7,160.4 193.6,155.9 192.7,151.4 193.1,146.9 191.8,142.4 191.3,138.8 192.2,134.4ZM208.3,177 211.9,173.8M214.6,173.8 219.6,171.1 223.1,169.3M226.7,168.4 230.3,166.2M251.8,148.7 255.4,146 254.5,148.3 251.8,148.7M289,111.1 292.6,107.9 291.3,110.6ZM171.1,126.7 175.6,126.3 173.8,128.1ZM128.5,256.3 131.2,253.2 129.9,255.4ZM96.7,290.4 99.4,289.9 102.5,291.3 104.3,295.8 103.9,300.2 101.2,302.5 101.7,307.9 104.3,310.5 107,309.7 108.8,311.4 112,315 112.4,316.8 108.8,315 105.7,312.8 101.7,311 98.1,311.9 96.7,309.2 98.5,307.9 96.7,307 94.9,306.5 93.6,302.5 95.4,301.1 95.8,294.9ZM95.4,313.2 99,312.8 100.8,316.4 99.4,318.6 97.6,317.3ZM81.5,335.7 84.6,332.1 88.2,328.5 90.9,324.9 92.7,322.2 91.3,326.7 87.8,331.6 83.7,334.8ZM103,320 107,321.3 107.9,323.1 105.7,326.2 103,326.2 103,323.1ZM107,324 109.7,324.9 108.8,328.9 107.5,332.5 105.2,330.3 105.7,326.7ZM109.3,330.7 111.1,327.1 112,323.1 110.6,327.6ZM111.1,329.4 114.2,328.5 114.2,330.3 112,330.3ZM113.8,322.2 116.4,322.7 117.3,327.1 115.5,328.5 115.1,324.4ZM113.3,317.3 117.8,317.3 119.6,323.1 116.4,323.1 116,320.4ZM108.4,317.3 112,318.6 110.2,320ZM102.5,342.4 103.4,338.3 107.5,335.2 111.1,337.4 113.8,334.8 116.4,333 118.2,329.4 119.1,333 122.3,336.1 123.2,340.6 121.8,345.1 118.2,348.2 119.6,342.8 118.2,341.5 117.3,346.4 112.9,345.1 112,340.6 109.3,339.7 106.6,339.7ZM47,364.8 50.5,365.7 53.7,366.6 55.5,362.6 62.2,359.9 66.7,354 69.8,351.8 73.4,349.1 76.1,346 79.2,341.9 81.5,343.7 83.7,346.4 86.4,347.3 90.4,350 86.4,353.1 83.3,354.5 84.2,357.6 82.4,360.8 85.1,363.4 89.1,368.8 84.6,369.7 82.8,373.3 82.4,376M92.7,375.6 93.1,371.5 95.4,369.3 98.5,367.5 105.2,368.8 111.5,369.3 114.7,367 117.3,366.1 114.7,371.1 108.8,372 102.1,371.1 97.2,371.1 94.5,374.7 94,376M127.2,375.6 128.1,369.7 129.4,365.2 129.9,363.4 132.6,366.6 129.9,368.8 133,371.1 130.8,372 129.4,375.6M118.2,58.2 116.4,59.9 111.1,64 107.9,68.9 108.8,73.8 113.8,79.2 120.5,83.7 130.3,86.8 136.6,89.1 138,92.7 133.9,96.7 125.4,99.4 113.8,101.2 100.3,102.1 97.6,103 92.2,102.5 85.5,105.5 77.4,103 70.7,101.2 64.4,103.4 59.5,107.5M136.6,89.1 147.8,88.2 156.3,89.1 163.1,91.3 165.3,93.6 163.5,98.1 161.3,101.6 159.5,102.5M88.7,88.2 101.7,86.8 112,85.5 120.5,83.7M245.6,69.8 255.4,68.9 260.8,66.7 265.7,64.9 276,65.3M216.4,58.2 217.3,61.7M140.2,163.5 150.1,159.5 159.9,156.3 168,151.4 170.2,146.9 177,143.3 183.7,138.8 187.3,135.3M47,268 50.5,268.4 55.5,268 60,269.8 64.4,271.5M68.5,236.1 72.5,238.8 77,240.2 80.6,236.6 84.2,233.4 87.8,229.9 91.8,228.5 96.3,229.9 99.4,230.8M148.3,172.9 151,170.2 150.5,173.4ZM81.5,154.5 83.7,152.7 83.3,154.5ZM87.3,224.5 89.1,223.1 88.7,224.9Z"/>
<path class="z" d="M1606,96.9C1607,96.8 1617,95.6 1619.2,95.1C1621.4,94.6 1633.2,90.9 1635.7,90.1C1638.1,89.4 1650.1,85.7 1652.1,85.2C1654.2,84.7 1661.6,83.5 1663.7,83.5C1665.7,83.6 1677.7,85.6 1680.1,86C1682.6,86.4 1694.6,88.1 1696.6,88.5C1698.7,88.8 1706.7,90.4 1708.2,91C1709.6,91.6 1715.4,95.8 1716.4,96.7C1717.4,97.7 1721.1,103.2 1721.3,104.1C1721.6,105 1720.4,108.2 1719.7,109.1C1719,109.9 1712.8,114.8 1711.5,115.7C1710.1,116.5 1702.7,120 1701.6,120.6C1700.4,121.2 1696.3,123.2 1695.8,123.9C1695.3,124.6 1694.3,130.1 1694.2,130.5C1694,130.9 1693.1,128.9 1693.3,129.8C1693.5,130.7 1696.1,141.5 1696.6,143C1697.1,144.4 1698.8,148.9 1699.9,149.5C1701,150.2 1709.4,151.7 1711.5,152C1713.5,152.3 1725.4,153.6 1727.9,153.7C1730.5,153.7 1743.5,153.3 1746.1,153.2C1748.6,153.1 1760.2,152.6 1762.5,152.5C1764.8,152.4 1775.6,152.3 1777.4,152C1779.2,151.7 1786,149.4 1787.2,148.7C1788.5,148 1793.1,143.2 1793.8,142.1C1794.6,141.1 1797.4,135.8 1798,134.7C1798.6,133.6 1801.2,128.1 1802.1,127.3C1803,126.5 1809,123.5 1810.3,123.2C1811.6,122.8 1818.3,122.4 1820.2,122.4C1822.1,122.4 1834.7,123.2 1836.7,123.2C1838.6,123.1 1844.8,122 1846.6,121.5C1848.4,121.1 1859.2,117.3 1861.4,116.6C1863.6,115.8 1874.5,111.9 1876.2,111.3C1878,110.7 1883.7,108.8 1885.4,108.8C1887,108.7 1897.2,110 1899,110.7C1900.9,111.5 1909.5,118 1910.8,119.5C1912.1,121 1915.8,129.5 1916.6,131.2C1917.5,133 1921.5,141.5 1922.5,143C1923.5,144.4 1929.7,150.6 1930.3,151.2"/>
<path class="z" d="M1929,77.4C1928.2,77.3 1921,76.3 1919.1,76.1C1917.1,76 1904.8,75.2 1902.6,75.3C1900.4,75.4 1890.8,77.3 1889.4,77.8C1888,78.3 1883,81.3 1883.1,81.9C1883.3,82.5 1889.6,85.8 1891.1,86.3C1892.5,86.8 1900.8,88.6 1902.6,88.6C1904.4,88.7 1913.8,87.9 1915.8,87.7C1917.7,87.4 1928,85.4 1929,85.2"/>
<path class="z" d="M1929,197.6C1928.2,197.8 1920.4,199.3 1919.1,199.6C1917.7,199.9 1913.2,201.1 1910.8,201.3C1908.4,201.4 1888.6,201.6 1886.1,201.3C1883.6,200.9 1877.9,197 1876.2,196.3C1874.5,195.6 1865,191.7 1863,191.4C1861.1,191 1851.8,191.2 1849.9,191.4C1847.9,191.6 1838.6,193.2 1836.7,193.8C1834.7,194.5 1825.2,199.3 1823.5,200C1821.8,200.7 1815.5,202.6 1813.6,203.3C1811.7,204 1799.6,208.2 1797.1,209.1C1794.7,210 1783.1,214.7 1780.7,215.7C1778.2,216.6 1766.4,221.3 1764.2,222.2C1762,223.2 1752.9,227.3 1751,228C1749.1,228.7 1740,231.4 1737.8,231.6C1735.6,231.9 1723.8,231.6 1721.3,231.3C1718.9,231 1706.9,228.5 1704.9,228C1702.8,227.5 1695,224.8 1693.3,224.7C1691.6,224.6 1683.4,225.8 1681.8,226.4C1680.2,227 1673.4,231.9 1671.9,233C1670.5,234 1663.5,240.4 1662,241.2C1660.6,242 1653.8,243.3 1652.1,243.7C1650.4,244 1640.8,245.4 1639,246.1C1637.1,246.9 1629.1,252.9 1627.4,254.4C1625.7,255.8 1617.2,264.6 1615.9,265.9C1614.6,267.2 1609.7,271.3 1609.3,272.5C1608.9,273.7 1609.5,280.7 1610.1,282.4C1610.7,284 1616,293.5 1617.5,295C1619,296.5 1629,302.4 1630.7,303.2C1632.4,304.1 1639,306.6 1640.6,306.5C1642.2,306.5 1649.8,303 1652.1,302.4C1654.4,301.9 1669.9,299.7 1671.9,299.1C1674,298.6 1676.3,296.1 1680.1,295C1684,293.9 1720.4,285.1 1724.6,284C1728.9,283 1735.6,281.4 1737.8,280.7C1740,280.1 1751.9,275.9 1754.3,275C1756.7,274 1768.4,268.7 1770.8,267.6C1773.2,266.4 1784.8,260.5 1787.2,259.3C1789.7,258.1 1801.3,252.2 1803.7,251.1C1806.1,249.9 1817.8,244.7 1820.2,243.7C1822.6,242.6 1834.3,237.8 1836.7,237.1C1839.1,236.3 1851.1,234.1 1853.2,233.8C1855.2,233.5 1863,232.7 1864.7,233C1866.4,233.2 1874.7,236.3 1876.2,237.1C1877.8,237.8 1884.2,242.4 1886.1,243.2C1888,243.9 1899.4,246.5 1902.6,247C1905.7,247.4 1927,249.6 1929,249.8"/>
<path class="p" d="M1606,73.2 1616.7,69.9 1623.3,58"/>
<path class="p" d="M1606,86.8C1607.2,86.5 1620.1,83.5 1622.5,82.7C1624.9,81.9 1636.5,77.1 1639,76.1C1641.4,75.2 1653.4,70.2 1655.4,69.5C1657.5,68.9 1665.3,67.6 1667,67.6C1668.7,67.5 1676.7,68.3 1678.5,68.7C1680.3,69.1 1689.7,72.1 1691.7,72.8C1693.6,73.6 1702.7,77.4 1704.9,78.6C1707,79.7 1719.2,87 1721.3,88.5C1723.5,90 1732.7,97.9 1734.5,99.2C1736.3,100.5 1744.4,105.8 1746.1,106.6C1747.7,107.5 1755.8,110.3 1757.6,110.7C1759.4,111.1 1768.6,112.2 1770.8,112C1772.9,111.9 1784.8,109.7 1787.2,109.1C1789.7,108.5 1801.3,105.2 1803.7,104.1C1806.1,103.1 1817.8,96.6 1820.2,95.1C1822.6,93.5 1834.3,84.3 1836.7,82.7C1839.1,81.1 1850.7,74 1853.2,72.8C1855.6,71.6 1867.2,67.1 1869.6,66.2C1872.1,65.4 1884.1,61.9 1886.1,61.3C1888.2,60.7 1896.8,58.2 1897.6,58"/>
<path class="p" d="M1675.2,260.1C1675.3,259.6 1678.9,255.3 1680.1,254.4C1681.4,253.4 1689.9,247.7 1691.7,247C1693.5,246.2 1702.7,244 1704.9,243.7C1707,243.3 1718.9,242.7 1721.3,242.5C1723.8,242.3 1735.4,241.7 1737.8,241.2C1740.2,240.7 1751.9,236.4 1754.3,235.4C1756.7,234.5 1768.4,229 1770.8,228C1773.2,227 1784.8,222.3 1787.2,221.4C1789.7,220.6 1801.3,216.9 1803.7,216.5C1806.1,216 1818,215.2 1820.2,215.2C1822.4,215.1 1832.8,214.8 1833.4,215.7C1834,216.5 1829.7,225.1 1828.4,226.4C1827.2,227.6 1818.7,232 1816.9,233C1815.1,233.9 1805.9,238.5 1803.7,239.5C1801.6,240.6 1789.7,246.6 1787.2,247.8C1784.8,248.9 1773.2,254.2 1770.8,255.2C1768.4,256.2 1756.7,260.3 1754.3,261C1751.9,261.7 1740.2,264.3 1737.8,264.6C1735.4,264.9 1723.8,265.6 1721.3,265.6C1718.9,265.6 1707.3,264.7 1704.9,264.6C1702.4,264.4 1690.3,263.6 1688.4,263.4C1686.5,263.3 1679.5,262.5 1678.5,262.3C1677.5,262 1675.1,260.7 1675.2,260.1Z"/>
<path class="p" d="M1742.8,239.5C1743.6,239.1 1752.2,234.7 1754.3,233.8C1756.3,232.8 1768.4,227.4 1770.8,226.4C1773.2,225.3 1784.8,220.6 1787.2,219.8C1789.7,219 1801.4,216 1803.7,215.7C1806,215.3 1817.5,214.9 1818.6,214.8"/>
<path class="p" d="M1929,200 1919.1,204.9 1912.5,211.5 1909.2,216.5 1914.1,224.7 1920.7,230.5 1929,232.6"/>
<path class="n" d="M1606,108.3C1607.2,108.4 1620.3,109.6 1622.5,109.9C1624.7,110.2 1634.1,111.9 1635.7,112.4C1637.2,112.9 1643.1,115.6 1643.9,116.5C1644.7,117.3 1646.4,122.9 1646.4,123.9C1646.4,124.9 1644.7,129.4 1643.9,130.5C1643.1,131.6 1636.1,138.1 1635.7,138.7C1635.2,139.4 1637.8,139.2 1637.3,139.7C1636.8,140.1 1630.6,144.7 1629.1,145.4C1627.5,146.2 1617.6,149 1615.9,149.5C1614.2,150 1606.7,152 1606,152.2"/>
<path class="n" d="M1847.3,160.2C1847.6,159.3 1856.4,152.7 1858,151.8C1859.7,150.9 1868,148.1 1869.8,147.9C1871.5,147.6 1880.3,147.7 1881.5,148.4C1882.6,149.2 1885.7,156.6 1885.4,157.6C1885.1,158.6 1879.1,162 1877.6,162.5C1876,163 1865.6,164.4 1863.9,164.5C1862.2,164.5 1855.3,163.8 1854.1,163.5C1852.9,163.2 1847,161 1847.3,160.2Z"/>
<path class="n" d="M1660.7,195.3C1661,195.1 1663.7,193.7 1664.6,193C1665.5,192.2 1671,186.2 1672.4,185.2C1673.8,184.2 1682.3,180 1684.1,179.3C1686,178.6 1695.6,175.9 1697.8,175.4C1699.9,174.9 1710.8,172.9 1713.4,172.5C1716,172 1730.1,169.7 1733,169.5C1735.8,169.3 1749.6,169.3 1752.5,169.5C1755.3,169.7 1769.2,172.3 1772,172.5C1774.9,172.6 1789.1,171.8 1791.5,171.5C1794,171.2 1806,168.4 1806,168.6C1806,168.7 1791.7,173.3 1791.6,173.2C1791.6,173.2 1803.6,169.4 1805.3,168.4C1807,167.3 1813.3,160 1815.1,158.6C1816.8,157.2 1826.6,150.1 1828.7,148.8C1830.9,147.5 1842.1,141.9 1844.4,141C1846.7,140.1 1857.7,136.6 1860,136.1C1862.3,135.7 1873.5,134.6 1875.6,134.8C1877.8,134.9 1887.6,137.3 1889.3,138.1C1891,138.9 1897.8,144.5 1899,145.9C1900.3,147.3 1905.6,155.1 1905.9,156.6C1906.2,158.1 1903.9,165.3 1903,166.4C1902,167.6 1895.3,171.8 1893.2,172.3C1891,172.8 1876.5,173.1 1873.7,173.2C1870.8,173.4 1857,173.8 1854.1,173.8C1851.3,173.8 1837,173.1 1834.6,173.2C1832.2,173.3 1822.6,174.6 1820.9,175.2C1819.2,175.8 1812.7,180.8 1811.2,182C1809.6,183.2 1801.2,190.7 1799.4,191.8C1797.7,192.8 1789.4,195.5 1787.2,196.3C1785.1,197.1 1773.2,201.9 1770.8,202.9C1768.4,203.9 1756.7,208.7 1754.3,209.5C1751.9,210.3 1740.2,213.2 1737.8,213.6C1735.4,214 1723.8,215.3 1721.3,215.3C1718.9,215.3 1706.8,213.8 1704.9,213.6C1702.9,213.4 1696.4,212.8 1695,212.8C1693.5,212.8 1686.5,213.3 1685.1,213.6C1683.6,214 1676.4,217.2 1675.2,217.7C1674,218.3 1669.5,220.4 1668.6,221C1667.8,221.6 1664.6,225.2 1663.7,225.9C1662.7,226.6 1657.2,230 1655.4,230.8C1653.6,231.7 1641.4,236.5 1639,237.4C1636.5,238.4 1624.9,242.9 1622.5,244C1620.1,245.1 1607.2,252.3 1606,252.9"/>
<path class="n" d="M1606,165.2C1606.7,166.1 1614.3,176.1 1615.9,177.6C1617.5,179 1625.7,184.4 1627.4,185C1629.1,185.6 1637.4,186.2 1639,185.8C1640.5,185.4 1647.3,180.4 1648.8,179.2C1650.4,178 1658.7,170.5 1660.4,169.3C1662.1,168.1 1669.9,163.3 1671.9,162.7C1674,162.1 1685.4,161.4 1688.4,161.4C1691.4,161.4 1709.5,162.5 1713.1,162.7C1716.7,162.9 1734.2,164 1737.8,164C1741.4,164.1 1759.7,163.5 1762.5,163.6C1765.3,163.6 1773.7,164.6 1775.9,164.4C1778,164.2 1789.5,161.4 1791.6,160.5C1793.8,159.7 1803.3,154.1 1805.3,152.7C1807.3,151.4 1816.8,143.3 1819,142C1821.1,140.7 1832,136.2 1834.6,135.2C1837.2,134.1 1851.3,128.2 1854.1,127.3C1857,126.5 1871.1,123.3 1873.7,123C1876.2,122.8 1887.1,123.8 1889.3,124.4C1891.4,125 1901.2,130 1903,131.2C1904.7,132.5 1911.5,139.4 1912.7,141C1913.9,142.6 1918.9,151 1919.6,152.7C1920.2,154.5 1921.6,162.7 1921.5,164.5C1921.4,166.2 1919.4,174.8 1918.6,176.2C1917.8,177.5 1912.3,182.3 1910.8,183C1909.2,183.7 1899.5,185.9 1897.1,185.9C1894.7,185.9 1880.4,183.4 1877.6,183C1874.7,182.6 1860.9,180.1 1858,180.1C1855.2,180 1840.9,181.5 1838.5,182C1836.1,182.6 1826.8,186.9 1824.8,187.9C1822.8,188.9 1812.7,194.8 1811.2,195.7C1809.6,196.6 1805.5,199.5 1803.7,200.4C1802,201.3 1789.7,206.9 1787.2,207.9C1784.8,208.8 1773.2,212.9 1770.8,213.6C1768.4,214.3 1756.2,217.2 1754.3,217.7C1752.4,218.3 1745.9,220.6 1744.4,221C1743,221.4 1735.9,223.4 1734.5,223.4C1733.2,223.4 1727.3,221.4 1726.3,220.9C1725.3,220.5 1720.1,217.2 1721.3,216.8C1722.5,216.5 1741.4,216.6 1742.7,216.4C1744,216.2 1739.5,214.9 1738.8,214.5C1738.1,214 1733.8,211.1 1733,210.5C1732.1,210 1728.4,206.8 1727.1,206.6C1725.8,206.5 1717.1,208.5 1715.4,208.6C1713.7,208.7 1705.4,208 1703.7,207.6C1701.9,207.2 1693.2,203.6 1691.9,202.7C1690.6,201.9 1686.5,196.4 1686.1,195.9"/>
<path class="n" d="M1705.6,192C1705.3,191.1 1710.2,186.8 1711.5,186.1C1712.8,185.4 1721.2,182.6 1723.2,182.2C1725.2,181.9 1736.8,181.1 1738.8,181.2C1740.8,181.4 1749.4,183.6 1750.5,184.2C1751.7,184.8 1752.6,188.6 1754.4,189.1C1756.3,189.5 1774.2,189.8 1775.9,190C1777.6,190.3 1778.1,191.5 1777.5,192C1776.9,192.5 1769.7,196.2 1768.1,196.5C1766.6,196.7 1758,195.2 1756.4,195.3C1754.8,195.5 1748.5,198.1 1746.6,198.4C1744.8,198.8 1733.3,199.8 1731,199.8C1728.7,199.8 1717.2,198.4 1715.4,197.9C1713.5,197.3 1705.9,192.9 1705.6,192Z"/>
<path class="n" d="M1676.3,195.3C1676.9,194.9 1682.5,190 1684.1,189.1C1685.7,188.2 1695.6,183.9 1697.8,183.2C1699.9,182.5 1711.3,179.8 1713.4,179.3C1715.6,178.8 1724.9,177.1 1727.1,177C1729.2,176.8 1740.4,177.2 1742.7,177.3C1745,177.5 1756.1,179 1758.3,179.3C1760.6,179.6 1771.5,181.2 1774,181.2C1776.4,181.2 1789.2,179.7 1791.5,179.3C1793.9,178.9 1804.9,175.7 1806,175.4"/>
<path class="n" d="M1684.1,212.5C1684.7,212.4 1690.8,211.5 1691.9,211.5C1693.1,211.5 1698.6,212.1 1699.8,212.5C1700.9,212.9 1706.1,215.8 1707.6,216.4C1709,217 1717.6,219.8 1719.3,220.3C1721,220.8 1729.3,223 1731,223.2C1732.7,223.5 1740.7,224.3 1742.7,224.2C1744.7,224.1 1755.8,223 1758.3,222.3C1760.9,221.5 1775.3,215.6 1777.9,214.5C1780.5,213.3 1791.4,207.6 1793.5,206.6C1795.6,205.6 1805.1,201.2 1806,200.8"/>
<path class="n" d="M1661.7,193.9 1662.6,204.7 1670.5,198.8 1676.3,194.9"/>
<path class="n" d="M1609.9,249.6C1610.8,249 1619.8,242.8 1621.6,241.8C1623.5,240.8 1633.1,236.8 1635.3,235.9C1637.4,235.1 1648.9,230.7 1650.9,230.1C1652.9,229.4 1660.9,227.6 1662.6,227.1C1664.4,226.6 1672.8,223.9 1674.4,223.2C1675.9,222.6 1683.1,219.1 1684.1,218.4C1685.1,217.6 1687.7,213.8 1688,213.5"/>
<ellipse class="n" cx="1617" cy="227.5" rx="3" ry="2"/>
</g>
<rect x="1607.4" y="59.5" width="318.3" height="314.1" fill="none" stroke="#9a9a9a" stroke-width="1"/>
<text class="L" transform="translate(1558.8 24.4) scale(0.965 1)">E</text>
<text class="t" x="1638.4" y="55.4">+2 days</text>
<text class="t" text-anchor="end" x="1604" y="378">0°</text>
<text class="t" text-anchor="end" x="1604" y="333.2">10°N</text>
<text class="t" text-anchor="end" x="1604" y="288.5">20°N</text>
<text class="t" text-anchor="end" x="1604" y="243.8">30°N</text>
<text class="t" text-anchor="end" x="1604" y="199">40°N</text>
<text class="t" text-anchor="end" x="1604" y="154.3">50°N</text>
<text class="t" text-anchor="end" x="1604" y="109.5">60°N</text>
<text class="t" text-anchor="end" x="1604" y="64.8">70°N</text>
<text class="t" text-anchor="middle" x="1652.5" y="390.2">120°E</text>
<text class="t" text-anchor="middle" x="1742.2" y="390.2">140°E</text>
<text class="t" text-anchor="middle" x="1831.9" y="390.2">160°E</text>
<text class="t" text-anchor="middle" x="1921.5" y="390.2">180°</text>
</g>
<g id="colorbar">
<path d="M621.1,434.8 L581.6,454.1 L621.1,473.5 Z" fill="#503315"/>
<rect x="620.8" y="434.8" width="39.3" height="38.7" fill="#623c16"/>
<rect x="659.8" y="434.8" width="39.3" height="38.7" fill="#7f4d20"/>
<rect x="698.8" y="434.8" width="39.3" height="38.7" fill="#98632a"/>
<rect x="737.8" y="434.8" width="39.3" height="38.7" fill="#b27830"/>
<rect x="776.8" y="434.8" width="39.3" height="38.7" fill="#c99242"/>
<rect x="815.8" y="434.8" width="39.3" height="38.7" fill="#d9b16e"/>
<rect x="854.8" y="434.8" width="39.3" height="38.7" fill="#ead08f"/>
<rect x="893.8" y="434.8" width="39.3" height="38.7" fill="#f2e2b5"/>
<rect x="932.8" y="434.8" width="39.3" height="38.7" fill="#f7ecd1"/>
<rect x="971.8" y="434.8" width="39.3" height="38.7" fill="#f8f4ea"/>
<rect x="1010.8" y="434.8" width="39.3" height="38.7" fill="#edf4f5"/>
<rect x="1049.8" y="434.8" width="39.3" height="38.7" fill="#d1ebeb"/>
<rect x="1088.8" y="434.8" width="39.3" height="38.7" fill="#b3dfda"/>
<rect x="1127.8" y="434.8" width="39.3" height="38.7" fill="#95d2c6"/>
<rect x="1166.8" y="434.8" width="39.3" height="38.7" fill="#70c0b3"/>
<rect x="1205.8" y="434.8" width="39.3" height="38.7" fill="#44a79c"/>
<rect x="1244.8" y="434.8" width="39.3" height="38.7" fill="#278a82"/>
<rect x="1283.8" y="434.8" width="39.3" height="38.7" fill="#12726c"/>
<rect x="1322.8" y="434.8" width="39.3" height="38.7" fill="#0e5e56"/>
<rect x="1361.8" y="434.8" width="39" height="38.7" fill="#0a4a42"/>
<path d="M1400.5,434.8 L1440,454.1 L1400.5,473.5 Z" fill="#0c3b32"/>
<path d="M620.8,434.8 H1400.8 M620.8,473.5 H1400.8" stroke="#000" stroke-opacity=".28" stroke-width=".9" fill="none"/>
<text class="c" text-anchor="middle" x="659.8" y="488.9">−2.7</text>
<path d="M659.8,473 v2" stroke="#222" stroke-width=".9"/>
<text class="c" text-anchor="middle" x="776.8" y="488.9">−1.8</text>
<path d="M776.8,473 v2" stroke="#222" stroke-width=".9"/>
<text class="c" text-anchor="middle" x="893.8" y="488.9">−0.9</text>
<path d="M893.8,473 v2" stroke="#222" stroke-width=".9"/>
<text class="c" text-anchor="middle" x="1010.8" y="488.9">0.0</text>
<path d="M1010.8,473 v2" stroke="#222" stroke-width=".9"/>
<text class="c" text-anchor="middle" x="1127.8" y="488.9">0.9</text>
<path d="M1127.8,473 v2" stroke="#222" stroke-width=".9"/>
<text class="c" text-anchor="middle" x="1244.8" y="488.9">1.8</text>
<path d="M1244.8,473 v2" stroke="#222" stroke-width=".9"/>
<text class="c" text-anchor="middle" x="1361.8" y="488.9">2.7</text>
<path d="M1361.8,473 v2" stroke="#222" stroke-width=".9"/>
<text class="t" text-anchor="middle" x="1010.8" y="507.9">mm/day</text>
</g>
</svg></body></html>
